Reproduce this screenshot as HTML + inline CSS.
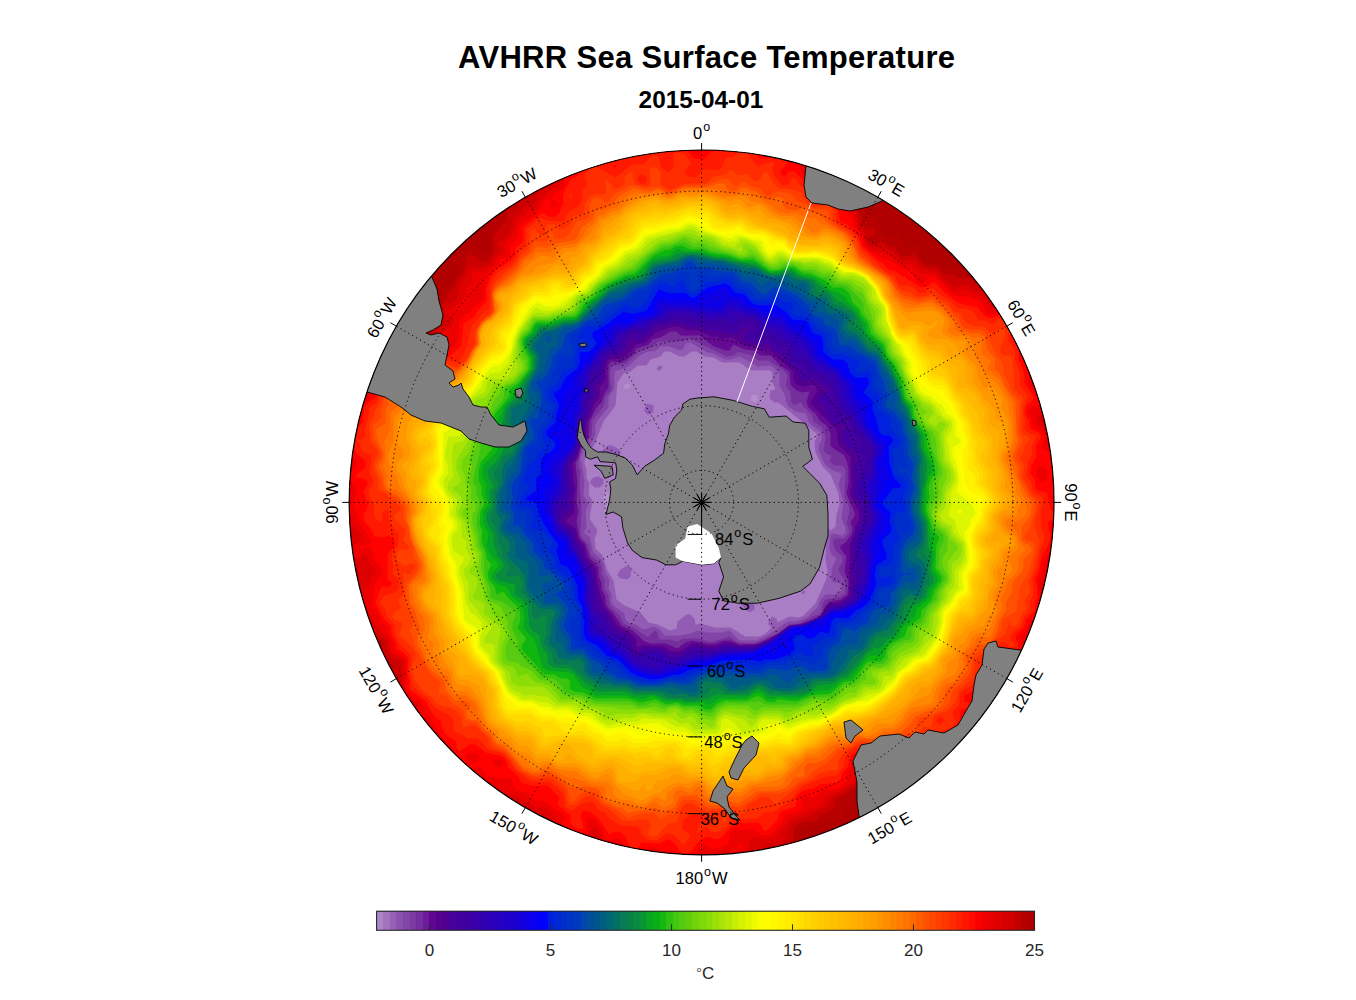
<!DOCTYPE html>
<html><head><meta charset="utf-8"><title>AVHRR Sea Surface Temperature</title>
<style>html,body{margin:0;padding:0;background:#fff;width:1356px;height:1000px;overflow:hidden;font-family:"Liberation Sans",sans-serif}
body{position:relative}</style></head><body>
<svg width="1356" height="1000" viewBox="0 0 1356 1000" style="position:absolute;left:0;top:0">
<defs><clipPath id="dc"><circle cx="701.6" cy="502.4" r="352.4"/></clipPath></defs>
<text x="458" y="67.8" font-family="Liberation Sans" font-weight="bold" font-size="31" letter-spacing="0.32">AVHRR Sea Surface Temperature</text>
<text x="638.6" y="108.2" font-family="Liberation Sans" font-weight="bold" font-size="24.4">2015-04-01</text>
<g clip-path="url(#dc)">
<rect x="340" y="140" width="725" height="725" fill="#b00000"/>
<path fill="#b70000" d="M943.5 850.5 940.5 852.5 940.5 854.5 945.5 857.5 948.5 854.5 948.5 852.5 946.5 850.5ZM999.5 846.5 1001.5 850.5 1006.5 850.5 1006.5 847.5 1003.5 844.5ZM428.5 839.5 428.5 842.5 430.5 843.5 435.5 842.5 432.5 838.5ZM991.5 818.5 989.5 819.5 989.5 821.5 992.5 823.5 993.5 819.5ZM351.5 753.5 352.5 758.5 356.5 759.5 357.5 755.5ZM1062.5 293.5 1060.5 297.5 1062.5 302.5 1064.5 303.5 1064.5 293.5ZM473.5 243.5 474.5 242.5 475.5 244.5 474.5 245.5ZM386.5 208.5 384.5 208.5 381.5 213.5 383.5 219.5 389.5 216.5 389.5 211.5ZM399.5 189.5 400.5 194.5 404.5 194.5 403.5 190.5ZM467.5 171.5 465.5 173.5 467.5 176.5 469.5 176.5 470.5 173.5ZM570.5 140.5 566.5 143.5 563.5 148.5 552.5 154.5 553.5 155.5 550.5 158.5 551.5 159.5 548.5 162.5 549.5 163.5 542.5 175.5 539.5 176.5 532.5 173.5 523.5 175.5 521.5 178.5 523.5 183.5 521.5 185.5 522.5 188.5 518.5 194.5 509.5 200.5 500.5 200.5 497.5 202.5 495.5 208.5 496.5 211.5 493.5 214.5 489.5 215.5 485.5 221.5 485.5 226.5 489.5 231.5 488.5 241.5 491.5 246.5 489.5 251.5 487.5 253.5 484.5 253.5 475.5 247.5 474.5 245.5 478.5 238.5 476.5 236.5 473.5 240.5 473.5 243.5 460.5 252.5 458.5 252.5 452.5 259.5 452.5 262.5 459.5 267.5 459.5 271.5 449.5 283.5 441.5 287.5 440.5 294.5 436.5 299.5 428.5 299.5 428.5 307.5 416.5 317.5 412.5 325.5 403.5 337.5 397.5 342.5 394.5 341.5 394.5 344.5 396.5 343.5 399.5 349.5 396.5 352.5 395.5 351.5 393.5 354.5 392.5 353.5 389.5 360.5 386.5 363.5 376.5 363.5 371.5 367.5 370.5 372.5 357.5 382.5 354.5 382.5 351.5 385.5 347.5 395.5 340.5 400.5 340.5 610.5 344.5 612.5 350.5 612.5 352.5 614.5 351.5 624.5 363.5 649.5 371.5 655.5 372.5 660.5 377.5 664.5 381.5 670.5 384.5 681.5 384.5 690.5 391.5 696.5 393.5 700.5 392.5 710.5 398.5 716.5 397.5 727.5 399.5 733.5 402.5 736.5 417.5 737.5 420.5 740.5 419.5 748.5 425.5 753.5 428.5 760.5 438.5 768.5 440.5 774.5 445.5 780.5 453.5 783.5 461.5 791.5 474.5 798.5 478.5 802.5 479.5 812.5 481.5 814.5 487.5 815.5 494.5 810.5 494.5 806.5 497.5 804.5 498.5 809.5 500.5 811.5 508.5 814.5 509.5 823.5 511.5 825.5 536.5 838.5 532.5 847.5 538.5 857.5 548.5 861.5 568.5 860.5 582.5 864.5 593.5 860.5 596.5 864.5 786.5 864.5 786.5 859.5 788.5 858.5 787.5 855.5 788.5 854.5 791.5 856.5 794.5 855.5 793.5 854.5 796.5 852.5 797.5 844.5 799.5 842.5 799.5 830.5 806.5 826.5 823.5 824.5 826.5 820.5 829.5 819.5 840.5 822.5 842.5 819.5 841.5 814.5 844.5 812.5 843.5 811.5 852.5 805.5 852.5 793.5 855.5 790.5 859.5 790.5 866.5 795.5 873.5 796.5 878.5 784.5 881.5 781.5 886.5 779.5 892.5 782.5 900.5 783.5 903.5 782.5 907.5 776.5 913.5 772.5 917.5 772.5 926.5 777.5 931.5 777.5 933.5 775.5 934.5 777.5 937.5 775.5 943.5 782.5 945.5 780.5 947.5 781.5 955.5 776.5 956.5 770.5 959.5 766.5 969.5 767.5 974.5 760.5 979.5 756.5 987.5 752.5 996.5 753.5 999.5 747.5 1000.5 740.5 1003.5 737.5 1013.5 739.5 1017.5 736.5 1009.5 721.5 1009.5 716.5 1017.5 710.5 1025.5 709.5 1025.5 695.5 1023.5 689.5 1020.5 686.5 1020.5 683.5 1022.5 681.5 1030.5 683.5 1032.5 680.5 1032.5 671.5 1034.5 669.5 1042.5 669.5 1045.5 666.5 1043.5 656.5 1047.5 649.5 1050.5 647.5 1056.5 647.5 1060.5 644.5 1060.5 640.5 1056.5 632.5 1054.5 621.5 1059.5 611.5 1061.5 599.5 1059.5 590.5 1064.5 587.5 1064.5 373.5 1053.5 365.5 1052.5 359.5 1055.5 352.5 1062.5 351.5 1063.5 336.5 1056.5 333.5 1046.5 318.5 1036.5 308.5 1037.5 298.5 1029.5 287.5 1019.5 290.5 1008.5 279.5 1006.5 271.5 1004.5 269.5 992.5 269.5 981.5 264.5 978.5 264.5 970.5 269.5 962.5 269.5 956.5 267.5 949.5 269.5 944.5 268.5 937.5 262.5 930.5 263.5 924.5 260.5 919.5 254.5 919.5 245.5 916.5 244.5 906.5 249.5 903.5 246.5 900.5 236.5 898.5 234.5 894.5 235.5 891.5 238.5 885.5 238.5 879.5 231.5 880.5 223.5 869.5 212.5 865.5 211.5 865.5 209.5 862.5 208.5 863.5 206.5 861.5 204.5 862.5 201.5 860.5 198.5 861.5 191.5 859.5 188.5 845.5 181.5 845.5 173.5 847.5 170.5 846.5 163.5 850.5 154.5 846.5 146.5 841.5 141.5Z"/>
<path fill="#cd0000" d="M484.5 807.5 484.5 809.5 486.5 809.5ZM429.5 316.5 423.5 316.5 419.5 322.5 424.5 323.5 429.5 321.5ZM1022.5 301.5 1024.5 299.5 1028.5 300.5 1024.5 303.5ZM575.5 140.5 576.5 141.5 570.5 146.5 568.5 150.5 562.5 156.5 557.5 158.5 558.5 159.5 555.5 161.5 556.5 163.5 549.5 171.5 550.5 172.5 548.5 174.5 546.5 182.5 541.5 186.5 533.5 188.5 528.5 191.5 517.5 203.5 518.5 205.5 515.5 208.5 509.5 208.5 510.5 209.5 508.5 210.5 503.5 205.5 508.5 212.5 506.5 214.5 506.5 220.5 501.5 226.5 497.5 228.5 498.5 229.5 493.5 236.5 493.5 251.5 488.5 259.5 485.5 261.5 481.5 261.5 472.5 254.5 467.5 255.5 462.5 274.5 456.5 280.5 454.5 287.5 447.5 292.5 446.5 298.5 439.5 306.5 440.5 321.5 435.5 324.5 428.5 333.5 421.5 336.5 418.5 340.5 414.5 341.5 411.5 338.5 408.5 338.5 404.5 346.5 405.5 352.5 401.5 358.5 399.5 357.5 395.5 359.5 387.5 371.5 386.5 370.5 384.5 372.5 378.5 372.5 372.5 378.5 371.5 377.5 368.5 380.5 367.5 379.5 364.5 381.5 364.5 387.5 362.5 391.5 354.5 391.5 346.5 402.5 340.5 404.5 340.5 559.5 344.5 566.5 344.5 572.5 340.5 577.5 340.5 582.5 343.5 587.5 340.5 592.5 340.5 599.5 345.5 594.5 348.5 595.5 357.5 613.5 355.5 619.5 356.5 627.5 368.5 637.5 378.5 638.5 383.5 642.5 383.5 644.5 379.5 648.5 376.5 648.5 376.5 655.5 380.5 659.5 386.5 659.5 392.5 663.5 393.5 665.5 390.5 669.5 390.5 672.5 394.5 679.5 391.5 684.5 391.5 687.5 395.5 690.5 397.5 694.5 399.5 707.5 410.5 724.5 409.5 729.5 421.5 735.5 425.5 739.5 427.5 749.5 434.5 760.5 438.5 760.5 443.5 756.5 447.5 756.5 450.5 759.5 451.5 768.5 457.5 773.5 460.5 780.5 464.5 784.5 481.5 795.5 498.5 797.5 514.5 812.5 516.5 821.5 521.5 826.5 525.5 828.5 532.5 828.5 537.5 825.5 539.5 826.5 546.5 840.5 546.5 846.5 541.5 851.5 543.5 854.5 556.5 857.5 566.5 855.5 580.5 859.5 587.5 855.5 594.5 855.5 598.5 858.5 600.5 864.5 769.5 864.5 770.5 862.5 773.5 864.5 773.5 861.5 775.5 864.5 779.5 864.5 779.5 861.5 775.5 861.5 774.5 855.5 777.5 852.5 776.5 851.5 780.5 848.5 791.5 846.5 794.5 843.5 793.5 829.5 795.5 826.5 804.5 821.5 815.5 821.5 820.5 814.5 832.5 809.5 835.5 804.5 835.5 799.5 838.5 796.5 846.5 794.5 852.5 787.5 856.5 785.5 862.5 785.5 865.5 787.5 866.5 790.5 870.5 791.5 870.5 787.5 868.5 785.5 869.5 784.5 868.5 785.5 867.5 783.5 876.5 779.5 882.5 772.5 885.5 772.5 893.5 778.5 898.5 779.5 914.5 767.5 918.5 767.5 925.5 771.5 939.5 768.5 944.5 773.5 949.5 774.5 951.5 772.5 951.5 767.5 955.5 763.5 961.5 760.5 968.5 760.5 982.5 751.5 982.5 741.5 985.5 737.5 987.5 737.5 989.5 742.5 993.5 744.5 994.5 739.5 991.5 734.5 995.5 730.5 1002.5 729.5 999.5 726.5 999.5 720.5 1001.5 716.5 1000.5 710.5 1011.5 706.5 1013.5 703.5 1010.5 696.5 1014.5 690.5 1015.5 677.5 1026.5 671.5 1028.5 665.5 1036.5 653.5 1050.5 638.5 1048.5 623.5 1055.5 611.5 1056.5 605.5 1055.5 600.5 1049.5 591.5 1049.5 588.5 1064.5 580.5 1064.5 404.5 1061.5 399.5 1052.5 391.5 1052.5 389.5 1059.5 382.5 1060.5 377.5 1047.5 363.5 1048.5 350.5 1055.5 342.5 1055.5 340.5 1043.5 326.5 1029.5 302.5 1031.5 299.5 1030.5 296.5 1024.5 295.5 1020.5 297.5 1016.5 295.5 1010.5 288.5 1005.5 287.5 1002.5 284.5 1002.5 274.5 999.5 272.5 988.5 273.5 982.5 281.5 975.5 283.5 971.5 278.5 970.5 279.5 968.5 277.5 963.5 277.5 960.5 279.5 958.5 277.5 957.5 278.5 954.5 274.5 944.5 274.5 936.5 266.5 927.5 266.5 922.5 263.5 913.5 253.5 910.5 255.5 902.5 256.5 897.5 252.5 895.5 247.5 891.5 247.5 880.5 241.5 873.5 244.5 869.5 240.5 869.5 237.5 874.5 233.5 873.5 228.5 871.5 226.5 872.5 225.5 869.5 228.5 865.5 228.5 862.5 225.5 862.5 219.5 860.5 217.5 861.5 216.5 859.5 214.5 857.5 207.5 857.5 198.5 855.5 196.5 856.5 194.5 853.5 193.5 854.5 191.5 852.5 192.5 851.5 190.5 849.5 191.5 848.5 189.5 846.5 189.5 846.5 187.5 844.5 187.5 841.5 183.5 842.5 181.5 840.5 179.5 840.5 169.5 846.5 156.5 844.5 152.5 845.5 150.5 842.5 147.5 843.5 146.5 841.5 146.5 834.5 140.5Z"/>
<path fill="#dc0000" d="M722.5 854.5 725.5 857.5 723.5 860.5 719.5 861.5 717.5 857.5ZM582.5 140.5 583.5 143.5 580.5 145.5 581.5 146.5 578.5 147.5 578.5 149.5 574.5 153.5 567.5 157.5 562.5 168.5 554.5 173.5 552.5 178.5 553.5 181.5 551.5 184.5 539.5 192.5 533.5 204.5 524.5 204.5 525.5 205.5 523.5 206.5 521.5 211.5 514.5 216.5 511.5 228.5 508.5 233.5 497.5 243.5 499.5 249.5 493.5 256.5 491.5 262.5 487.5 265.5 482.5 266.5 468.5 266.5 466.5 274.5 459.5 284.5 457.5 297.5 452.5 302.5 447.5 304.5 443.5 309.5 443.5 314.5 446.5 319.5 446.5 322.5 436.5 330.5 435.5 339.5 433.5 341.5 426.5 339.5 418.5 346.5 410.5 346.5 409.5 352.5 411.5 355.5 407.5 361.5 406.5 360.5 404.5 362.5 398.5 363.5 390.5 372.5 384.5 376.5 383.5 375.5 380.5 378.5 379.5 377.5 375.5 382.5 368.5 387.5 367.5 391.5 360.5 399.5 354.5 402.5 350.5 407.5 349.5 406.5 347.5 409.5 345.5 409.5 351.5 411.5 351.5 416.5 348.5 421.5 340.5 428.5 340.5 438.5 344.5 445.5 343.5 450.5 340.5 453.5 340.5 465.5 343.5 474.5 343.5 478.5 340.5 482.5 340.5 497.5 342.5 505.5 340.5 514.5 340.5 542.5 343.5 543.5 347.5 548.5 347.5 556.5 349.5 561.5 358.5 569.5 358.5 578.5 352.5 586.5 352.5 593.5 355.5 602.5 360.5 610.5 361.5 615.5 359.5 624.5 367.5 631.5 381.5 636.5 386.5 641.5 387.5 653.5 401.5 662.5 401.5 682.5 399.5 687.5 401.5 697.5 404.5 701.5 409.5 702.5 414.5 707.5 410.5 713.5 410.5 716.5 414.5 721.5 416.5 727.5 429.5 737.5 431.5 743.5 430.5 744.5 436.5 753.5 442.5 750.5 447.5 751.5 452.5 756.5 455.5 765.5 461.5 773.5 473.5 783.5 481.5 787.5 489.5 788.5 493.5 792.5 509.5 800.5 514.5 805.5 525.5 806.5 529.5 808.5 533.5 816.5 531.5 819.5 528.5 818.5 527.5 822.5 530.5 821.5 535.5 814.5 543.5 813.5 549.5 825.5 547.5 833.5 554.5 845.5 557.5 846.5 566.5 839.5 573.5 839.5 581.5 846.5 588.5 849.5 596.5 850.5 601.5 855.5 604.5 861.5 610.5 864.5 638.5 864.5 641.5 861.5 646.5 864.5 759.5 864.5 765.5 857.5 764.5 847.5 770.5 843.5 775.5 844.5 784.5 841.5 783.5 839.5 786.5 838.5 785.5 834.5 787.5 832.5 787.5 829.5 795.5 820.5 810.5 815.5 811.5 813.5 828.5 805.5 829.5 800.5 832.5 796.5 842.5 792.5 861.5 777.5 868.5 776.5 873.5 773.5 878.5 766.5 885.5 766.5 893.5 772.5 897.5 772.5 903.5 767.5 904.5 768.5 913.5 763.5 918.5 762.5 924.5 765.5 929.5 765.5 941.5 756.5 952.5 758.5 963.5 748.5 967.5 752.5 976.5 751.5 978.5 738.5 982.5 731.5 992.5 721.5 993.5 708.5 998.5 703.5 1005.5 701.5 1006.5 692.5 1010.5 687.5 1012.5 675.5 1016.5 671.5 1021.5 670.5 1023.5 668.5 1030.5 654.5 1031.5 645.5 1039.5 640.5 1041.5 626.5 1051.5 608.5 1051.5 601.5 1044.5 591.5 1044.5 586.5 1053.5 579.5 1054.5 573.5 1056.5 571.5 1064.5 569.5 1064.5 484.5 1062.5 482.5 1062.5 477.5 1064.5 474.5 1064.5 454.5 1056.5 442.5 1058.5 434.5 1056.5 424.5 1056.5 402.5 1048.5 395.5 1045.5 390.5 1053.5 379.5 1052.5 374.5 1044.5 366.5 1040.5 356.5 1046.5 344.5 1046.5 340.5 1040.5 340.5 1035.5 336.5 1035.5 319.5 1029.5 308.5 1018.5 306.5 1003.5 293.5 997.5 293.5 995.5 295.5 993.5 294.5 996.5 290.5 995.5 288.5 997.5 285.5 997.5 278.5 992.5 277.5 988.5 284.5 981.5 290.5 975.5 290.5 973.5 288.5 972.5 289.5 968.5 284.5 955.5 286.5 945.5 280.5 936.5 270.5 922.5 268.5 914.5 260.5 911.5 259.5 902.5 260.5 892.5 251.5 881.5 246.5 870.5 246.5 866.5 241.5 864.5 232.5 859.5 226.5 858.5 218.5 854.5 210.5 855.5 209.5 853.5 205.5 848.5 202.5 849.5 201.5 843.5 199.5 844.5 197.5 842.5 196.5 842.5 189.5 836.5 178.5 836.5 166.5 841.5 158.5 841.5 150.5 838.5 148.5 839.5 147.5 827.5 143.5 827.5 140.5Z"/>
<path fill="#ec0000" d="M348.5 529.5 342.5 532.5 341.5 535.5 346.5 537.5 348.5 535.5ZM593.5 140.5 594.5 148.5 572.5 159.5 560.5 175.5 558.5 185.5 541.5 197.5 535.5 208.5 528.5 210.5 523.5 216.5 521.5 216.5 517.5 220.5 514.5 232.5 502.5 244.5 505.5 249.5 505.5 252.5 497.5 256.5 493.5 265.5 480.5 272.5 473.5 270.5 471.5 271.5 472.5 282.5 465.5 286.5 465.5 294.5 455.5 306.5 447.5 310.5 447.5 313.5 452.5 316.5 454.5 320.5 450.5 327.5 441.5 332.5 444.5 342.5 436.5 347.5 423.5 347.5 419.5 351.5 417.5 356.5 418.5 358.5 415.5 361.5 394.5 370.5 388.5 377.5 372.5 387.5 367.5 396.5 356.5 408.5 355.5 418.5 343.5 431.5 343.5 436.5 348.5 445.5 348.5 449.5 345.5 456.5 345.5 459.5 348.5 464.5 347.5 479.5 343.5 486.5 343.5 489.5 346.5 492.5 345.5 518.5 349.5 527.5 354.5 526.5 361.5 534.5 361.5 538.5 352.5 545.5 352.5 554.5 356.5 559.5 365.5 554.5 367.5 556.5 368.5 563.5 376.5 569.5 376.5 572.5 370.5 577.5 369.5 584.5 364.5 588.5 358.5 588.5 356.5 593.5 357.5 596.5 363.5 602.5 363.5 607.5 366.5 612.5 371.5 616.5 373.5 622.5 389.5 641.5 390.5 651.5 392.5 654.5 400.5 657.5 404.5 661.5 403.5 692.5 405.5 696.5 418.5 703.5 419.5 707.5 416.5 712.5 416.5 717.5 424.5 721.5 435.5 735.5 436.5 740.5 445.5 745.5 452.5 752.5 460.5 767.5 467.5 774.5 482.5 781.5 491.5 782.5 496.5 786.5 496.5 788.5 499.5 791.5 504.5 793.5 515.5 794.5 535.5 807.5 545.5 807.5 555.5 818.5 556.5 829.5 553.5 834.5 555.5 839.5 560.5 839.5 568.5 834.5 579.5 837.5 585.5 837.5 593.5 827.5 598.5 830.5 600.5 834.5 600.5 842.5 607.5 849.5 609.5 849.5 612.5 846.5 616.5 846.5 621.5 859.5 624.5 861.5 628.5 861.5 633.5 856.5 643.5 856.5 654.5 864.5 697.5 864.5 704.5 852.5 711.5 853.5 719.5 850.5 728.5 850.5 740.5 858.5 742.5 857.5 743.5 862.5 743.5 855.5 748.5 848.5 748.5 842.5 751.5 837.5 757.5 837.5 761.5 839.5 773.5 838.5 791.5 817.5 801.5 814.5 809.5 808.5 811.5 809.5 821.5 805.5 826.5 795.5 842.5 789.5 852.5 781.5 857.5 774.5 860.5 774.5 862.5 772.5 863.5 773.5 865.5 771.5 866.5 772.5 875.5 763.5 882.5 762.5 887.5 764.5 889.5 763.5 891.5 765.5 893.5 763.5 895.5 764.5 896.5 762.5 897.5 764.5 899.5 762.5 904.5 763.5 906.5 761.5 907.5 763.5 915.5 759.5 929.5 761.5 938.5 753.5 951.5 753.5 959.5 744.5 971.5 740.5 977.5 735.5 980.5 727.5 980.5 722.5 988.5 715.5 991.5 705.5 1001.5 696.5 1001.5 692.5 997.5 688.5 997.5 685.5 1005.5 684.5 1008.5 681.5 1011.5 671.5 1015.5 667.5 1020.5 665.5 1020.5 657.5 1025.5 651.5 1026.5 639.5 1034.5 633.5 1035.5 624.5 1043.5 617.5 1047.5 602.5 1041.5 591.5 1041.5 583.5 1048.5 577.5 1048.5 573.5 1046.5 570.5 1047.5 562.5 1050.5 559.5 1055.5 558.5 1058.5 554.5 1059.5 549.5 1056.5 544.5 1056.5 539.5 1064.5 531.5 1064.5 489.5 1060.5 487.5 1057.5 482.5 1060.5 470.5 1059.5 455.5 1057.5 450.5 1050.5 443.5 1050.5 434.5 1038.5 423.5 1037.5 417.5 1039.5 415.5 1044.5 414.5 1048.5 417.5 1046.5 412.5 1048.5 402.5 1036.5 385.5 1036.5 382.5 1038.5 380.5 1045.5 380.5 1046.5 375.5 1040.5 367.5 1037.5 360.5 1031.5 354.5 1034.5 342.5 1030.5 335.5 1031.5 321.5 1030.5 315.5 1027.5 311.5 1014.5 309.5 1012.5 310.5 1008.5 308.5 1002.5 301.5 996.5 303.5 992.5 307.5 989.5 306.5 988.5 303.5 982.5 297.5 972.5 293.5 967.5 289.5 966.5 290.5 963.5 288.5 955.5 291.5 952.5 290.5 934.5 273.5 921.5 273.5 911.5 264.5 900.5 263.5 890.5 254.5 869.5 248.5 863.5 239.5 863.5 235.5 857.5 228.5 858.5 227.5 856.5 225.5 857.5 223.5 855.5 220.5 856.5 218.5 854.5 216.5 855.5 215.5 853.5 211.5 840.5 200.5 839.5 193.5 837.5 191.5 838.5 189.5 835.5 184.5 834.5 175.5 830.5 169.5 833.5 162.5 830.5 165.5 829.5 164.5 831.5 159.5 827.5 164.5 826.5 162.5 824.5 164.5 822.5 163.5 823.5 162.5 820.5 163.5 818.5 156.5 810.5 154.5 808.5 150.5 810.5 140.5Z"/>
<path fill="#ff0200" d="M741.5 843.5 737.5 845.5 738.5 849.5 742.5 848.5ZM492.5 761.5 495.5 759.5 500.5 759.5 503.5 762.5 503.5 764.5 500.5 767.5 496.5 767.5ZM476.5 752.5 479.5 756.5 477.5 760.5 472.5 764.5 465.5 758.5 465.5 756.5 468.5 753.5ZM967.5 718.5 970.5 717.5 971.5 721.5 969.5 722.5ZM1039.5 466.5 1044.5 467.5 1047.5 471.5 1047.5 477.5 1043.5 482.5 1039.5 480.5 1036.5 474.5 1036.5 469.5ZM804.5 159.5 802.5 161.5 802.5 164.5ZM693.5 142.5 699.5 143.5 702.5 146.5 703.5 149.5 700.5 154.5 695.5 154.5 690.5 149.5 690.5 145.5ZM800.5 140.5 791.5 140.5 787.5 144.5 783.5 140.5 610.5 140.5 596.5 154.5 583.5 157.5 577.5 161.5 572.5 167.5 572.5 169.5 565.5 176.5 563.5 187.5 559.5 191.5 555.5 192.5 553.5 194.5 554.5 195.5 551.5 197.5 556.5 202.5 556.5 206.5 551.5 206.5 550.5 199.5 548.5 198.5 543.5 200.5 540.5 208.5 528.5 219.5 520.5 224.5 517.5 237.5 515.5 238.5 516.5 239.5 509.5 244.5 510.5 254.5 507.5 257.5 500.5 259.5 497.5 265.5 489.5 272.5 486.5 277.5 482.5 300.5 476.5 304.5 468.5 313.5 466.5 313.5 459.5 321.5 457.5 341.5 455.5 345.5 446.5 351.5 433.5 350.5 426.5 352.5 423.5 361.5 420.5 364.5 415.5 364.5 403.5 371.5 397.5 372.5 385.5 383.5 374.5 389.5 369.5 398.5 361.5 406.5 359.5 412.5 359.5 419.5 348.5 431.5 348.5 438.5 351.5 445.5 351.5 457.5 356.5 462.5 355.5 467.5 352.5 469.5 350.5 473.5 350.5 480.5 352.5 484.5 356.5 487.5 356.5 493.5 353.5 499.5 353.5 504.5 360.5 524.5 370.5 539.5 370.5 542.5 367.5 545.5 361.5 545.5 357.5 549.5 358.5 550.5 364.5 546.5 368.5 546.5 373.5 551.5 373.5 560.5 377.5 562.5 382.5 568.5 382.5 573.5 376.5 580.5 374.5 585.5 371.5 605.5 376.5 610.5 381.5 622.5 387.5 627.5 387.5 632.5 393.5 643.5 394.5 651.5 402.5 655.5 406.5 660.5 406.5 691.5 410.5 695.5 422.5 702.5 424.5 712.5 429.5 717.5 440.5 735.5 451.5 746.5 462.5 764.5 467.5 769.5 472.5 770.5 476.5 766.5 478.5 766.5 482.5 769.5 486.5 776.5 494.5 776.5 499.5 779.5 509.5 777.5 512.5 780.5 512.5 785.5 516.5 790.5 527.5 792.5 534.5 800.5 543.5 801.5 554.5 809.5 561.5 812.5 564.5 815.5 564.5 818.5 561.5 823.5 561.5 828.5 563.5 830.5 570.5 829.5 578.5 833.5 583.5 833.5 587.5 829.5 586.5 819.5 588.5 817.5 593.5 818.5 601.5 828.5 604.5 838.5 606.5 840.5 618.5 838.5 622.5 842.5 624.5 847.5 632.5 852.5 644.5 851.5 649.5 846.5 661.5 850.5 666.5 850.5 670.5 848.5 681.5 859.5 687.5 859.5 693.5 856.5 698.5 848.5 703.5 844.5 711.5 848.5 716.5 848.5 725.5 845.5 728.5 842.5 729.5 833.5 735.5 827.5 741.5 830.5 752.5 829.5 763.5 835.5 770.5 834.5 779.5 825.5 785.5 814.5 797.5 811.5 802.5 808.5 801.5 807.5 803.5 803.5 801.5 799.5 803.5 797.5 810.5 796.5 813.5 798.5 820.5 790.5 833.5 789.5 841.5 786.5 846.5 780.5 846.5 774.5 851.5 767.5 853.5 760.5 856.5 758.5 859.5 758.5 866.5 766.5 869.5 762.5 870.5 763.5 871.5 761.5 876.5 759.5 888.5 761.5 890.5 759.5 891.5 760.5 893.5 758.5 897.5 758.5 898.5 756.5 902.5 756.5 903.5 758.5 908.5 758.5 909.5 756.5 911.5 758.5 913.5 756.5 914.5 757.5 920.5 755.5 921.5 757.5 929.5 757.5 935.5 750.5 943.5 750.5 949.5 747.5 949.5 745.5 955.5 740.5 956.5 741.5 968.5 734.5 973.5 734.5 975.5 731.5 974.5 720.5 977.5 716.5 982.5 713.5 988.5 702.5 987.5 700.5 982.5 699.5 977.5 695.5 977.5 690.5 981.5 686.5 990.5 685.5 996.5 678.5 1005.5 678.5 1010.5 666.5 1011.5 658.5 1022.5 647.5 1020.5 635.5 1027.5 629.5 1029.5 620.5 1040.5 614.5 1041.5 596.5 1038.5 589.5 1038.5 578.5 1042.5 572.5 1043.5 560.5 1052.5 549.5 1052.5 539.5 1055.5 533.5 1056.5 525.5 1061.5 515.5 1060.5 507.5 1064.5 500.5 1064.5 494.5 1055.5 488.5 1052.5 479.5 1053.5 469.5 1050.5 466.5 1050.5 462.5 1054.5 457.5 1054.5 453.5 1051.5 450.5 1044.5 449.5 1041.5 447.5 1044.5 440.5 1044.5 434.5 1033.5 424.5 1028.5 410.5 1031.5 407.5 1039.5 405.5 1042.5 402.5 1042.5 399.5 1040.5 395.5 1029.5 384.5 1028.5 381.5 1029.5 376.5 1035.5 370.5 1035.5 367.5 1033.5 364.5 1025.5 362.5 1021.5 357.5 1022.5 352.5 1028.5 342.5 1026.5 337.5 1025.5 317.5 1022.5 315.5 1015.5 316.5 1006.5 313.5 1001.5 309.5 994.5 313.5 988.5 314.5 985.5 311.5 983.5 304.5 978.5 299.5 974.5 299.5 969.5 296.5 967.5 297.5 965.5 295.5 960.5 297.5 952.5 294.5 934.5 276.5 929.5 276.5 923.5 282.5 920.5 282.5 914.5 277.5 910.5 269.5 902.5 269.5 889.5 260.5 882.5 258.5 870.5 251.5 863.5 244.5 860.5 234.5 853.5 225.5 853.5 219.5 850.5 217.5 852.5 215.5 850.5 215.5 847.5 211.5 845.5 212.5 845.5 210.5 838.5 203.5 839.5 202.5 837.5 200.5 836.5 194.5 830.5 187.5 832.5 179.5 829.5 173.5 822.5 170.5 820.5 173.5 819.5 172.5 820.5 174.5 818.5 176.5 818.5 180.5 814.5 182.5 809.5 180.5 802.5 174.5 799.5 165.5 800.5 161.5 797.5 164.5 793.5 162.5 793.5 151.5 802.5 146.5 802.5 141.5Z"/>
<path fill="#ff1900" d="M612.5 165.5 615.5 164.5 616.5 166.5 614.5 168.5ZM767.5 144.5 770.5 146.5 774.5 145.5 777.5 140.5 768.5 140.5ZM752.5 140.5 742.5 140.5 740.5 144.5 733.5 148.5 725.5 144.5 721.5 144.5 714.5 151.5 710.5 151.5 707.5 156.5 703.5 159.5 694.5 158.5 683.5 147.5 681.5 140.5 677.5 140.5 668.5 149.5 666.5 149.5 663.5 146.5 662.5 140.5 654.5 140.5 654.5 146.5 647.5 151.5 644.5 151.5 635.5 146.5 632.5 147.5 629.5 153.5 625.5 156.5 618.5 147.5 612.5 147.5 607.5 150.5 600.5 158.5 589.5 159.5 585.5 161.5 581.5 165.5 578.5 175.5 570.5 179.5 562.5 195.5 563.5 204.5 560.5 208.5 559.5 213.5 553.5 217.5 546.5 215.5 544.5 213.5 540.5 213.5 523.5 227.5 523.5 239.5 521.5 243.5 515.5 247.5 514.5 256.5 509.5 261.5 495.5 270.5 490.5 277.5 486.5 288.5 486.5 301.5 478.5 309.5 473.5 317.5 463.5 323.5 461.5 345.5 450.5 355.5 431.5 355.5 429.5 361.5 427.5 361.5 426.5 364.5 418.5 369.5 417.5 368.5 413.5 370.5 409.5 374.5 408.5 373.5 407.5 376.5 400.5 376.5 398.5 378.5 395.5 378.5 394.5 380.5 393.5 379.5 383.5 388.5 378.5 390.5 376.5 392.5 375.5 397.5 368.5 402.5 364.5 407.5 362.5 422.5 353.5 430.5 351.5 435.5 355.5 452.5 364.5 460.5 365.5 463.5 364.5 468.5 355.5 475.5 356.5 477.5 363.5 478.5 367.5 481.5 367.5 484.5 363.5 491.5 367.5 504.5 367.5 507.5 363.5 514.5 364.5 521.5 370.5 528.5 374.5 536.5 383.5 537.5 389.5 535.5 394.5 539.5 394.5 544.5 387.5 554.5 387.5 579.5 392.5 583.5 388.5 587.5 382.5 586.5 380.5 588.5 375.5 602.5 383.5 618.5 391.5 626.5 391.5 634.5 396.5 642.5 397.5 648.5 403.5 652.5 408.5 658.5 407.5 673.5 409.5 680.5 409.5 689.5 426.5 701.5 428.5 707.5 436.5 718.5 441.5 721.5 441.5 726.5 445.5 734.5 456.5 741.5 456.5 747.5 459.5 751.5 469.5 744.5 475.5 744.5 485.5 752.5 502.5 756.5 506.5 760.5 508.5 767.5 518.5 776.5 521.5 782.5 530.5 785.5 547.5 785.5 559.5 797.5 557.5 804.5 570.5 815.5 570.5 823.5 578.5 829.5 583.5 828.5 580.5 814.5 583.5 810.5 589.5 811.5 598.5 818.5 609.5 834.5 614.5 831.5 621.5 832.5 625.5 836.5 629.5 846.5 632.5 848.5 637.5 848.5 641.5 842.5 660.5 843.5 666.5 839.5 669.5 839.5 675.5 844.5 681.5 853.5 686.5 854.5 692.5 850.5 697.5 842.5 706.5 836.5 716.5 839.5 720.5 838.5 736.5 821.5 744.5 823.5 757.5 822.5 761.5 825.5 763.5 830.5 766.5 830.5 776.5 821.5 780.5 811.5 795.5 806.5 797.5 795.5 801.5 791.5 810.5 788.5 812.5 789.5 819.5 784.5 837.5 782.5 840.5 779.5 842.5 772.5 847.5 766.5 851.5 754.5 858.5 751.5 861.5 751.5 863.5 753.5 865.5 751.5 867.5 754.5 871.5 754.5 872.5 752.5 874.5 755.5 876.5 754.5 878.5 756.5 886.5 758.5 898.5 752.5 906.5 752.5 907.5 750.5 909.5 751.5 911.5 749.5 912.5 751.5 914.5 749.5 916.5 751.5 918.5 749.5 920.5 750.5 921.5 748.5 923.5 750.5 924.5 747.5 926.5 749.5 927.5 747.5 929.5 748.5 930.5 746.5 936.5 744.5 943.5 744.5 952.5 734.5 959.5 732.5 961.5 727.5 961.5 719.5 959.5 715.5 960.5 710.5 964.5 708.5 973.5 708.5 973.5 706.5 970.5 703.5 964.5 701.5 964.5 695.5 972.5 691.5 978.5 683.5 989.5 681.5 995.5 672.5 1003.5 673.5 1005.5 671.5 1005.5 665.5 1002.5 658.5 1006.5 654.5 1017.5 649.5 1018.5 643.5 1015.5 638.5 1015.5 635.5 1024.5 626.5 1025.5 619.5 1035.5 610.5 1034.5 602.5 1037.5 597.5 1035.5 577.5 1038.5 572.5 1041.5 556.5 1047.5 546.5 1050.5 535.5 1047.5 523.5 1054.5 516.5 1053.5 511.5 1050.5 509.5 1047.5 494.5 1044.5 491.5 1038.5 490.5 1035.5 487.5 1034.5 479.5 1030.5 473.5 1031.5 465.5 1036.5 456.5 1035.5 446.5 1040.5 438.5 1040.5 435.5 1038.5 432.5 1029.5 428.5 1029.5 421.5 1025.5 413.5 1026.5 406.5 1034.5 397.5 1024.5 383.5 1024.5 375.5 1021.5 364.5 1018.5 359.5 1019.5 347.5 1013.5 338.5 1013.5 336.5 1020.5 331.5 1020.5 324.5 1000.5 314.5 993.5 317.5 987.5 317.5 980.5 311.5 978.5 307.5 959.5 303.5 944.5 292.5 933.5 281.5 927.5 286.5 920.5 287.5 910.5 280.5 907.5 280.5 906.5 277.5 905.5 278.5 904.5 276.5 902.5 276.5 894.5 270.5 893.5 271.5 888.5 269.5 882.5 262.5 879.5 261.5 862.5 246.5 857.5 234.5 847.5 224.5 840.5 221.5 838.5 210.5 839.5 209.5 833.5 200.5 834.5 199.5 832.5 196.5 829.5 195.5 830.5 194.5 825.5 193.5 822.5 190.5 820.5 190.5 820.5 188.5 812.5 186.5 805.5 182.5 794.5 171.5 788.5 171.5 785.5 175.5 781.5 175.5 780.5 170.5 785.5 165.5 788.5 158.5 787.5 150.5 780.5 149.5 772.5 155.5 765.5 158.5 759.5 158.5 757.5 156.5 757.5 150.5 759.5 146.5Z"/>
<path fill="#ff2c00" d="M940.5 716.5 944.5 719.5 941.5 724.5 939.5 724.5 936.5 721.5 936.5 719.5ZM569.5 194.5 569.5 197.5 571.5 198.5 571.5 194.5ZM640.5 174.5 643.5 174.5 646.5 177.5 646.5 181.5 644.5 183.5 640.5 183.5 637.5 180.5 637.5 177.5ZM616.5 152.5 613.5 151.5 610.5 154.5 611.5 157.5 616.5 156.5ZM746.5 150.5 740.5 150.5 732.5 157.5 726.5 157.5 724.5 159.5 722.5 166.5 719.5 169.5 703.5 169.5 695.5 177.5 688.5 176.5 685.5 173.5 685.5 169.5 690.5 163.5 690.5 161.5 684.5 154.5 679.5 152.5 673.5 153.5 673.5 167.5 668.5 172.5 661.5 167.5 657.5 155.5 652.5 155.5 643.5 164.5 631.5 164.5 615.5 177.5 595.5 166.5 589.5 168.5 584.5 175.5 587.5 184.5 582.5 190.5 582.5 198.5 578.5 206.5 568.5 211.5 563.5 221.5 547.5 220.5 540.5 218.5 535.5 221.5 526.5 229.5 525.5 244.5 518.5 252.5 516.5 258.5 510.5 265.5 499.5 271.5 495.5 275.5 489.5 287.5 489.5 309.5 484.5 311.5 471.5 326.5 467.5 345.5 461.5 358.5 456.5 362.5 441.5 358.5 438.5 365.5 435.5 368.5 431.5 366.5 428.5 368.5 426.5 367.5 412.5 376.5 411.5 378.5 410.5 377.5 409.5 379.5 405.5 381.5 403.5 380.5 396.5 384.5 394.5 383.5 379.5 393.5 376.5 402.5 368.5 408.5 369.5 411.5 364.5 431.5 365.5 435.5 362.5 439.5 356.5 439.5 360.5 444.5 360.5 449.5 362.5 450.5 362.5 452.5 371.5 454.5 369.5 474.5 371.5 475.5 373.5 482.5 368.5 490.5 368.5 494.5 373.5 504.5 374.5 517.5 379.5 522.5 382.5 518.5 382.5 512.5 386.5 509.5 388.5 511.5 389.5 522.5 398.5 534.5 398.5 544.5 392.5 553.5 391.5 559.5 393.5 565.5 392.5 573.5 398.5 579.5 399.5 587.5 395.5 592.5 384.5 595.5 379.5 602.5 385.5 609.5 386.5 616.5 394.5 624.5 395.5 635.5 400.5 644.5 410.5 654.5 411.5 658.5 409.5 673.5 413.5 686.5 421.5 694.5 427.5 697.5 434.5 707.5 449.5 715.5 453.5 719.5 453.5 730.5 455.5 732.5 460.5 733.5 467.5 738.5 477.5 738.5 483.5 743.5 486.5 748.5 502.5 753.5 509.5 760.5 514.5 769.5 531.5 781.5 549.5 781.5 562.5 792.5 564.5 798.5 564.5 805.5 567.5 808.5 572.5 810.5 581.5 803.5 592.5 801.5 598.5 810.5 605.5 812.5 608.5 817.5 619.5 825.5 637.5 826.5 640.5 829.5 641.5 834.5 647.5 839.5 656.5 840.5 666.5 833.5 669.5 833.5 675.5 836.5 682.5 844.5 685.5 843.5 690.5 835.5 682.5 829.5 683.5 819.5 688.5 815.5 698.5 814.5 704.5 817.5 710.5 817.5 713.5 820.5 710.5 824.5 706.5 824.5 702.5 820.5 700.5 821.5 696.5 833.5 706.5 826.5 711.5 831.5 717.5 832.5 725.5 828.5 731.5 819.5 734.5 817.5 747.5 819.5 757.5 817.5 766.5 811.5 771.5 812.5 788.5 802.5 802.5 786.5 826.5 776.5 836.5 775.5 843.5 766.5 845.5 756.5 849.5 751.5 856.5 747.5 857.5 748.5 861.5 745.5 875.5 748.5 883.5 754.5 887.5 754.5 891.5 751.5 892.5 752.5 892.5 750.5 894.5 750.5 895.5 748.5 900.5 749.5 910.5 744.5 915.5 744.5 921.5 739.5 932.5 741.5 939.5 737.5 941.5 731.5 952.5 726.5 955.5 722.5 952.5 713.5 953.5 710.5 959.5 704.5 959.5 697.5 961.5 692.5 964.5 689.5 971.5 686.5 979.5 677.5 985.5 678.5 988.5 676.5 988.5 669.5 981.5 662.5 981.5 660.5 984.5 657.5 992.5 654.5 998.5 648.5 999.5 644.5 1002.5 642.5 1005.5 642.5 1009.5 647.5 1014.5 646.5 1013.5 642.5 1010.5 639.5 1010.5 636.5 1014.5 630.5 1019.5 628.5 1022.5 623.5 1023.5 617.5 1030.5 610.5 1029.5 601.5 1033.5 595.5 1032.5 578.5 1036.5 569.5 1040.5 548.5 1044.5 540.5 1044.5 534.5 1041.5 528.5 1040.5 512.5 1043.5 501.5 1042.5 497.5 1032.5 490.5 1031.5 482.5 1026.5 476.5 1028.5 459.5 1032.5 453.5 1031.5 446.5 1036.5 436.5 1035.5 434.5 1029.5 433.5 1024.5 429.5 1025.5 419.5 1023.5 415.5 1023.5 406.5 1027.5 399.5 1027.5 394.5 1019.5 385.5 1020.5 376.5 1015.5 359.5 1014.5 348.5 1008.5 341.5 1008.5 334.5 1010.5 330.5 1009.5 324.5 1004.5 319.5 1000.5 318.5 997.5 319.5 993.5 324.5 992.5 322.5 990.5 323.5 986.5 320.5 979.5 320.5 972.5 311.5 966.5 308.5 957.5 308.5 950.5 300.5 939.5 294.5 933.5 288.5 928.5 289.5 925.5 292.5 919.5 293.5 912.5 286.5 911.5 287.5 909.5 285.5 899.5 285.5 894.5 275.5 885.5 271.5 861.5 248.5 856.5 236.5 850.5 230.5 836.5 221.5 836.5 211.5 830.5 201.5 819.5 201.5 810.5 196.5 807.5 189.5 800.5 185.5 795.5 178.5 792.5 178.5 788.5 184.5 782.5 185.5 773.5 174.5 772.5 168.5 774.5 163.5 772.5 161.5 757.5 166.5 750.5 158.5Z"/>
<path fill="#ff3e00" d="M726.5 818.5 724.5 817.5 722.5 819.5 722.5 823.5 726.5 821.5ZM1008.5 622.5 1009.5 621.5 1010.5 623.5 1009.5 624.5ZM767.5 172.5 764.5 172.5 759.5 179.5 754.5 181.5 746.5 173.5 737.5 175.5 732.5 170.5 729.5 170.5 725.5 174.5 713.5 176.5 705.5 183.5 684.5 183.5 671.5 189.5 668.5 189.5 660.5 184.5 660.5 172.5 657.5 168.5 653.5 166.5 649.5 169.5 650.5 183.5 646.5 186.5 636.5 184.5 633.5 181.5 632.5 174.5 634.5 170.5 624.5 176.5 624.5 184.5 617.5 188.5 613.5 188.5 611.5 184.5 606.5 179.5 604.5 179.5 606.5 192.5 603.5 194.5 596.5 193.5 589.5 196.5 585.5 203.5 583.5 212.5 581.5 214.5 573.5 216.5 571.5 222.5 566.5 227.5 560.5 229.5 554.5 224.5 547.5 224.5 545.5 226.5 544.5 232.5 541.5 235.5 535.5 231.5 535.5 228.5 530.5 230.5 529.5 243.5 526.5 249.5 519.5 256.5 514.5 265.5 502.5 274.5 496.5 280.5 492.5 287.5 491.5 312.5 480.5 321.5 474.5 333.5 475.5 343.5 465.5 360.5 456.5 367.5 445.5 363.5 437.5 372.5 424.5 372.5 412.5 381.5 410.5 381.5 409.5 383.5 408.5 382.5 390.5 388.5 382.5 394.5 379.5 404.5 374.5 410.5 373.5 416.5 369.5 423.5 370.5 442.5 377.5 449.5 377.5 455.5 373.5 462.5 373.5 468.5 378.5 481.5 377.5 489.5 384.5 492.5 388.5 496.5 389.5 500.5 393.5 500.5 400.5 507.5 400.5 509.5 395.5 513.5 394.5 516.5 395.5 520.5 405.5 529.5 403.5 540.5 409.5 547.5 407.5 549.5 400.5 549.5 396.5 553.5 396.5 560.5 402.5 565.5 406.5 566.5 408.5 564.5 413.5 563.5 415.5 566.5 410.5 574.5 407.5 574.5 405.5 572.5 403.5 573.5 403.5 594.5 398.5 599.5 398.5 602.5 401.5 607.5 395.5 611.5 392.5 616.5 394.5 619.5 401.5 622.5 402.5 624.5 399.5 634.5 410.5 645.5 415.5 653.5 415.5 659.5 413.5 661.5 411.5 668.5 415.5 681.5 424.5 692.5 432.5 697.5 436.5 703.5 442.5 706.5 447.5 706.5 457.5 711.5 461.5 717.5 462.5 726.5 465.5 727.5 472.5 724.5 475.5 725.5 487.5 737.5 489.5 744.5 492.5 747.5 505.5 753.5 517.5 769.5 532.5 778.5 549.5 777.5 553.5 779.5 564.5 789.5 566.5 793.5 566.5 799.5 569.5 805.5 575.5 804.5 583.5 797.5 590.5 795.5 593.5 796.5 603.5 806.5 608.5 808.5 622.5 820.5 633.5 821.5 637.5 819.5 647.5 819.5 650.5 822.5 650.5 827.5 647.5 832.5 650.5 836.5 655.5 836.5 668.5 823.5 676.5 822.5 679.5 815.5 679.5 811.5 685.5 803.5 692.5 803.5 705.5 811.5 730.5 809.5 735.5 810.5 739.5 813.5 744.5 813.5 746.5 805.5 760.5 797.5 768.5 796.5 774.5 803.5 777.5 802.5 800.5 784.5 811.5 779.5 819.5 773.5 829.5 770.5 836.5 770.5 838.5 767.5 837.5 763.5 841.5 755.5 846.5 750.5 859.5 743.5 869.5 743.5 886.5 749.5 886.5 747.5 888.5 747.5 888.5 745.5 890.5 745.5 891.5 743.5 897.5 745.5 903.5 744.5 907.5 740.5 908.5 741.5 909.5 739.5 910.5 740.5 918.5 735.5 924.5 726.5 929.5 727.5 931.5 725.5 933.5 716.5 938.5 713.5 946.5 711.5 955.5 702.5 958.5 690.5 971.5 679.5 974.5 670.5 974.5 662.5 976.5 658.5 981.5 653.5 990.5 650.5 994.5 646.5 997.5 639.5 1004.5 635.5 1008.5 624.5 1014.5 626.5 1018.5 623.5 1021.5 614.5 1026.5 608.5 1024.5 600.5 1030.5 591.5 1028.5 581.5 1033.5 569.5 1039.5 540.5 1034.5 526.5 1034.5 519.5 1038.5 507.5 1038.5 500.5 1030.5 492.5 1026.5 482.5 1022.5 477.5 1024.5 465.5 1020.5 459.5 1020.5 456.5 1023.5 452.5 1025.5 444.5 1029.5 439.5 1029.5 437.5 1023.5 434.5 1021.5 431.5 1021.5 404.5 1023.5 398.5 1014.5 389.5 1012.5 358.5 1010.5 355.5 1003.5 355.5 1000.5 352.5 1000.5 347.5 1005.5 334.5 1003.5 327.5 998.5 329.5 993.5 334.5 983.5 326.5 975.5 326.5 969.5 323.5 968.5 324.5 963.5 319.5 960.5 313.5 953.5 311.5 947.5 302.5 938.5 298.5 933.5 293.5 924.5 296.5 916.5 296.5 908.5 291.5 901.5 290.5 890.5 276.5 874.5 265.5 860.5 251.5 855.5 238.5 849.5 232.5 835.5 223.5 832.5 217.5 833.5 212.5 830.5 206.5 826.5 204.5 820.5 206.5 814.5 205.5 807.5 201.5 802.5 195.5 802.5 193.5 793.5 189.5 778.5 188.5 773.5 183.5Z"/>
<path fill="#ff4f00" d="M745.5 181.5 742.5 181.5 737.5 185.5 733.5 185.5 729.5 179.5 723.5 178.5 704.5 185.5 684.5 185.5 671.5 191.5 667.5 191.5 659.5 186.5 643.5 188.5 639.5 186.5 630.5 185.5 622.5 190.5 615.5 192.5 608.5 201.5 604.5 201.5 599.5 197.5 593.5 198.5 589.5 204.5 589.5 214.5 587.5 218.5 576.5 221.5 569.5 233.5 563.5 238.5 555.5 238.5 553.5 236.5 552.5 231.5 550.5 230.5 548.5 234.5 548.5 239.5 546.5 241.5 534.5 241.5 528.5 252.5 519.5 260.5 517.5 265.5 495.5 285.5 492.5 290.5 491.5 297.5 493.5 302.5 493.5 310.5 491.5 314.5 484.5 318.5 476.5 330.5 476.5 344.5 471.5 350.5 467.5 359.5 457.5 368.5 446.5 368.5 443.5 373.5 439.5 375.5 425.5 375.5 401.5 389.5 398.5 388.5 389.5 391.5 383.5 398.5 382.5 407.5 380.5 410.5 380.5 418.5 373.5 424.5 372.5 427.5 373.5 439.5 380.5 450.5 380.5 456.5 375.5 466.5 381.5 481.5 381.5 486.5 383.5 487.5 383.5 489.5 395.5 497.5 404.5 507.5 403.5 516.5 408.5 528.5 409.5 538.5 413.5 546.5 413.5 557.5 418.5 563.5 417.5 571.5 406.5 583.5 405.5 600.5 412.5 617.5 412.5 626.5 408.5 631.5 411.5 633.5 414.5 645.5 429.5 673.5 440.5 682.5 438.5 691.5 439.5 694.5 440.5 693.5 446.5 696.5 452.5 704.5 460.5 707.5 463.5 711.5 465.5 719.5 468.5 721.5 476.5 722.5 482.5 730.5 490.5 737.5 492.5 742.5 496.5 746.5 504.5 750.5 513.5 759.5 521.5 770.5 535.5 776.5 542.5 774.5 552.5 775.5 566.5 786.5 571.5 801.5 573.5 801.5 580.5 793.5 589.5 791.5 595.5 792.5 602.5 802.5 617.5 810.5 628.5 818.5 637.5 814.5 653.5 812.5 660.5 819.5 668.5 814.5 674.5 813.5 681.5 801.5 685.5 799.5 696.5 800.5 708.5 808.5 716.5 808.5 724.5 805.5 739.5 807.5 760.5 793.5 779.5 793.5 791.5 788.5 799.5 781.5 806.5 778.5 812.5 771.5 826.5 763.5 838.5 751.5 852.5 745.5 857.5 741.5 863.5 740.5 871.5 742.5 882.5 742.5 888.5 738.5 901.5 741.5 905.5 734.5 911.5 732.5 912.5 733.5 916.5 730.5 916.5 724.5 919.5 718.5 941.5 710.5 946.5 706.5 950.5 700.5 951.5 692.5 968.5 675.5 971.5 669.5 972.5 656.5 981.5 649.5 987.5 648.5 992.5 644.5 994.5 639.5 1001.5 630.5 1001.5 622.5 1003.5 618.5 1016.5 611.5 1017.5 601.5 1019.5 597.5 1019.5 587.5 1027.5 574.5 1034.5 551.5 1034.5 543.5 1032.5 541.5 1026.5 540.5 1024.5 536.5 1029.5 528.5 1035.5 508.5 1035.5 501.5 1028.5 493.5 1025.5 485.5 1020.5 478.5 1020.5 465.5 1016.5 459.5 1016.5 454.5 1022.5 440.5 1018.5 431.5 1019.5 400.5 1012.5 393.5 1009.5 387.5 1009.5 384.5 1003.5 373.5 1003.5 364.5 995.5 353.5 986.5 333.5 981.5 329.5 969.5 329.5 964.5 327.5 961.5 324.5 958.5 317.5 955.5 316.5 947.5 306.5 932.5 296.5 917.5 299.5 907.5 295.5 906.5 296.5 901.5 293.5 895.5 287.5 889.5 277.5 874.5 267.5 860.5 255.5 851.5 237.5 844.5 230.5 839.5 228.5 830.5 221.5 828.5 211.5 826.5 209.5 813.5 208.5 805.5 203.5 796.5 200.5 793.5 195.5 786.5 192.5 776.5 191.5 769.5 195.5 766.5 195.5 760.5 188.5 751.5 186.5Z"/>
<path fill="#ff6600" d="M724.5 183.5 718.5 183.5 704.5 187.5 682.5 187.5 670.5 193.5 667.5 193.5 658.5 188.5 649.5 191.5 633.5 188.5 618.5 196.5 613.5 203.5 602.5 209.5 598.5 209.5 595.5 211.5 592.5 219.5 580.5 228.5 577.5 237.5 573.5 240.5 555.5 243.5 546.5 248.5 541.5 246.5 535.5 247.5 533.5 251.5 522.5 260.5 517.5 269.5 494.5 289.5 492.5 294.5 494.5 311.5 489.5 317.5 487.5 317.5 485.5 320.5 481.5 322.5 477.5 330.5 477.5 344.5 472.5 350.5 467.5 361.5 456.5 371.5 450.5 371.5 444.5 376.5 443.5 375.5 438.5 378.5 425.5 378.5 423.5 380.5 418.5 381.5 404.5 392.5 392.5 392.5 387.5 399.5 388.5 404.5 385.5 410.5 385.5 422.5 376.5 429.5 376.5 436.5 383.5 453.5 382.5 459.5 378.5 466.5 383.5 476.5 383.5 483.5 386.5 489.5 397.5 495.5 407.5 506.5 406.5 520.5 409.5 527.5 410.5 537.5 421.5 565.5 419.5 573.5 409.5 583.5 408.5 589.5 410.5 604.5 413.5 607.5 420.5 628.5 417.5 636.5 417.5 644.5 422.5 652.5 425.5 661.5 432.5 671.5 444.5 680.5 445.5 689.5 454.5 700.5 464.5 700.5 469.5 703.5 470.5 706.5 466.5 711.5 467.5 717.5 470.5 719.5 478.5 720.5 483.5 728.5 491.5 735.5 493.5 740.5 497.5 744.5 505.5 748.5 523.5 769.5 532.5 773.5 538.5 773.5 547.5 770.5 554.5 773.5 572.5 787.5 585.5 786.5 596.5 788.5 600.5 791.5 601.5 796.5 605.5 801.5 617.5 807.5 621.5 807.5 627.5 812.5 648.5 809.5 652.5 807.5 656.5 808.5 661.5 812.5 674.5 807.5 679.5 797.5 682.5 795.5 696.5 795.5 709.5 805.5 716.5 805.5 729.5 801.5 738.5 803.5 756.5 791.5 777.5 790.5 785.5 787.5 790.5 783.5 793.5 777.5 799.5 777.5 804.5 775.5 804.5 766.5 808.5 762.5 814.5 763.5 824.5 759.5 838.5 746.5 839.5 747.5 847.5 745.5 858.5 738.5 876.5 739.5 888.5 734.5 896.5 736.5 898.5 734.5 899.5 735.5 899.5 733.5 910.5 723.5 915.5 716.5 926.5 711.5 935.5 709.5 942.5 704.5 946.5 689.5 949.5 686.5 955.5 684.5 967.5 669.5 966.5 656.5 978.5 644.5 987.5 644.5 992.5 639.5 997.5 629.5 998.5 621.5 1006.5 609.5 1005.5 603.5 1011.5 592.5 1012.5 581.5 1020.5 573.5 1023.5 566.5 1023.5 560.5 1031.5 551.5 1031.5 547.5 1028.5 544.5 1024.5 543.5 1021.5 539.5 1021.5 527.5 1030.5 515.5 1032.5 501.5 1026.5 495.5 1017.5 476.5 1017.5 467.5 1012.5 457.5 1018.5 441.5 1016.5 432.5 1015.5 401.5 1007.5 390.5 999.5 373.5 994.5 368.5 995.5 359.5 987.5 349.5 984.5 336.5 978.5 332.5 972.5 333.5 961.5 329.5 958.5 326.5 956.5 320.5 948.5 313.5 946.5 309.5 931.5 299.5 918.5 302.5 901.5 297.5 888.5 278.5 859.5 257.5 849.5 237.5 845.5 233.5 828.5 223.5 818.5 213.5 809.5 211.5 804.5 207.5 795.5 210.5 787.5 209.5 782.5 204.5 783.5 198.5 777.5 196.5 771.5 199.5 766.5 199.5 757.5 192.5 746.5 187.5 741.5 187.5 737.5 190.5 730.5 191.5 727.5 189.5Z"/>
<path fill="#ff7700" d="M746.5 191.5 742.5 191.5 735.5 194.5 726.5 194.5 719.5 190.5 710.5 188.5 686.5 188.5 669.5 195.5 666.5 195.5 660.5 191.5 654.5 191.5 649.5 193.5 634.5 192.5 624.5 198.5 616.5 207.5 610.5 208.5 604.5 213.5 597.5 216.5 594.5 222.5 586.5 229.5 582.5 237.5 575.5 243.5 558.5 246.5 549.5 252.5 537.5 252.5 531.5 258.5 527.5 259.5 523.5 263.5 521.5 268.5 506.5 283.5 499.5 286.5 495.5 290.5 493.5 294.5 495.5 311.5 489.5 318.5 481.5 324.5 478.5 329.5 478.5 344.5 473.5 350.5 469.5 360.5 455.5 373.5 450.5 374.5 441.5 379.5 428.5 382.5 426.5 381.5 413.5 388.5 409.5 392.5 408.5 396.5 390.5 412.5 389.5 431.5 384.5 440.5 385.5 462.5 383.5 464.5 383.5 467.5 387.5 476.5 386.5 484.5 390.5 489.5 396.5 489.5 409.5 504.5 410.5 513.5 408.5 517.5 408.5 522.5 412.5 539.5 423.5 565.5 421.5 577.5 412.5 584.5 411.5 587.5 413.5 600.5 419.5 612.5 424.5 618.5 424.5 630.5 421.5 638.5 421.5 644.5 425.5 650.5 427.5 659.5 436.5 670.5 447.5 676.5 449.5 689.5 454.5 695.5 465.5 695.5 474.5 702.5 477.5 707.5 477.5 713.5 485.5 727.5 492.5 733.5 496.5 741.5 505.5 745.5 522.5 765.5 535.5 771.5 545.5 767.5 549.5 767.5 564.5 776.5 579.5 779.5 593.5 785.5 603.5 786.5 605.5 788.5 605.5 796.5 607.5 799.5 618.5 803.5 630.5 804.5 636.5 807.5 643.5 807.5 653.5 802.5 656.5 802.5 662.5 807.5 669.5 805.5 673.5 801.5 673.5 795.5 675.5 791.5 681.5 789.5 687.5 792.5 691.5 792.5 698.5 786.5 701.5 789.5 704.5 796.5 715.5 801.5 731.5 796.5 741.5 796.5 753.5 787.5 778.5 786.5 782.5 784.5 786.5 777.5 806.5 758.5 819.5 756.5 830.5 746.5 838.5 743.5 848.5 742.5 857.5 735.5 868.5 738.5 879.5 735.5 885.5 731.5 892.5 731.5 901.5 725.5 911.5 713.5 935.5 705.5 938.5 701.5 938.5 695.5 941.5 688.5 946.5 683.5 953.5 681.5 960.5 672.5 963.5 666.5 963.5 653.5 972.5 645.5 977.5 637.5 989.5 637.5 994.5 627.5 996.5 618.5 1001.5 609.5 1000.5 598.5 1005.5 590.5 1007.5 581.5 1016.5 572.5 1018.5 566.5 1018.5 558.5 1021.5 553.5 1025.5 550.5 1025.5 548.5 1019.5 541.5 1016.5 531.5 1011.5 526.5 1012.5 523.5 1024.5 516.5 1026.5 512.5 1026.5 501.5 1020.5 491.5 1019.5 485.5 1009.5 460.5 1009.5 454.5 1015.5 439.5 1012.5 404.5 999.5 379.5 987.5 368.5 990.5 360.5 981.5 354.5 981.5 339.5 979.5 337.5 973.5 337.5 955.5 330.5 953.5 321.5 942.5 309.5 933.5 303.5 926.5 302.5 915.5 305.5 905.5 303.5 899.5 299.5 894.5 293.5 891.5 284.5 885.5 277.5 858.5 259.5 851.5 243.5 842.5 233.5 825.5 224.5 821.5 224.5 814.5 217.5 807.5 218.5 797.5 213.5 786.5 213.5 778.5 211.5 768.5 203.5Z"/>
<path fill="#ff8800" d="M742.5 195.5 724.5 197.5 708.5 191.5 680.5 191.5 669.5 197.5 666.5 197.5 659.5 193.5 649.5 195.5 638.5 195.5 626.5 202.5 618.5 210.5 612.5 211.5 604.5 217.5 600.5 218.5 589.5 234.5 574.5 247.5 562.5 248.5 553.5 257.5 544.5 255.5 539.5 256.5 529.5 263.5 509.5 284.5 499.5 288.5 495.5 292.5 494.5 298.5 497.5 306.5 496.5 312.5 490.5 318.5 484.5 321.5 479.5 329.5 480.5 330.5 478.5 332.5 479.5 343.5 467.5 364.5 455.5 376.5 451.5 376.5 439.5 382.5 438.5 381.5 436.5 383.5 429.5 384.5 417.5 389.5 413.5 393.5 411.5 398.5 412.5 400.5 407.5 405.5 402.5 407.5 393.5 418.5 393.5 441.5 388.5 453.5 388.5 459.5 391.5 470.5 397.5 477.5 396.5 479.5 398.5 480.5 397.5 481.5 399.5 486.5 409.5 499.5 412.5 506.5 410.5 524.5 414.5 540.5 422.5 555.5 425.5 569.5 425.5 580.5 417.5 586.5 416.5 596.5 421.5 608.5 429.5 618.5 429.5 629.5 427.5 636.5 433.5 643.5 432.5 655.5 436.5 656.5 438.5 658.5 439.5 665.5 449.5 672.5 453.5 688.5 455.5 690.5 466.5 691.5 477.5 701.5 487.5 726.5 495.5 733.5 497.5 738.5 499.5 740.5 506.5 742.5 516.5 754.5 525.5 759.5 532.5 767.5 539.5 767.5 544.5 764.5 550.5 764.5 558.5 769.5 576.5 771.5 585.5 778.5 592.5 781.5 607.5 781.5 612.5 787.5 613.5 794.5 620.5 799.5 630.5 800.5 638.5 804.5 646.5 803.5 653.5 797.5 657.5 797.5 664.5 800.5 666.5 798.5 667.5 792.5 675.5 786.5 683.5 786.5 689.5 788.5 695.5 783.5 700.5 783.5 707.5 793.5 710.5 795.5 718.5 796.5 725.5 791.5 740.5 792.5 749.5 785.5 779.5 779.5 791.5 768.5 795.5 762.5 801.5 759.5 806.5 754.5 814.5 753.5 832.5 741.5 846.5 739.5 850.5 737.5 853.5 733.5 858.5 732.5 863.5 735.5 870.5 735.5 882.5 728.5 892.5 727.5 902.5 719.5 904.5 714.5 910.5 708.5 930.5 703.5 933.5 700.5 934.5 693.5 937.5 687.5 944.5 679.5 954.5 674.5 958.5 666.5 959.5 654.5 968.5 645.5 972.5 636.5 979.5 632.5 984.5 632.5 989.5 628.5 991.5 621.5 997.5 611.5 995.5 600.5 996.5 594.5 1002.5 585.5 1003.5 579.5 1012.5 570.5 1008.5 557.5 1018.5 548.5 1016.5 537.5 1005.5 525.5 1005.5 520.5 1007.5 518.5 1015.5 517.5 1017.5 513.5 1017.5 508.5 1020.5 504.5 1020.5 499.5 1016.5 492.5 1015.5 484.5 1005.5 459.5 1005.5 455.5 1010.5 447.5 1012.5 437.5 1011.5 422.5 1008.5 411.5 1008.5 402.5 996.5 382.5 983.5 372.5 981.5 363.5 974.5 355.5 974.5 346.5 970.5 340.5 963.5 335.5 955.5 336.5 949.5 333.5 947.5 330.5 949.5 324.5 948.5 320.5 941.5 311.5 931.5 306.5 907.5 308.5 903.5 306.5 893.5 296.5 888.5 282.5 880.5 275.5 860.5 263.5 855.5 258.5 848.5 242.5 841.5 235.5 827.5 228.5 823.5 228.5 816.5 232.5 811.5 232.5 794.5 216.5 779.5 215.5 773.5 212.5 763.5 203.5 751.5 201.5 747.5 197.5Z"/>
<path fill="#ff9700" d="M706.5 193.5 699.5 193.5 693.5 195.5 681.5 193.5 672.5 198.5 667.5 199.5 657.5 195.5 639.5 198.5 624.5 207.5 618.5 213.5 610.5 216.5 601.5 222.5 595.5 235.5 596.5 236.5 593.5 239.5 582.5 243.5 574.5 251.5 565.5 251.5 557.5 260.5 551.5 263.5 536.5 266.5 532.5 272.5 521.5 275.5 511.5 285.5 499.5 290.5 496.5 293.5 495.5 297.5 498.5 304.5 498.5 310.5 491.5 319.5 487.5 320.5 482.5 325.5 479.5 332.5 480.5 343.5 475.5 350.5 469.5 363.5 457.5 377.5 445.5 382.5 444.5 381.5 442.5 383.5 441.5 382.5 432.5 387.5 431.5 386.5 423.5 389.5 418.5 395.5 418.5 405.5 412.5 410.5 403.5 413.5 399.5 417.5 397.5 422.5 398.5 444.5 403.5 451.5 403.5 456.5 396.5 463.5 396.5 468.5 402.5 477.5 402.5 482.5 405.5 490.5 414.5 504.5 415.5 511.5 412.5 518.5 412.5 527.5 416.5 541.5 424.5 556.5 428.5 574.5 428.5 581.5 425.5 585.5 421.5 587.5 419.5 595.5 423.5 606.5 431.5 614.5 433.5 618.5 433.5 632.5 439.5 642.5 439.5 650.5 446.5 664.5 451.5 669.5 455.5 681.5 457.5 684.5 467.5 685.5 470.5 687.5 480.5 700.5 483.5 707.5 485.5 718.5 488.5 723.5 498.5 731.5 500.5 736.5 509.5 739.5 516.5 750.5 528.5 753.5 537.5 763.5 543.5 761.5 550.5 761.5 558.5 766.5 577.5 767.5 591.5 777.5 596.5 778.5 607.5 773.5 610.5 775.5 614.5 784.5 624.5 794.5 641.5 800.5 653.5 793.5 660.5 792.5 666.5 786.5 676.5 782.5 690.5 783.5 692.5 781.5 699.5 780.5 703.5 782.5 707.5 788.5 712.5 792.5 717.5 792.5 726.5 786.5 740.5 788.5 749.5 782.5 761.5 780.5 767.5 776.5 777.5 775.5 784.5 772.5 787.5 769.5 789.5 763.5 793.5 759.5 798.5 758.5 806.5 751.5 817.5 748.5 831.5 738.5 838.5 736.5 844.5 737.5 855.5 729.5 868.5 732.5 874.5 725.5 878.5 723.5 892.5 723.5 911.5 702.5 930.5 693.5 932.5 687.5 946.5 672.5 947.5 662.5 955.5 657.5 958.5 645.5 964.5 642.5 970.5 631.5 984.5 625.5 986.5 617.5 992.5 612.5 993.5 609.5 992.5 592.5 998.5 584.5 996.5 571.5 1002.5 564.5 1003.5 553.5 1014.5 545.5 1014.5 540.5 1012.5 536.5 1004.5 529.5 1001.5 523.5 1001.5 517.5 1004.5 514.5 1011.5 514.5 1016.5 502.5 1010.5 485.5 1007.5 471.5 1002.5 460.5 1002.5 454.5 1006.5 449.5 1008.5 443.5 1008.5 423.5 1006.5 416.5 1001.5 408.5 1002.5 398.5 992.5 387.5 988.5 386.5 985.5 388.5 982.5 386.5 977.5 374.5 976.5 366.5 964.5 353.5 964.5 348.5 966.5 345.5 965.5 340.5 956.5 340.5 943.5 334.5 941.5 331.5 944.5 322.5 943.5 318.5 939.5 313.5 935.5 311.5 928.5 310.5 907.5 312.5 902.5 310.5 890.5 296.5 888.5 286.5 885.5 281.5 869.5 269.5 859.5 264.5 850.5 254.5 846.5 243.5 834.5 234.5 829.5 232.5 822.5 232.5 816.5 235.5 806.5 234.5 791.5 219.5 784.5 219.5 774.5 216.5 760.5 205.5 754.5 205.5 750.5 207.5 747.5 206.5 740.5 199.5 734.5 199.5 729.5 201.5Z"/>
<path fill="#ffa500" d="M705.5 195.5 699.5 195.5 695.5 197.5 681.5 196.5 671.5 200.5 662.5 200.5 655.5 197.5 639.5 201.5 636.5 204.5 627.5 208.5 619.5 216.5 614.5 218.5 608.5 224.5 605.5 225.5 602.5 229.5 599.5 238.5 592.5 244.5 586.5 244.5 577.5 256.5 571.5 257.5 569.5 259.5 570.5 262.5 567.5 266.5 557.5 264.5 542.5 273.5 524.5 277.5 517.5 281.5 508.5 290.5 499.5 292.5 497.5 298.5 501.5 306.5 500.5 309.5 493.5 318.5 482.5 326.5 483.5 327.5 481.5 328.5 482.5 329.5 479.5 336.5 481.5 343.5 474.5 353.5 470.5 363.5 460.5 377.5 456.5 380.5 440.5 385.5 433.5 390.5 427.5 390.5 422.5 394.5 422.5 400.5 426.5 408.5 419.5 415.5 411.5 418.5 408.5 422.5 406.5 430.5 406.5 440.5 410.5 448.5 410.5 456.5 403.5 463.5 402.5 466.5 405.5 472.5 407.5 485.5 417.5 505.5 417.5 511.5 413.5 520.5 414.5 529.5 419.5 544.5 426.5 556.5 428.5 567.5 431.5 574.5 430.5 583.5 423.5 590.5 422.5 597.5 425.5 604.5 434.5 613.5 436.5 617.5 438.5 633.5 444.5 641.5 444.5 651.5 452.5 661.5 456.5 675.5 461.5 679.5 467.5 679.5 479.5 686.5 479.5 690.5 483.5 697.5 489.5 720.5 511.5 736.5 519.5 745.5 527.5 746.5 536.5 757.5 548.5 757.5 557.5 763.5 575.5 763.5 582.5 766.5 590.5 772.5 599.5 772.5 609.5 767.5 613.5 771.5 616.5 782.5 632.5 790.5 638.5 790.5 644.5 783.5 646.5 784.5 644.5 786.5 645.5 790.5 651.5 790.5 653.5 788.5 653.5 784.5 657.5 780.5 668.5 779.5 672.5 774.5 679.5 774.5 687.5 778.5 698.5 777.5 704.5 780.5 714.5 789.5 725.5 783.5 732.5 781.5 734.5 782.5 741.5 781.5 744.5 779.5 756.5 779.5 763.5 776.5 766.5 773.5 782.5 770.5 786.5 765.5 786.5 761.5 790.5 757.5 797.5 756.5 805.5 749.5 816.5 746.5 825.5 738.5 835.5 733.5 843.5 734.5 853.5 727.5 864.5 727.5 873.5 720.5 884.5 717.5 885.5 718.5 900.5 709.5 917.5 692.5 920.5 687.5 928.5 686.5 942.5 671.5 942.5 661.5 947.5 655.5 952.5 653.5 954.5 639.5 957.5 636.5 961.5 635.5 966.5 627.5 974.5 624.5 980.5 615.5 987.5 608.5 989.5 590.5 994.5 583.5 992.5 570.5 999.5 560.5 1001.5 549.5 1010.5 542.5 1009.5 538.5 1001.5 531.5 997.5 521.5 998.5 514.5 1001.5 511.5 1007.5 509.5 1011.5 501.5 1009.5 492.5 1004.5 488.5 1005.5 476.5 999.5 459.5 999.5 454.5 1004.5 445.5 1005.5 427.5 1001.5 421.5 998.5 421.5 995.5 418.5 994.5 409.5 983.5 397.5 981.5 392.5 975.5 385.5 972.5 379.5 973.5 371.5 966.5 360.5 959.5 353.5 956.5 345.5 947.5 339.5 930.5 338.5 928.5 336.5 927.5 332.5 930.5 328.5 936.5 325.5 937.5 320.5 929.5 326.5 921.5 321.5 908.5 320.5 894.5 307.5 887.5 295.5 884.5 283.5 877.5 276.5 852.5 260.5 848.5 256.5 844.5 244.5 839.5 240.5 829.5 235.5 822.5 235.5 815.5 238.5 803.5 236.5 795.5 230.5 790.5 224.5 773.5 218.5 768.5 218.5 759.5 209.5 749.5 211.5 738.5 204.5 731.5 204.5 729.5 206.5 723.5 202.5Z"/>
<path fill="#ffaf00" d="M705.5 197.5 699.5 197.5 695.5 199.5 683.5 198.5 669.5 203.5 664.5 203.5 658.5 200.5 652.5 200.5 642.5 203.5 626.5 212.5 610.5 229.5 605.5 232.5 597.5 244.5 593.5 247.5 587.5 248.5 583.5 258.5 576.5 263.5 569.5 271.5 556.5 269.5 542.5 276.5 523.5 280.5 518.5 283.5 510.5 292.5 502.5 294.5 501.5 299.5 503.5 308.5 492.5 320.5 486.5 323.5 482.5 329.5 480.5 336.5 481.5 344.5 463.5 376.5 457.5 382.5 441.5 388.5 437.5 394.5 428.5 393.5 425.5 395.5 425.5 399.5 431.5 406.5 431.5 411.5 425.5 417.5 413.5 423.5 410.5 434.5 410.5 439.5 415.5 454.5 409.5 467.5 409.5 475.5 411.5 479.5 414.5 480.5 416.5 483.5 414.5 493.5 420.5 504.5 419.5 511.5 415.5 519.5 415.5 527.5 420.5 542.5 427.5 554.5 434.5 577.5 431.5 586.5 425.5 593.5 425.5 597.5 427.5 602.5 438.5 614.5 442.5 625.5 442.5 629.5 448.5 639.5 448.5 648.5 455.5 654.5 459.5 660.5 457.5 666.5 458.5 673.5 461.5 675.5 473.5 674.5 481.5 678.5 486.5 688.5 486.5 695.5 491.5 718.5 497.5 723.5 504.5 726.5 516.5 737.5 521.5 739.5 528.5 739.5 532.5 743.5 535.5 751.5 538.5 754.5 549.5 753.5 557.5 760.5 561.5 760.5 567.5 753.5 570.5 754.5 576.5 760.5 591.5 768.5 599.5 767.5 604.5 764.5 610.5 763.5 616.5 768.5 617.5 777.5 621.5 782.5 636.5 781.5 644.5 774.5 654.5 775.5 669.5 768.5 678.5 768.5 690.5 775.5 700.5 775.5 713.5 784.5 719.5 784.5 739.5 775.5 758.5 776.5 769.5 768.5 780.5 768.5 783.5 764.5 784.5 759.5 788.5 755.5 796.5 754.5 803.5 748.5 815.5 744.5 822.5 737.5 836.5 728.5 844.5 730.5 855.5 723.5 859.5 723.5 869.5 718.5 875.5 717.5 885.5 710.5 897.5 705.5 908.5 695.5 912.5 687.5 918.5 681.5 927.5 681.5 939.5 668.5 939.5 661.5 941.5 657.5 949.5 650.5 952.5 637.5 965.5 622.5 972.5 620.5 979.5 612.5 987.5 596.5 987.5 586.5 991.5 581.5 989.5 568.5 996.5 556.5 1000.5 544.5 998.5 541.5 989.5 540.5 996.5 528.5 994.5 520.5 995.5 514.5 1003.5 506.5 1006.5 500.5 1006.5 496.5 999.5 488.5 1001.5 481.5 1001.5 473.5 996.5 459.5 999.5 431.5 988.5 423.5 988.5 408.5 982.5 402.5 979.5 394.5 965.5 381.5 966.5 369.5 963.5 362.5 957.5 358.5 951.5 358.5 947.5 354.5 942.5 344.5 927.5 344.5 922.5 337.5 922.5 327.5 920.5 325.5 912.5 324.5 902.5 328.5 899.5 325.5 891.5 304.5 884.5 293.5 884.5 287.5 882.5 283.5 871.5 273.5 848.5 260.5 844.5 256.5 843.5 248.5 839.5 243.5 828.5 238.5 821.5 238.5 818.5 240.5 800.5 239.5 790.5 233.5 786.5 227.5 778.5 223.5 766.5 222.5 760.5 218.5 738.5 209.5 726.5 211.5 718.5 202.5Z"/>
<path fill="#ffb900" d="M655.5 202.5 629.5 213.5 619.5 228.5 612.5 234.5 606.5 236.5 603.5 241.5 589.5 253.5 583.5 263.5 571.5 273.5 556.5 273.5 520.5 285.5 509.5 298.5 505.5 311.5 496.5 320.5 485.5 328.5 486.5 329.5 483.5 333.5 485.5 343.5 476.5 354.5 464.5 378.5 455.5 386.5 448.5 388.5 439.5 397.5 432.5 400.5 434.5 407.5 433.5 413.5 422.5 424.5 418.5 425.5 414.5 430.5 413.5 438.5 419.5 448.5 419.5 454.5 414.5 466.5 413.5 473.5 420.5 481.5 420.5 484.5 417.5 489.5 417.5 494.5 422.5 501.5 422.5 509.5 417.5 518.5 416.5 525.5 419.5 530.5 423.5 544.5 432.5 561.5 436.5 575.5 436.5 583.5 434.5 589.5 436.5 595.5 433.5 599.5 433.5 602.5 439.5 610.5 441.5 617.5 458.5 651.5 465.5 657.5 468.5 664.5 484.5 677.5 487.5 685.5 491.5 690.5 492.5 707.5 494.5 714.5 498.5 720.5 507.5 725.5 517.5 734.5 529.5 735.5 534.5 740.5 537.5 747.5 540.5 750.5 552.5 749.5 557.5 754.5 558.5 746.5 561.5 744.5 566.5 744.5 570.5 746.5 578.5 756.5 591.5 764.5 612.5 759.5 634.5 774.5 644.5 770.5 653.5 770.5 666.5 765.5 679.5 765.5 690.5 772.5 700.5 771.5 708.5 778.5 716.5 781.5 748.5 769.5 754.5 773.5 758.5 773.5 768.5 763.5 772.5 765.5 779.5 764.5 782.5 757.5 785.5 754.5 795.5 752.5 801.5 747.5 813.5 742.5 832.5 727.5 836.5 725.5 846.5 726.5 855.5 721.5 876.5 714.5 904.5 690.5 908.5 683.5 934.5 668.5 939.5 657.5 946.5 650.5 951.5 634.5 956.5 628.5 959.5 620.5 962.5 617.5 970.5 617.5 973.5 615.5 976.5 610.5 976.5 604.5 983.5 597.5 983.5 588.5 987.5 580.5 987.5 564.5 993.5 554.5 993.5 548.5 986.5 545.5 984.5 539.5 992.5 529.5 992.5 516.5 994.5 511.5 1000.5 505.5 1002.5 498.5 996.5 489.5 997.5 471.5 992.5 460.5 992.5 437.5 987.5 431.5 983.5 422.5 984.5 410.5 978.5 404.5 978.5 400.5 975.5 394.5 967.5 388.5 961.5 388.5 957.5 384.5 957.5 365.5 952.5 365.5 949.5 363.5 940.5 351.5 928.5 348.5 919.5 338.5 916.5 329.5 900.5 329.5 897.5 325.5 896.5 318.5 891.5 306.5 885.5 297.5 879.5 282.5 863.5 269.5 845.5 260.5 837.5 245.5 827.5 241.5 822.5 241.5 817.5 244.5 803.5 244.5 796.5 242.5 781.5 231.5 778.5 231.5 771.5 226.5 757.5 222.5 751.5 219.5 750.5 217.5 742.5 214.5 726.5 214.5 721.5 211.5 714.5 203.5 705.5 199.5 696.5 201.5 684.5 201.5 678.5 204.5 663.5 206.5Z"/>
<path fill="#ffc300" d="M701.5 202.5 686.5 203.5 677.5 207.5 671.5 207.5 666.5 209.5 653.5 207.5 648.5 211.5 639.5 212.5 631.5 215.5 624.5 227.5 617.5 234.5 607.5 239.5 589.5 257.5 586.5 264.5 578.5 269.5 571.5 276.5 552.5 276.5 524.5 286.5 511.5 300.5 507.5 313.5 492.5 327.5 489.5 337.5 489.5 343.5 476.5 359.5 469.5 370.5 467.5 377.5 463.5 382.5 453.5 390.5 449.5 391.5 436.5 403.5 436.5 411.5 433.5 417.5 426.5 425.5 419.5 429.5 416.5 436.5 417.5 440.5 426.5 446.5 419.5 460.5 419.5 473.5 423.5 480.5 419.5 492.5 425.5 503.5 425.5 508.5 419.5 519.5 419.5 525.5 421.5 528.5 423.5 538.5 434.5 559.5 436.5 570.5 439.5 577.5 439.5 583.5 442.5 591.5 440.5 606.5 442.5 609.5 443.5 616.5 455.5 636.5 460.5 649.5 467.5 655.5 471.5 662.5 485.5 674.5 488.5 683.5 494.5 691.5 494.5 704.5 501.5 719.5 507.5 722.5 518.5 731.5 527.5 731.5 532.5 733.5 536.5 737.5 538.5 743.5 541.5 746.5 548.5 746.5 558.5 741.5 585.5 743.5 591.5 749.5 594.5 758.5 614.5 756.5 627.5 761.5 633.5 765.5 639.5 765.5 648.5 762.5 676.5 762.5 684.5 764.5 690.5 768.5 702.5 766.5 711.5 776.5 719.5 777.5 731.5 770.5 740.5 768.5 750.5 758.5 755.5 755.5 764.5 755.5 774.5 761.5 781.5 753.5 796.5 749.5 835.5 723.5 844.5 724.5 854.5 719.5 876.5 712.5 897.5 694.5 908.5 680.5 917.5 676.5 924.5 669.5 931.5 667.5 946.5 647.5 949.5 635.5 958.5 616.5 961.5 614.5 970.5 614.5 973.5 611.5 974.5 602.5 979.5 593.5 978.5 586.5 984.5 568.5 984.5 563.5 990.5 554.5 989.5 550.5 982.5 545.5 981.5 539.5 989.5 529.5 990.5 515.5 997.5 505.5 999.5 499.5 992.5 487.5 992.5 472.5 986.5 462.5 986.5 456.5 989.5 445.5 988.5 440.5 981.5 430.5 977.5 412.5 962.5 393.5 957.5 390.5 954.5 386.5 952.5 378.5 940.5 355.5 926.5 350.5 919.5 342.5 914.5 331.5 911.5 330.5 907.5 332.5 902.5 332.5 897.5 328.5 889.5 303.5 883.5 295.5 880.5 285.5 868.5 273.5 844.5 261.5 840.5 257.5 837.5 249.5 829.5 244.5 823.5 244.5 819.5 246.5 799.5 245.5 779.5 233.5 752.5 223.5 749.5 220.5 740.5 216.5 735.5 218.5 725.5 216.5 710.5 203.5Z"/>
<path fill="#ffcd00" d="M688.5 205.5 679.5 209.5 669.5 210.5 665.5 212.5 654.5 211.5 650.5 214.5 635.5 217.5 632.5 219.5 631.5 223.5 625.5 232.5 608.5 242.5 604.5 247.5 602.5 247.5 590.5 259.5 588.5 265.5 580.5 270.5 571.5 281.5 564.5 278.5 548.5 279.5 539.5 284.5 528.5 287.5 525.5 292.5 513.5 302.5 508.5 316.5 496.5 327.5 494.5 331.5 494.5 338.5 492.5 344.5 475.5 364.5 470.5 372.5 468.5 379.5 453.5 393.5 447.5 396.5 439.5 403.5 436.5 416.5 430.5 425.5 420.5 434.5 420.5 437.5 426.5 437.5 431.5 442.5 430.5 449.5 422.5 460.5 422.5 464.5 425.5 467.5 425.5 483.5 422.5 488.5 422.5 493.5 427.5 502.5 427.5 510.5 422.5 522.5 425.5 538.5 434.5 549.5 439.5 572.5 445.5 586.5 446.5 616.5 450.5 621.5 454.5 631.5 460.5 638.5 461.5 644.5 473.5 661.5 487.5 673.5 490.5 682.5 496.5 690.5 497.5 706.5 501.5 715.5 505.5 719.5 516.5 726.5 524.5 726.5 535.5 731.5 539.5 735.5 543.5 743.5 561.5 738.5 582.5 738.5 590.5 742.5 598.5 753.5 628.5 754.5 635.5 758.5 648.5 756.5 655.5 759.5 661.5 759.5 666.5 754.5 668.5 754.5 676.5 760.5 689.5 764.5 703.5 761.5 712.5 771.5 716.5 772.5 724.5 763.5 730.5 762.5 732.5 764.5 736.5 764.5 740.5 761.5 743.5 756.5 748.5 753.5 755.5 751.5 773.5 752.5 778.5 749.5 790.5 749.5 795.5 747.5 817.5 731.5 825.5 728.5 834.5 721.5 845.5 721.5 850.5 718.5 861.5 716.5 871.5 712.5 894.5 694.5 907.5 678.5 916.5 674.5 923.5 667.5 930.5 665.5 945.5 646.5 955.5 616.5 960.5 611.5 968.5 611.5 970.5 609.5 970.5 604.5 974.5 597.5 974.5 580.5 981.5 568.5 982.5 560.5 986.5 555.5 986.5 552.5 979.5 544.5 979.5 537.5 987.5 527.5 988.5 515.5 995.5 503.5 995.5 497.5 987.5 485.5 987.5 472.5 980.5 458.5 980.5 453.5 985.5 446.5 984.5 441.5 977.5 433.5 965.5 404.5 953.5 389.5 949.5 379.5 941.5 369.5 938.5 360.5 935.5 357.5 927.5 354.5 921.5 348.5 914.5 334.5 901.5 334.5 896.5 329.5 889.5 305.5 884.5 298.5 879.5 285.5 868.5 274.5 851.5 265.5 844.5 263.5 839.5 258.5 836.5 252.5 830.5 247.5 797.5 247.5 783.5 236.5 775.5 234.5 767.5 229.5 756.5 227.5 742.5 219.5 730.5 220.5 720.5 216.5 710.5 206.5Z"/>
<path fill="#ffd900" d="M689.5 207.5 664.5 216.5 655.5 216.5 640.5 219.5 632.5 228.5 631.5 233.5 628.5 237.5 619.5 239.5 594.5 258.5 589.5 268.5 578.5 275.5 576.5 282.5 573.5 285.5 568.5 285.5 559.5 280.5 550.5 281.5 541.5 288.5 534.5 288.5 530.5 290.5 525.5 297.5 514.5 304.5 510.5 318.5 497.5 331.5 497.5 342.5 495.5 346.5 484.5 356.5 476.5 366.5 469.5 381.5 455.5 394.5 445.5 400.5 440.5 406.5 439.5 415.5 429.5 431.5 434.5 443.5 432.5 451.5 427.5 459.5 431.5 468.5 427.5 474.5 427.5 483.5 424.5 492.5 429.5 501.5 431.5 515.5 430.5 523.5 426.5 529.5 426.5 535.5 437.5 547.5 438.5 559.5 444.5 578.5 448.5 585.5 449.5 614.5 454.5 626.5 464.5 638.5 465.5 644.5 472.5 656.5 481.5 666.5 489.5 672.5 491.5 680.5 497.5 687.5 499.5 705.5 505.5 716.5 518.5 722.5 528.5 721.5 534.5 725.5 537.5 725.5 542.5 729.5 543.5 734.5 546.5 737.5 554.5 735.5 582.5 735.5 592.5 740.5 600.5 748.5 604.5 750.5 625.5 749.5 634.5 753.5 640.5 751.5 647.5 751.5 655.5 755.5 658.5 755.5 666.5 747.5 672.5 747.5 675.5 750.5 677.5 756.5 680.5 758.5 690.5 760.5 697.5 755.5 702.5 755.5 713.5 765.5 718.5 763.5 727.5 756.5 735.5 756.5 743.5 749.5 764.5 749.5 774.5 746.5 792.5 746.5 803.5 735.5 818.5 728.5 821.5 728.5 833.5 720.5 841.5 719.5 849.5 715.5 856.5 715.5 874.5 708.5 894.5 692.5 905.5 677.5 915.5 672.5 922.5 665.5 930.5 663.5 945.5 642.5 952.5 616.5 969.5 600.5 972.5 595.5 971.5 581.5 973.5 575.5 979.5 567.5 979.5 561.5 981.5 556.5 981.5 551.5 976.5 543.5 976.5 537.5 978.5 532.5 985.5 525.5 986.5 514.5 992.5 502.5 992.5 498.5 990.5 493.5 982.5 483.5 983.5 472.5 976.5 458.5 975.5 449.5 977.5 442.5 973.5 436.5 970.5 423.5 964.5 414.5 961.5 403.5 954.5 395.5 944.5 377.5 931.5 372.5 929.5 360.5 922.5 354.5 913.5 337.5 910.5 335.5 901.5 336.5 897.5 333.5 890.5 316.5 888.5 304.5 883.5 298.5 879.5 287.5 868.5 275.5 860.5 270.5 841.5 263.5 833.5 253.5 827.5 250.5 798.5 250.5 795.5 249.5 784.5 238.5 774.5 235.5 765.5 230.5 751.5 228.5 741.5 221.5 727.5 222.5 724.5 219.5 715.5 216.5 707.5 208.5 700.5 209.5Z"/>
<path fill="#ffe600" d="M689.5 210.5 677.5 216.5 652.5 222.5 643.5 222.5 629.5 241.5 620.5 242.5 603.5 258.5 595.5 260.5 591.5 269.5 587.5 273.5 584.5 273.5 580.5 276.5 578.5 283.5 574.5 287.5 564.5 288.5 557.5 283.5 552.5 283.5 546.5 291.5 534.5 292.5 525.5 300.5 517.5 304.5 514.5 309.5 511.5 322.5 500.5 331.5 499.5 336.5 502.5 347.5 489.5 354.5 475.5 371.5 471.5 382.5 455.5 397.5 447.5 401.5 443.5 405.5 440.5 418.5 434.5 426.5 433.5 435.5 435.5 438.5 436.5 445.5 433.5 454.5 433.5 460.5 435.5 466.5 429.5 477.5 427.5 493.5 431.5 499.5 433.5 506.5 437.5 510.5 434.5 523.5 429.5 530.5 429.5 535.5 440.5 546.5 440.5 557.5 445.5 566.5 445.5 573.5 451.5 585.5 451.5 594.5 453.5 600.5 452.5 613.5 456.5 624.5 466.5 635.5 473.5 654.5 485.5 667.5 492.5 672.5 494.5 679.5 499.5 687.5 501.5 704.5 507.5 714.5 530.5 714.5 540.5 721.5 552.5 720.5 564.5 731.5 571.5 733.5 582.5 730.5 590.5 736.5 597.5 739.5 605.5 746.5 615.5 746.5 624.5 744.5 631.5 748.5 637.5 748.5 639.5 746.5 647.5 746.5 654.5 748.5 667.5 743.5 675.5 743.5 680.5 747.5 682.5 754.5 685.5 756.5 690.5 755.5 694.5 750.5 706.5 749.5 711.5 750.5 715.5 756.5 719.5 756.5 728.5 751.5 733.5 751.5 740.5 746.5 764.5 746.5 775.5 742.5 788.5 744.5 791.5 743.5 796.5 736.5 802.5 731.5 818.5 727.5 848.5 712.5 860.5 712.5 868.5 709.5 894.5 690.5 900.5 680.5 905.5 675.5 913.5 671.5 918.5 665.5 930.5 661.5 942.5 645.5 951.5 613.5 958.5 607.5 960.5 602.5 964.5 598.5 965.5 599.5 970.5 594.5 969.5 578.5 971.5 573.5 977.5 566.5 978.5 555.5 974.5 544.5 974.5 533.5 983.5 522.5 984.5 512.5 988.5 504.5 989.5 498.5 987.5 493.5 978.5 483.5 979.5 473.5 973.5 464.5 973.5 453.5 971.5 448.5 970.5 435.5 967.5 423.5 961.5 415.5 958.5 403.5 953.5 398.5 947.5 385.5 942.5 380.5 933.5 378.5 928.5 374.5 925.5 362.5 921.5 358.5 911.5 339.5 901.5 338.5 896.5 334.5 891.5 323.5 888.5 306.5 882.5 298.5 878.5 287.5 868.5 276.5 860.5 271.5 842.5 265.5 830.5 254.5 815.5 250.5 806.5 252.5 796.5 252.5 792.5 250.5 783.5 239.5 776.5 238.5 760.5 230.5 748.5 230.5 741.5 223.5 727.5 225.5 724.5 223.5 722.5 224.5 721.5 222.5 715.5 220.5 707.5 212.5 696.5 212.5Z"/>
<path fill="#fff200" d="M687.5 214.5 673.5 221.5 660.5 223.5 651.5 227.5 644.5 226.5 632.5 242.5 620.5 245.5 608.5 258.5 596.5 263.5 593.5 271.5 590.5 274.5 583.5 277.5 580.5 284.5 574.5 289.5 568.5 291.5 560.5 291.5 554.5 287.5 547.5 295.5 534.5 295.5 518.5 307.5 511.5 327.5 503.5 333.5 503.5 338.5 506.5 345.5 503.5 351.5 490.5 357.5 477.5 372.5 472.5 384.5 458.5 398.5 447.5 404.5 444.5 408.5 443.5 417.5 435.5 430.5 437.5 439.5 436.5 458.5 438.5 464.5 431.5 479.5 430.5 491.5 434.5 498.5 442.5 505.5 442.5 511.5 438.5 519.5 438.5 525.5 440.5 528.5 440.5 533.5 438.5 537.5 442.5 545.5 442.5 555.5 448.5 565.5 448.5 574.5 453.5 584.5 455.5 596.5 455.5 613.5 458.5 622.5 470.5 635.5 471.5 645.5 474.5 652.5 495.5 674.5 501.5 688.5 505.5 705.5 509.5 710.5 529.5 709.5 540.5 717.5 553.5 717.5 560.5 722.5 568.5 722.5 573.5 726.5 584.5 724.5 592.5 732.5 600.5 734.5 608.5 741.5 617.5 740.5 621.5 738.5 624.5 738.5 633.5 743.5 648.5 742.5 654.5 740.5 676.5 740.5 682.5 742.5 687.5 748.5 692.5 746.5 711.5 746.5 717.5 749.5 721.5 749.5 727.5 745.5 739.5 743.5 761.5 743.5 776.5 738.5 789.5 740.5 797.5 731.5 821.5 724.5 828.5 719.5 839.5 715.5 845.5 710.5 857.5 710.5 867.5 707.5 890.5 691.5 896.5 685.5 900.5 677.5 904.5 673.5 911.5 670.5 918.5 663.5 927.5 661.5 942.5 641.5 947.5 615.5 956.5 606.5 958.5 600.5 968.5 592.5 967.5 577.5 968.5 573.5 973.5 568.5 975.5 563.5 975.5 553.5 972.5 545.5 972.5 533.5 975.5 526.5 981.5 519.5 982.5 510.5 986.5 498.5 985.5 495.5 975.5 485.5 974.5 475.5 967.5 467.5 967.5 459.5 969.5 456.5 967.5 448.5 968.5 438.5 965.5 432.5 964.5 423.5 957.5 412.5 955.5 404.5 949.5 397.5 947.5 390.5 943.5 385.5 934.5 384.5 929.5 381.5 923.5 372.5 921.5 364.5 916.5 355.5 914.5 354.5 915.5 353.5 913.5 352.5 911.5 348.5 912.5 347.5 909.5 343.5 899.5 339.5 895.5 335.5 888.5 317.5 887.5 306.5 880.5 296.5 877.5 287.5 867.5 276.5 858.5 271.5 840.5 265.5 833.5 258.5 817.5 252.5 794.5 253.5 787.5 247.5 783.5 241.5 772.5 239.5 764.5 233.5 750.5 233.5 738.5 225.5 729.5 228.5 717.5 228.5 711.5 225.5 712.5 224.5 709.5 222.5 707.5 217.5 698.5 217.5Z"/>
<path fill="#fffc00" d="M687.5 217.5 675.5 224.5 664.5 225.5 655.5 229.5 645.5 229.5 631.5 245.5 620.5 248.5 609.5 260.5 599.5 264.5 594.5 274.5 586.5 278.5 577.5 289.5 565.5 294.5 554.5 294.5 547.5 299.5 542.5 297.5 533.5 298.5 520.5 310.5 515.5 324.5 507.5 336.5 507.5 349.5 498.5 358.5 489.5 361.5 478.5 375.5 472.5 387.5 468.5 390.5 465.5 395.5 454.5 404.5 448.5 407.5 446.5 417.5 437.5 431.5 439.5 440.5 438.5 457.5 440.5 464.5 439.5 469.5 434.5 476.5 433.5 486.5 440.5 494.5 445.5 504.5 442.5 521.5 446.5 528.5 443.5 535.5 444.5 550.5 451.5 567.5 451.5 576.5 456.5 587.5 457.5 611.5 461.5 623.5 472.5 633.5 473.5 644.5 476.5 651.5 485.5 662.5 495.5 671.5 505.5 696.5 516.5 705.5 520.5 707.5 531.5 706.5 542.5 714.5 551.5 714.5 559.5 718.5 570.5 717.5 577.5 721.5 584.5 721.5 607.5 735.5 612.5 735.5 615.5 733.5 626.5 733.5 634.5 738.5 645.5 739.5 653.5 734.5 658.5 736.5 684.5 738.5 691.5 743.5 708.5 742.5 718.5 744.5 728.5 739.5 737.5 741.5 752.5 741.5 770.5 737.5 779.5 732.5 785.5 736.5 788.5 736.5 798.5 728.5 805.5 727.5 811.5 724.5 820.5 723.5 836.5 715.5 846.5 708.5 861.5 705.5 862.5 706.5 871.5 703.5 889.5 690.5 904.5 671.5 908.5 670.5 916.5 662.5 925.5 660.5 931.5 655.5 940.5 641.5 944.5 626.5 945.5 615.5 947.5 611.5 954.5 605.5 956.5 599.5 967.5 590.5 966.5 573.5 972.5 565.5 972.5 550.5 969.5 535.5 980.5 515.5 981.5 496.5 969.5 490.5 964.5 482.5 962.5 450.5 965.5 445.5 965.5 437.5 962.5 432.5 961.5 423.5 956.5 415.5 952.5 404.5 946.5 398.5 941.5 389.5 930.5 387.5 918.5 373.5 916.5 361.5 910.5 354.5 907.5 348.5 908.5 347.5 906.5 346.5 907.5 345.5 898.5 340.5 891.5 329.5 887.5 317.5 887.5 307.5 880.5 297.5 875.5 286.5 863.5 274.5 843.5 268.5 832.5 259.5 816.5 253.5 805.5 255.5 793.5 254.5 782.5 243.5 779.5 242.5 774.5 243.5 772.5 245.5 765.5 237.5 759.5 234.5 748.5 234.5 743.5 232.5 738.5 227.5 731.5 231.5 719.5 231.5 712.5 229.5 702.5 220.5Z"/>
<path fill="#f6fc00" d="M687.5 220.5 678.5 226.5 671.5 226.5 662.5 228.5 654.5 232.5 643.5 233.5 633.5 246.5 627.5 249.5 623.5 249.5 609.5 262.5 600.5 266.5 597.5 273.5 589.5 279.5 580.5 289.5 550.5 302.5 545.5 302.5 537.5 299.5 528.5 305.5 519.5 318.5 511.5 336.5 510.5 346.5 506.5 354.5 499.5 361.5 490.5 363.5 479.5 377.5 475.5 386.5 468.5 395.5 451.5 409.5 448.5 418.5 439.5 433.5 441.5 440.5 441.5 469.5 436.5 477.5 436.5 484.5 441.5 490.5 447.5 503.5 445.5 516.5 450.5 526.5 445.5 541.5 447.5 553.5 453.5 565.5 454.5 578.5 458.5 586.5 461.5 618.5 463.5 622.5 474.5 631.5 476.5 636.5 475.5 644.5 477.5 649.5 497.5 672.5 505.5 692.5 510.5 697.5 522.5 704.5 529.5 703.5 537.5 706.5 540.5 709.5 548.5 710.5 561.5 715.5 565.5 713.5 570.5 713.5 576.5 717.5 587.5 719.5 593.5 724.5 606.5 731.5 612.5 731.5 616.5 729.5 629.5 729.5 639.5 735.5 643.5 735.5 645.5 731.5 649.5 728.5 656.5 728.5 663.5 732.5 668.5 732.5 675.5 735.5 686.5 735.5 693.5 740.5 718.5 739.5 725.5 735.5 731.5 735.5 740.5 739.5 747.5 739.5 760.5 735.5 769.5 734.5 777.5 727.5 780.5 727.5 784.5 731.5 789.5 732.5 792.5 729.5 801.5 725.5 820.5 721.5 835.5 714.5 840.5 709.5 846.5 706.5 868.5 702.5 879.5 696.5 894.5 683.5 898.5 675.5 903.5 670.5 909.5 667.5 916.5 660.5 924.5 659.5 929.5 655.5 939.5 639.5 943.5 623.5 944.5 612.5 953.5 603.5 956.5 596.5 965.5 589.5 964.5 572.5 970.5 564.5 970.5 550.5 967.5 533.5 978.5 514.5 978.5 504.5 975.5 499.5 969.5 497.5 961.5 489.5 961.5 476.5 959.5 463.5 956.5 456.5 956.5 450.5 962.5 445.5 963.5 438.5 959.5 433.5 958.5 422.5 949.5 405.5 937.5 394.5 926.5 389.5 915.5 377.5 912.5 369.5 912.5 360.5 905.5 352.5 906.5 351.5 904.5 346.5 893.5 335.5 887.5 320.5 886.5 307.5 879.5 297.5 876.5 289.5 867.5 278.5 859.5 273.5 843.5 269.5 831.5 260.5 813.5 254.5 807.5 256.5 796.5 256.5 788.5 253.5 781.5 246.5 778.5 246.5 770.5 251.5 767.5 249.5 766.5 243.5 764.5 241.5 765.5 240.5 761.5 237.5 747.5 236.5 738.5 232.5 738.5 230.5 731.5 234.5 719.5 233.5 712.5 231.5 695.5 221.5Z"/>
<path fill="#dcf500" d="M956.5 511.5 959.5 508.5 962.5 512.5 959.5 513.5ZM687.5 223.5 678.5 228.5 669.5 229.5 644.5 236.5 636.5 247.5 625.5 251.5 616.5 260.5 603.5 267.5 599.5 274.5 590.5 281.5 585.5 288.5 574.5 293.5 559.5 304.5 553.5 306.5 545.5 306.5 537.5 302.5 530.5 307.5 516.5 330.5 512.5 341.5 511.5 349.5 507.5 357.5 499.5 365.5 490.5 367.5 468.5 398.5 456.5 407.5 453.5 411.5 449.5 422.5 450.5 428.5 443.5 433.5 443.5 472.5 439.5 479.5 439.5 483.5 449.5 502.5 448.5 516.5 452.5 520.5 454.5 525.5 448.5 536.5 448.5 543.5 450.5 554.5 456.5 564.5 456.5 574.5 461.5 590.5 464.5 619.5 468.5 623.5 476.5 627.5 478.5 632.5 478.5 647.5 487.5 656.5 489.5 662.5 498.5 671.5 506.5 690.5 511.5 695.5 520.5 701.5 530.5 701.5 542.5 706.5 550.5 707.5 554.5 710.5 566.5 709.5 579.5 715.5 588.5 716.5 606.5 728.5 658.5 722.5 667.5 728.5 675.5 731.5 685.5 731.5 695.5 737.5 700.5 737.5 704.5 735.5 719.5 735.5 727.5 728.5 729.5 728.5 739.5 736.5 748.5 736.5 764.5 731.5 767.5 727.5 765.5 727.5 766.5 724.5 778.5 723.5 786.5 728.5 790.5 728.5 800.5 723.5 811.5 720.5 817.5 720.5 832.5 714.5 842.5 706.5 857.5 701.5 867.5 700.5 883.5 691.5 894.5 680.5 898.5 672.5 906.5 667.5 914.5 659.5 924.5 657.5 938.5 637.5 942.5 622.5 943.5 611.5 952.5 601.5 955.5 594.5 963.5 588.5 961.5 574.5 968.5 562.5 968.5 549.5 963.5 532.5 968.5 527.5 970.5 519.5 975.5 513.5 973.5 506.5 962.5 496.5 959.5 495.5 956.5 491.5 958.5 484.5 958.5 473.5 955.5 461.5 952.5 456.5 952.5 447.5 960.5 442.5 960.5 439.5 955.5 435.5 955.5 421.5 950.5 415.5 946.5 413.5 941.5 404.5 938.5 403.5 931.5 396.5 924.5 394.5 919.5 389.5 918.5 385.5 910.5 373.5 910.5 362.5 906.5 357.5 902.5 349.5 903.5 348.5 901.5 347.5 902.5 346.5 895.5 340.5 891.5 333.5 886.5 319.5 885.5 306.5 879.5 298.5 874.5 287.5 864.5 276.5 855.5 272.5 843.5 271.5 829.5 260.5 820.5 257.5 794.5 257.5 782.5 250.5 777.5 250.5 769.5 255.5 765.5 251.5 763.5 245.5 761.5 244.5 762.5 242.5 760.5 240.5 758.5 241.5 758.5 239.5 756.5 240.5 742.5 235.5 735.5 235.5 733.5 237.5 728.5 238.5 705.5 230.5 694.5 223.5Z"/>
<path fill="#c2ed03" d="M689.5 225.5 683.5 229.5 647.5 238.5 640.5 247.5 632.5 252.5 625.5 254.5 617.5 263.5 606.5 268.5 601.5 275.5 590.5 284.5 586.5 290.5 573.5 296.5 564.5 305.5 552.5 310.5 543.5 310.5 536.5 307.5 534.5 308.5 519.5 328.5 515.5 337.5 509.5 361.5 500.5 372.5 490.5 373.5 483.5 380.5 481.5 387.5 456.5 411.5 455.5 417.5 460.5 426.5 461.5 433.5 459.5 436.5 449.5 436.5 447.5 439.5 444.5 457.5 447.5 463.5 448.5 473.5 443.5 479.5 443.5 485.5 446.5 493.5 453.5 500.5 453.5 506.5 450.5 513.5 457.5 522.5 457.5 528.5 452.5 535.5 451.5 542.5 453.5 550.5 463.5 557.5 463.5 560.5 459.5 567.5 459.5 574.5 463.5 584.5 465.5 602.5 470.5 612.5 474.5 614.5 481.5 622.5 482.5 632.5 480.5 635.5 480.5 645.5 489.5 654.5 491.5 661.5 501.5 671.5 502.5 677.5 509.5 691.5 522.5 699.5 532.5 699.5 540.5 702.5 547.5 702.5 555.5 707.5 567.5 706.5 580.5 712.5 591.5 713.5 598.5 720.5 607.5 725.5 620.5 722.5 637.5 721.5 642.5 718.5 663.5 719.5 675.5 726.5 685.5 727.5 694.5 733.5 716.5 733.5 720.5 729.5 721.5 720.5 723.5 718.5 726.5 718.5 734.5 722.5 741.5 732.5 749.5 732.5 755.5 730.5 757.5 728.5 758.5 723.5 762.5 719.5 777.5 719.5 788.5 725.5 803.5 719.5 804.5 720.5 808.5 718.5 816.5 718.5 831.5 713.5 843.5 704.5 852.5 702.5 869.5 694.5 878.5 692.5 883.5 688.5 887.5 682.5 894.5 677.5 896.5 672.5 904.5 666.5 911.5 658.5 918.5 655.5 922.5 655.5 936.5 637.5 940.5 623.5 940.5 612.5 942.5 608.5 950.5 600.5 955.5 591.5 958.5 589.5 958.5 572.5 966.5 560.5 965.5 543.5 956.5 530.5 955.5 521.5 949.5 516.5 948.5 513.5 951.5 504.5 950.5 493.5 956.5 482.5 956.5 474.5 949.5 457.5 948.5 444.5 946.5 439.5 952.5 427.5 951.5 420.5 943.5 416.5 938.5 408.5 930.5 400.5 922.5 396.5 917.5 391.5 907.5 370.5 907.5 363.5 905.5 360.5 906.5 359.5 902.5 355.5 898.5 346.5 899.5 345.5 896.5 343.5 890.5 333.5 890.5 330.5 885.5 319.5 884.5 307.5 876.5 297.5 875.5 290.5 864.5 277.5 852.5 272.5 842.5 273.5 830.5 263.5 824.5 262.5 817.5 258.5 792.5 258.5 781.5 252.5 776.5 253.5 772.5 257.5 768.5 257.5 760.5 248.5 761.5 247.5 757.5 243.5 746.5 238.5 739.5 237.5 735.5 241.5 732.5 240.5 728.5 242.5 715.5 235.5 700.5 231.5 696.5 227.5Z"/>
<path fill="#a8e408" d="M688.5 229.5 656.5 238.5 650.5 241.5 639.5 252.5 631.5 256.5 628.5 256.5 618.5 266.5 609.5 269.5 586.5 292.5 577.5 295.5 568.5 307.5 547.5 313.5 537.5 312.5 532.5 314.5 527.5 319.5 517.5 335.5 512.5 357.5 513.5 364.5 508.5 375.5 502.5 379.5 490.5 378.5 487.5 381.5 485.5 390.5 481.5 394.5 477.5 395.5 472.5 399.5 462.5 412.5 460.5 419.5 465.5 430.5 465.5 437.5 461.5 441.5 453.5 443.5 451.5 457.5 453.5 475.5 448.5 482.5 447.5 487.5 449.5 492.5 457.5 499.5 455.5 514.5 461.5 523.5 461.5 536.5 466.5 541.5 465.5 548.5 470.5 556.5 469.5 562.5 463.5 569.5 464.5 575.5 468.5 582.5 468.5 598.5 469.5 601.5 477.5 609.5 479.5 614.5 491.5 627.5 484.5 638.5 484.5 643.5 491.5 643.5 494.5 646.5 494.5 659.5 496.5 663.5 504.5 671.5 507.5 683.5 512.5 689.5 524.5 695.5 535.5 694.5 539.5 696.5 546.5 696.5 557.5 704.5 571.5 704.5 577.5 706.5 580.5 709.5 592.5 710.5 597.5 713.5 601.5 718.5 606.5 720.5 615.5 720.5 624.5 717.5 631.5 718.5 642.5 714.5 647.5 714.5 651.5 716.5 670.5 717.5 680.5 723.5 687.5 722.5 695.5 729.5 716.5 729.5 718.5 719.5 724.5 714.5 744.5 719.5 750.5 726.5 752.5 726.5 759.5 718.5 763.5 716.5 778.5 716.5 784.5 720.5 791.5 721.5 801.5 714.5 816.5 715.5 822.5 712.5 829.5 711.5 843.5 702.5 860.5 696.5 866.5 690.5 877.5 689.5 880.5 687.5 882.5 683.5 883.5 676.5 891.5 675.5 903.5 659.5 918.5 652.5 925.5 643.5 934.5 635.5 937.5 623.5 937.5 612.5 947.5 599.5 949.5 592.5 954.5 585.5 954.5 570.5 961.5 562.5 964.5 553.5 963.5 543.5 953.5 533.5 951.5 525.5 943.5 521.5 939.5 515.5 945.5 507.5 946.5 494.5 954.5 479.5 952.5 469.5 946.5 458.5 944.5 444.5 944.5 433.5 948.5 428.5 949.5 423.5 937.5 414.5 934.5 407.5 931.5 404.5 923.5 400.5 915.5 392.5 914.5 387.5 906.5 372.5 904.5 366.5 905.5 363.5 902.5 357.5 896.5 351.5 897.5 350.5 895.5 349.5 896.5 348.5 881.5 321.5 882.5 310.5 880.5 306.5 872.5 298.5 871.5 287.5 863.5 278.5 853.5 275.5 841.5 275.5 830.5 266.5 815.5 260.5 805.5 261.5 790.5 259.5 782.5 255.5 779.5 255.5 770.5 260.5 766.5 258.5 754.5 244.5 746.5 240.5 739.5 240.5 740.5 241.5 734.5 246.5 730.5 246.5 727.5 244.5 723.5 244.5 716.5 238.5 709.5 235.5 700.5 234.5 693.5 229.5Z"/>
<path fill="#8ddd08" d="M659.5 240.5 636.5 258.5 631.5 259.5 618.5 269.5 610.5 272.5 604.5 278.5 596.5 283.5 588.5 293.5 579.5 296.5 576.5 299.5 574.5 305.5 570.5 309.5 548.5 315.5 532.5 316.5 520.5 332.5 517.5 339.5 515.5 360.5 517.5 362.5 518.5 367.5 514.5 375.5 505.5 381.5 493.5 383.5 488.5 393.5 484.5 397.5 477.5 399.5 470.5 405.5 470.5 416.5 467.5 421.5 469.5 438.5 456.5 460.5 456.5 469.5 460.5 478.5 460.5 482.5 457.5 485.5 452.5 486.5 453.5 491.5 457.5 492.5 461.5 497.5 461.5 505.5 458.5 510.5 458.5 513.5 465.5 523.5 466.5 532.5 471.5 540.5 472.5 548.5 476.5 554.5 475.5 561.5 469.5 569.5 469.5 573.5 475.5 576.5 477.5 579.5 477.5 585.5 472.5 596.5 474.5 599.5 479.5 600.5 484.5 604.5 483.5 613.5 494.5 621.5 500.5 628.5 500.5 634.5 498.5 638.5 497.5 659.5 499.5 663.5 509.5 671.5 511.5 681.5 518.5 686.5 542.5 686.5 551.5 693.5 558.5 701.5 561.5 702.5 575.5 701.5 581.5 704.5 582.5 706.5 596.5 708.5 607.5 715.5 613.5 715.5 617.5 713.5 633.5 714.5 638.5 712.5 668.5 714.5 674.5 711.5 680.5 718.5 684.5 718.5 690.5 715.5 695.5 719.5 697.5 723.5 703.5 723.5 711.5 727.5 714.5 725.5 717.5 716.5 725.5 711.5 737.5 714.5 744.5 714.5 749.5 718.5 754.5 719.5 759.5 715.5 766.5 713.5 779.5 713.5 785.5 717.5 788.5 717.5 796.5 712.5 803.5 710.5 812.5 711.5 819.5 708.5 830.5 708.5 844.5 699.5 855.5 696.5 864.5 687.5 876.5 686.5 879.5 681.5 877.5 676.5 879.5 672.5 890.5 670.5 900.5 656.5 912.5 652.5 920.5 645.5 924.5 636.5 930.5 632.5 932.5 628.5 933.5 615.5 945.5 596.5 945.5 590.5 951.5 582.5 951.5 566.5 952.5 563.5 958.5 558.5 961.5 552.5 961.5 545.5 951.5 535.5 948.5 528.5 945.5 525.5 943.5 525.5 936.5 517.5 936.5 513.5 943.5 501.5 945.5 488.5 950.5 480.5 950.5 473.5 948.5 467.5 943.5 460.5 943.5 449.5 941.5 442.5 941.5 433.5 946.5 424.5 942.5 421.5 938.5 422.5 936.5 425.5 933.5 425.5 928.5 422.5 928.5 419.5 933.5 412.5 930.5 407.5 924.5 404.5 913.5 393.5 912.5 388.5 904.5 372.5 902.5 365.5 903.5 364.5 900.5 358.5 893.5 351.5 890.5 339.5 884.5 333.5 877.5 322.5 879.5 311.5 877.5 307.5 871.5 302.5 868.5 296.5 867.5 288.5 863.5 283.5 852.5 278.5 840.5 277.5 831.5 269.5 812.5 262.5 804.5 263.5 799.5 261.5 787.5 260.5 783.5 258.5 779.5 258.5 774.5 262.5 770.5 262.5 766.5 260.5 754.5 247.5 747.5 243.5 742.5 244.5 742.5 250.5 740.5 252.5 735.5 249.5 722.5 246.5 711.5 238.5 698.5 236.5 691.5 233.5 682.5 233.5 667.5 239.5Z"/>
<path fill="#73d608" d="M659.5 243.5 631.5 265.5 611.5 275.5 597.5 284.5 589.5 294.5 581.5 297.5 578.5 300.5 573.5 310.5 548.5 317.5 534.5 317.5 531.5 319.5 527.5 327.5 521.5 333.5 518.5 340.5 518.5 357.5 522.5 364.5 522.5 368.5 514.5 379.5 496.5 388.5 487.5 401.5 487.5 408.5 484.5 411.5 479.5 411.5 476.5 408.5 475.5 410.5 476.5 411.5 472.5 426.5 473.5 437.5 469.5 451.5 461.5 460.5 461.5 468.5 464.5 474.5 465.5 485.5 467.5 489.5 465.5 498.5 469.5 505.5 462.5 510.5 462.5 515.5 469.5 522.5 474.5 540.5 474.5 545.5 479.5 554.5 477.5 571.5 481.5 578.5 484.5 599.5 490.5 606.5 491.5 613.5 501.5 621.5 505.5 629.5 505.5 637.5 501.5 645.5 501.5 660.5 504.5 664.5 512.5 666.5 515.5 669.5 517.5 676.5 526.5 673.5 534.5 681.5 549.5 685.5 561.5 699.5 579.5 699.5 589.5 705.5 613.5 707.5 618.5 709.5 649.5 709.5 663.5 712.5 672.5 708.5 677.5 708.5 683.5 713.5 693.5 712.5 701.5 718.5 712.5 720.5 720.5 710.5 726.5 708.5 746.5 709.5 754.5 715.5 764.5 710.5 780.5 710.5 785.5 712.5 791.5 711.5 816.5 702.5 831.5 704.5 846.5 693.5 855.5 692.5 862.5 684.5 873.5 684.5 875.5 682.5 874.5 678.5 871.5 675.5 871.5 672.5 873.5 670.5 888.5 667.5 898.5 653.5 911.5 647.5 918.5 641.5 919.5 632.5 928.5 626.5 930.5 614.5 939.5 603.5 942.5 595.5 942.5 590.5 949.5 581.5 947.5 561.5 957.5 549.5 957.5 545.5 950.5 539.5 945.5 529.5 941.5 527.5 934.5 518.5 934.5 510.5 940.5 501.5 942.5 487.5 946.5 478.5 946.5 471.5 940.5 460.5 938.5 433.5 936.5 430.5 925.5 423.5 922.5 415.5 925.5 413.5 925.5 411.5 927.5 412.5 926.5 410.5 923.5 410.5 924.5 409.5 922.5 408.5 919.5 402.5 911.5 395.5 899.5 361.5 891.5 352.5 888.5 340.5 879.5 331.5 875.5 324.5 875.5 311.5 868.5 302.5 862.5 287.5 856.5 285.5 850.5 280.5 839.5 279.5 830.5 271.5 821.5 270.5 816.5 266.5 805.5 266.5 799.5 263.5 788.5 261.5 780.5 261.5 776.5 264.5 769.5 264.5 763.5 260.5 755.5 251.5 747.5 248.5 748.5 250.5 744.5 254.5 738.5 254.5 733.5 251.5 721.5 248.5 704.5 239.5 694.5 239.5 684.5 235.5 670.5 241.5Z"/>
<path fill="#58cc10" d="M662.5 244.5 646.5 255.5 632.5 268.5 625.5 270.5 600.5 284.5 589.5 296.5 580.5 301.5 574.5 312.5 546.5 319.5 534.5 319.5 527.5 330.5 522.5 334.5 519.5 341.5 521.5 357.5 524.5 360.5 525.5 368.5 513.5 382.5 503.5 386.5 500.5 389.5 499.5 394.5 494.5 399.5 488.5 413.5 478.5 420.5 475.5 447.5 469.5 458.5 472.5 467.5 469.5 473.5 468.5 482.5 471.5 488.5 470.5 497.5 475.5 503.5 475.5 509.5 472.5 514.5 472.5 524.5 476.5 535.5 477.5 546.5 481.5 553.5 480.5 568.5 486.5 587.5 487.5 598.5 491.5 602.5 496.5 603.5 500.5 606.5 507.5 620.5 507.5 627.5 510.5 635.5 505.5 646.5 505.5 657.5 508.5 661.5 516.5 662.5 521.5 666.5 531.5 670.5 539.5 679.5 552.5 682.5 558.5 688.5 562.5 695.5 580.5 697.5 593.5 703.5 632.5 705.5 639.5 708.5 655.5 706.5 663.5 709.5 671.5 706.5 677.5 706.5 684.5 710.5 692.5 709.5 701.5 714.5 709.5 716.5 712.5 715.5 719.5 708.5 726.5 705.5 748.5 705.5 752.5 709.5 756.5 710.5 761.5 707.5 794.5 707.5 802.5 705.5 814.5 699.5 831.5 700.5 835.5 698.5 845.5 687.5 853.5 687.5 862.5 680.5 864.5 680.5 866.5 678.5 865.5 673.5 870.5 667.5 880.5 667.5 887.5 664.5 890.5 660.5 892.5 652.5 895.5 649.5 905.5 643.5 911.5 642.5 914.5 639.5 915.5 629.5 924.5 624.5 930.5 608.5 938.5 600.5 939.5 591.5 947.5 580.5 947.5 575.5 942.5 565.5 942.5 558.5 947.5 549.5 947.5 538.5 945.5 533.5 936.5 525.5 931.5 515.5 932.5 506.5 938.5 497.5 938.5 481.5 942.5 474.5 942.5 469.5 937.5 458.5 935.5 437.5 932.5 431.5 927.5 428.5 918.5 417.5 917.5 404.5 907.5 393.5 904.5 378.5 896.5 360.5 889.5 353.5 886.5 341.5 876.5 332.5 873.5 326.5 872.5 317.5 862.5 293.5 855.5 289.5 849.5 283.5 837.5 281.5 828.5 273.5 823.5 274.5 814.5 269.5 805.5 269.5 792.5 263.5 783.5 263.5 775.5 267.5 769.5 266.5 752.5 253.5 746.5 256.5 740.5 256.5 709.5 246.5 702.5 242.5 693.5 243.5 685.5 238.5 682.5 238.5 672.5 243.5Z"/>
<path fill="#3ac410" d="M664.5 246.5 650.5 254.5 635.5 269.5 624.5 273.5 603.5 284.5 598.5 288.5 594.5 294.5 582.5 302.5 578.5 310.5 573.5 315.5 564.5 315.5 550.5 320.5 537.5 320.5 532.5 324.5 530.5 329.5 521.5 338.5 522.5 350.5 527.5 359.5 527.5 369.5 516.5 382.5 507.5 386.5 504.5 389.5 503.5 398.5 491.5 414.5 483.5 422.5 480.5 432.5 480.5 449.5 473.5 477.5 473.5 482.5 476.5 487.5 476.5 494.5 479.5 500.5 479.5 506.5 476.5 516.5 476.5 526.5 479.5 534.5 479.5 544.5 483.5 552.5 484.5 574.5 490.5 589.5 490.5 597.5 503.5 602.5 515.5 611.5 515.5 616.5 512.5 622.5 512.5 629.5 517.5 640.5 518.5 650.5 527.5 663.5 533.5 667.5 542.5 677.5 553.5 678.5 561.5 685.5 564.5 691.5 570.5 694.5 582.5 695.5 596.5 701.5 630.5 701.5 638.5 705.5 645.5 705.5 652.5 702.5 658.5 703.5 663.5 706.5 677.5 704.5 682.5 707.5 695.5 707.5 705.5 712.5 711.5 712.5 716.5 707.5 726.5 702.5 743.5 703.5 753.5 701.5 754.5 702.5 757.5 700.5 766.5 704.5 795.5 704.5 812.5 697.5 831.5 696.5 835.5 694.5 843.5 685.5 854.5 683.5 859.5 678.5 862.5 671.5 867.5 665.5 883.5 663.5 887.5 659.5 888.5 651.5 893.5 645.5 903.5 640.5 909.5 639.5 911.5 637.5 911.5 628.5 914.5 625.5 921.5 622.5 927.5 607.5 936.5 598.5 936.5 592.5 945.5 578.5 938.5 567.5 939.5 549.5 943.5 541.5 943.5 535.5 933.5 525.5 928.5 508.5 929.5 504.5 934.5 497.5 932.5 484.5 938.5 473.5 938.5 467.5 931.5 446.5 929.5 433.5 917.5 420.5 914.5 412.5 915.5 406.5 913.5 402.5 909.5 400.5 906.5 396.5 903.5 380.5 898.5 371.5 897.5 366.5 887.5 353.5 885.5 343.5 873.5 332.5 870.5 321.5 863.5 311.5 863.5 304.5 861.5 300.5 846.5 285.5 835.5 284.5 828.5 277.5 820.5 276.5 810.5 271.5 801.5 270.5 793.5 265.5 784.5 265.5 779.5 268.5 772.5 269.5 764.5 265.5 762.5 262.5 752.5 256.5 741.5 258.5 727.5 253.5 710.5 250.5 703.5 246.5 693.5 247.5 685.5 242.5 679.5 242.5 666.5 247.5Z"/>
<path fill="#0fb610" d="M674.5 246.5 670.5 249.5 663.5 250.5 653.5 255.5 634.5 273.5 625.5 275.5 605.5 285.5 593.5 297.5 584.5 303.5 579.5 312.5 575.5 316.5 563.5 317.5 549.5 322.5 537.5 322.5 534.5 324.5 530.5 332.5 523.5 338.5 522.5 344.5 529.5 358.5 529.5 368.5 519.5 382.5 509.5 389.5 509.5 394.5 507.5 398.5 492.5 417.5 486.5 430.5 486.5 437.5 491.5 443.5 492.5 448.5 480.5 462.5 478.5 470.5 478.5 480.5 481.5 486.5 481.5 494.5 484.5 500.5 484.5 503.5 480.5 511.5 479.5 524.5 482.5 530.5 481.5 541.5 486.5 553.5 486.5 558.5 491.5 564.5 487.5 572.5 488.5 579.5 494.5 586.5 496.5 594.5 503.5 591.5 506.5 596.5 519.5 608.5 520.5 619.5 517.5 628.5 525.5 637.5 525.5 640.5 521.5 645.5 522.5 650.5 544.5 674.5 554.5 674.5 561.5 678.5 567.5 678.5 570.5 681.5 569.5 688.5 574.5 691.5 583.5 692.5 595.5 698.5 627.5 698.5 640.5 702.5 655.5 699.5 666.5 704.5 677.5 702.5 683.5 705.5 698.5 705.5 705.5 709.5 710.5 709.5 717.5 703.5 724.5 700.5 747.5 700.5 755.5 696.5 760.5 696.5 766.5 701.5 773.5 702.5 778.5 699.5 796.5 701.5 811.5 695.5 830.5 693.5 843.5 682.5 853.5 680.5 865.5 663.5 868.5 661.5 880.5 661.5 884.5 657.5 887.5 647.5 891.5 643.5 904.5 636.5 907.5 627.5 920.5 617.5 921.5 610.5 931.5 600.5 934.5 590.5 941.5 580.5 941.5 576.5 935.5 568.5 936.5 544.5 939.5 537.5 932.5 529.5 926.5 510.5 926.5 504.5 929.5 498.5 928.5 487.5 930.5 479.5 935.5 472.5 933.5 459.5 927.5 447.5 926.5 434.5 916.5 422.5 913.5 416.5 912.5 405.5 905.5 398.5 901.5 380.5 894.5 364.5 887.5 356.5 883.5 344.5 871.5 334.5 867.5 321.5 861.5 314.5 859.5 308.5 852.5 302.5 849.5 293.5 842.5 287.5 832.5 287.5 825.5 280.5 809.5 273.5 803.5 273.5 794.5 267.5 787.5 266.5 779.5 270.5 769.5 270.5 753.5 259.5 739.5 259.5 728.5 255.5 709.5 252.5 703.5 249.5 690.5 249.5 681.5 245.5Z"/>
<path fill="#08a325" d="M676.5 248.5 669.5 255.5 659.5 256.5 651.5 259.5 636.5 275.5 625.5 277.5 608.5 285.5 596.5 297.5 588.5 302.5 582.5 311.5 575.5 318.5 562.5 319.5 547.5 324.5 538.5 324.5 535.5 326.5 533.5 331.5 525.5 338.5 524.5 345.5 531.5 357.5 531.5 368.5 516.5 388.5 513.5 395.5 503.5 406.5 502.5 411.5 497.5 419.5 496.5 425.5 491.5 433.5 497.5 445.5 497.5 449.5 495.5 453.5 483.5 464.5 482.5 467.5 482.5 476.5 486.5 484.5 485.5 495.5 488.5 501.5 488.5 504.5 483.5 511.5 483.5 523.5 488.5 533.5 486.5 545.5 490.5 555.5 498.5 563.5 498.5 566.5 491.5 573.5 491.5 578.5 496.5 583.5 507.5 587.5 511.5 596.5 522.5 604.5 524.5 616.5 523.5 628.5 534.5 639.5 542.5 666.5 547.5 670.5 568.5 672.5 572.5 674.5 582.5 687.5 588.5 689.5 595.5 695.5 628.5 695.5 631.5 697.5 643.5 699.5 649.5 696.5 654.5 696.5 664.5 701.5 680.5 701.5 683.5 703.5 703.5 702.5 706.5 704.5 710.5 704.5 719.5 698.5 745.5 698.5 756.5 692.5 760.5 692.5 767.5 698.5 772.5 699.5 778.5 696.5 786.5 698.5 798.5 698.5 818.5 690.5 827.5 690.5 835.5 686.5 840.5 681.5 850.5 678.5 867.5 657.5 871.5 655.5 880.5 655.5 886.5 644.5 896.5 638.5 900.5 632.5 900.5 629.5 914.5 616.5 917.5 607.5 929.5 597.5 930.5 591.5 937.5 581.5 937.5 576.5 932.5 568.5 934.5 554.5 932.5 549.5 932.5 538.5 929.5 528.5 930.5 527.5 924.5 510.5 924.5 503.5 926.5 499.5 925.5 489.5 928.5 476.5 932.5 470.5 932.5 466.5 924.5 448.5 923.5 434.5 912.5 417.5 910.5 406.5 904.5 399.5 899.5 379.5 895.5 373.5 892.5 364.5 886.5 358.5 882.5 346.5 867.5 333.5 865.5 323.5 860.5 317.5 857.5 310.5 847.5 301.5 844.5 296.5 838.5 292.5 831.5 290.5 814.5 277.5 800.5 274.5 791.5 268.5 771.5 272.5 766.5 270.5 757.5 263.5 751.5 261.5 741.5 261.5 730.5 257.5 713.5 255.5 701.5 251.5 688.5 251.5Z"/>
<path fill="#088b3e" d="M677.5 253.5 669.5 258.5 656.5 260.5 650.5 263.5 642.5 274.5 635.5 278.5 626.5 279.5 610.5 286.5 599.5 297.5 591.5 302.5 576.5 319.5 563.5 321.5 552.5 325.5 539.5 326.5 535.5 332.5 526.5 340.5 526.5 345.5 533.5 357.5 532.5 369.5 521.5 385.5 519.5 393.5 505.5 407.5 501.5 427.5 496.5 434.5 503.5 443.5 504.5 447.5 496.5 461.5 487.5 469.5 488.5 477.5 493.5 486.5 489.5 491.5 491.5 506.5 486.5 513.5 486.5 521.5 493.5 534.5 493.5 546.5 496.5 551.5 496.5 554.5 503.5 563.5 502.5 568.5 495.5 574.5 495.5 577.5 499.5 580.5 515.5 584.5 514.5 594.5 521.5 598.5 527.5 605.5 529.5 626.5 533.5 631.5 539.5 635.5 540.5 645.5 547.5 654.5 547.5 663.5 553.5 667.5 567.5 668.5 573.5 671.5 584.5 682.5 592.5 686.5 597.5 691.5 625.5 691.5 635.5 695.5 654.5 694.5 666.5 699.5 681.5 699.5 686.5 701.5 694.5 701.5 708.5 698.5 716.5 694.5 747.5 695.5 755.5 689.5 759.5 688.5 769.5 695.5 801.5 695.5 810.5 691.5 817.5 685.5 833.5 683.5 840.5 678.5 847.5 676.5 860.5 662.5 865.5 654.5 873.5 648.5 880.5 647.5 887.5 639.5 892.5 637.5 896.5 633.5 897.5 627.5 906.5 619.5 911.5 606.5 919.5 602.5 926.5 596.5 927.5 589.5 933.5 582.5 933.5 576.5 930.5 570.5 931.5 555.5 928.5 548.5 927.5 522.5 922.5 510.5 923.5 489.5 925.5 483.5 927.5 463.5 921.5 446.5 921.5 435.5 912.5 421.5 909.5 408.5 903.5 400.5 897.5 379.5 894.5 375.5 891.5 366.5 884.5 358.5 880.5 347.5 867.5 338.5 856.5 313.5 842.5 302.5 836.5 300.5 830.5 292.5 819.5 285.5 813.5 279.5 798.5 275.5 791.5 270.5 786.5 270.5 778.5 273.5 770.5 273.5 754.5 264.5 731.5 260.5 723.5 257.5 714.5 257.5 701.5 253.5 692.5 252.5Z"/>
<path fill="#087b51" d="M654.5 263.5 649.5 267.5 646.5 273.5 639.5 279.5 627.5 281.5 609.5 289.5 598.5 300.5 593.5 303.5 577.5 320.5 572.5 322.5 564.5 322.5 551.5 327.5 541.5 328.5 538.5 330.5 536.5 335.5 529.5 341.5 529.5 347.5 535.5 356.5 534.5 368.5 523.5 387.5 521.5 397.5 510.5 405.5 507.5 410.5 505.5 425.5 506.5 428.5 503.5 433.5 503.5 435.5 513.5 444.5 513.5 448.5 510.5 452.5 502.5 457.5 499.5 465.5 493.5 472.5 493.5 476.5 497.5 481.5 497.5 486.5 493.5 492.5 494.5 505.5 490.5 518.5 495.5 527.5 498.5 542.5 502.5 550.5 502.5 557.5 509.5 565.5 508.5 570.5 505.5 574.5 508.5 576.5 517.5 575.5 521.5 578.5 522.5 583.5 520.5 591.5 527.5 598.5 531.5 605.5 532.5 616.5 534.5 618.5 538.5 618.5 542.5 615.5 545.5 615.5 547.5 617.5 545.5 625.5 546.5 633.5 543.5 642.5 551.5 651.5 553.5 661.5 557.5 664.5 567.5 664.5 573.5 667.5 586.5 679.5 593.5 682.5 601.5 688.5 625.5 688.5 634.5 692.5 655.5 692.5 663.5 694.5 668.5 697.5 697.5 698.5 708.5 692.5 710.5 687.5 719.5 688.5 727.5 693.5 747.5 692.5 758.5 685.5 762.5 686.5 770.5 692.5 775.5 691.5 784.5 693.5 794.5 693.5 799.5 691.5 805.5 691.5 813.5 683.5 817.5 681.5 832.5 680.5 846.5 672.5 870.5 646.5 876.5 637.5 885.5 636.5 892.5 632.5 895.5 624.5 901.5 619.5 904.5 605.5 910.5 600.5 920.5 598.5 924.5 593.5 924.5 587.5 929.5 581.5 929.5 576.5 927.5 571.5 928.5 560.5 923.5 552.5 926.5 539.5 925.5 522.5 920.5 511.5 921.5 490.5 923.5 481.5 923.5 456.5 919.5 445.5 919.5 435.5 910.5 419.5 907.5 407.5 901.5 398.5 900.5 391.5 890.5 368.5 883.5 359.5 879.5 350.5 876.5 347.5 869.5 344.5 864.5 339.5 862.5 334.5 854.5 327.5 853.5 324.5 855.5 317.5 853.5 313.5 841.5 306.5 834.5 304.5 828.5 294.5 824.5 292.5 817.5 292.5 814.5 284.5 810.5 280.5 797.5 277.5 789.5 272.5 780.5 274.5 768.5 274.5 754.5 266.5 696.5 254.5 685.5 254.5 671.5 260.5Z"/>
<path fill="#006a70" d="M687.5 255.5 674.5 261.5 655.5 265.5 651.5 268.5 648.5 274.5 641.5 280.5 628.5 283.5 608.5 292.5 578.5 321.5 574.5 323.5 563.5 324.5 552.5 329.5 543.5 330.5 532.5 342.5 532.5 348.5 537.5 356.5 536.5 367.5 525.5 388.5 526.5 389.5 523.5 402.5 511.5 408.5 510.5 423.5 513.5 427.5 512.5 436.5 517.5 442.5 517.5 447.5 513.5 455.5 505.5 462.5 502.5 468.5 501.5 484.5 496.5 493.5 496.5 512.5 500.5 518.5 499.5 532.5 509.5 541.5 509.5 550.5 507.5 553.5 508.5 557.5 523.5 573.5 525.5 578.5 525.5 589.5 532.5 601.5 540.5 608.5 552.5 609.5 555.5 612.5 550.5 625.5 551.5 632.5 548.5 638.5 549.5 644.5 556.5 650.5 558.5 657.5 570.5 660.5 579.5 658.5 583.5 662.5 584.5 672.5 589.5 677.5 603.5 684.5 608.5 683.5 616.5 686.5 624.5 685.5 635.5 690.5 657.5 690.5 666.5 691.5 672.5 694.5 684.5 693.5 691.5 696.5 697.5 695.5 701.5 692.5 701.5 684.5 705.5 680.5 721.5 683.5 730.5 691.5 746.5 689.5 757.5 683.5 761.5 683.5 771.5 689.5 783.5 691.5 794.5 690.5 806.5 685.5 813.5 679.5 829.5 678.5 835.5 676.5 842.5 671.5 853.5 656.5 866.5 647.5 870.5 638.5 875.5 633.5 887.5 629.5 896.5 618.5 900.5 605.5 905.5 597.5 910.5 593.5 913.5 595.5 918.5 595.5 920.5 593.5 925.5 573.5 924.5 562.5 916.5 556.5 916.5 552.5 923.5 541.5 923.5 523.5 918.5 511.5 920.5 493.5 919.5 467.5 921.5 462.5 921.5 456.5 918.5 449.5 917.5 434.5 910.5 422.5 907.5 411.5 901.5 401.5 899.5 392.5 892.5 376.5 878.5 353.5 868.5 348.5 856.5 333.5 850.5 331.5 847.5 328.5 846.5 325.5 850.5 317.5 849.5 315.5 840.5 309.5 831.5 307.5 826.5 297.5 814.5 296.5 810.5 292.5 811.5 287.5 808.5 282.5 804.5 280.5 795.5 279.5 787.5 274.5 772.5 276.5 764.5 274.5 758.5 269.5 752.5 267.5 748.5 268.5 723.5 260.5 715.5 260.5 694.5 255.5Z"/>
<path fill="#005a86" d="M688.5 256.5 680.5 261.5 658.5 266.5 653.5 269.5 650.5 275.5 645.5 280.5 639.5 283.5 629.5 285.5 622.5 291.5 610.5 293.5 578.5 322.5 571.5 325.5 564.5 325.5 552.5 331.5 544.5 332.5 541.5 335.5 535.5 345.5 535.5 348.5 539.5 354.5 539.5 362.5 537.5 370.5 529.5 383.5 527.5 391.5 530.5 402.5 529.5 407.5 522.5 417.5 517.5 430.5 518.5 436.5 521.5 439.5 521.5 444.5 514.5 460.5 506.5 471.5 504.5 484.5 499.5 494.5 499.5 510.5 506.5 516.5 502.5 524.5 502.5 529.5 505.5 533.5 512.5 536.5 515.5 540.5 515.5 557.5 525.5 561.5 528.5 564.5 528.5 587.5 535.5 597.5 543.5 605.5 554.5 605.5 559.5 610.5 559.5 615.5 555.5 622.5 555.5 640.5 561.5 643.5 564.5 651.5 568.5 655.5 581.5 655.5 586.5 661.5 587.5 670.5 591.5 675.5 598.5 676.5 615.5 683.5 627.5 683.5 634.5 687.5 674.5 687.5 689.5 692.5 696.5 691.5 699.5 681.5 707.5 676.5 724.5 680.5 731.5 687.5 734.5 688.5 740.5 685.5 746.5 685.5 755.5 680.5 767.5 680.5 775.5 687.5 789.5 688.5 794.5 686.5 802.5 679.5 818.5 676.5 828.5 676.5 833.5 674.5 845.5 660.5 848.5 651.5 851.5 649.5 861.5 648.5 864.5 644.5 865.5 637.5 872.5 631.5 881.5 627.5 887.5 619.5 892.5 617.5 900.5 599.5 902.5 591.5 907.5 588.5 913.5 590.5 918.5 588.5 921.5 578.5 921.5 568.5 917.5 563.5 912.5 562.5 908.5 558.5 909.5 551.5 919.5 543.5 921.5 538.5 921.5 525.5 915.5 510.5 915.5 503.5 918.5 494.5 917.5 467.5 919.5 460.5 915.5 450.5 915.5 438.5 909.5 429.5 908.5 419.5 900.5 407.5 899.5 395.5 894.5 388.5 891.5 378.5 882.5 365.5 878.5 356.5 866.5 350.5 856.5 337.5 848.5 335.5 842.5 329.5 842.5 322.5 844.5 318.5 840.5 313.5 829.5 312.5 825.5 308.5 825.5 303.5 822.5 300.5 810.5 297.5 807.5 293.5 807.5 287.5 804.5 283.5 800.5 282.5 798.5 284.5 794.5 284.5 786.5 277.5 774.5 278.5 766.5 276.5 755.5 270.5 744.5 272.5 738.5 267.5 720.5 261.5 704.5 260.5Z"/>
<path fill="#004ca0" d="M549.5 335.5 546.5 337.5 546.5 342.5 548.5 342.5 551.5 338.5ZM661.5 268.5 656.5 271.5 647.5 282.5 631.5 288.5 619.5 297.5 607.5 298.5 598.5 306.5 592.5 314.5 575.5 326.5 565.5 327.5 560.5 331.5 558.5 335.5 557.5 344.5 554.5 347.5 550.5 348.5 548.5 352.5 543.5 371.5 536.5 376.5 531.5 383.5 531.5 388.5 537.5 394.5 537.5 400.5 535.5 403.5 535.5 407.5 525.5 421.5 523.5 432.5 526.5 434.5 527.5 438.5 520.5 451.5 516.5 469.5 510.5 476.5 506.5 486.5 506.5 497.5 503.5 507.5 510.5 514.5 510.5 519.5 506.5 525.5 506.5 528.5 511.5 532.5 517.5 533.5 526.5 543.5 527.5 553.5 538.5 562.5 538.5 574.5 540.5 576.5 549.5 575.5 552.5 578.5 551.5 582.5 542.5 583.5 542.5 588.5 544.5 591.5 544.5 601.5 547.5 603.5 557.5 602.5 561.5 605.5 563.5 609.5 563.5 615.5 559.5 622.5 559.5 629.5 567.5 640.5 567.5 649.5 572.5 653.5 583.5 653.5 591.5 663.5 592.5 670.5 594.5 672.5 602.5 673.5 618.5 681.5 628.5 681.5 638.5 686.5 659.5 686.5 671.5 683.5 677.5 685.5 691.5 686.5 700.5 677.5 708.5 673.5 713.5 673.5 719.5 676.5 733.5 675.5 743.5 678.5 755.5 676.5 764.5 677.5 770.5 674.5 775.5 674.5 780.5 677.5 782.5 681.5 783.5 680.5 788.5 682.5 798.5 674.5 827.5 673.5 831.5 668.5 831.5 664.5 837.5 651.5 845.5 645.5 857.5 643.5 858.5 635.5 863.5 629.5 874.5 625.5 877.5 622.5 880.5 614.5 886.5 614.5 890.5 611.5 896.5 600.5 896.5 593.5 898.5 589.5 907.5 582.5 914.5 582.5 917.5 577.5 916.5 570.5 913.5 567.5 908.5 566.5 905.5 563.5 904.5 559.5 905.5 550.5 908.5 544.5 916.5 539.5 918.5 528.5 912.5 510.5 912.5 504.5 916.5 490.5 916.5 484.5 914.5 479.5 916.5 459.5 911.5 452.5 911.5 442.5 906.5 430.5 905.5 420.5 894.5 404.5 896.5 396.5 889.5 387.5 888.5 379.5 883.5 373.5 877.5 359.5 874.5 356.5 864.5 352.5 854.5 340.5 844.5 339.5 839.5 331.5 838.5 321.5 836.5 319.5 822.5 312.5 817.5 311.5 815.5 309.5 817.5 306.5 816.5 303.5 808.5 300.5 801.5 293.5 791.5 289.5 784.5 282.5 778.5 283.5 767.5 281.5 761.5 286.5 752.5 276.5 744.5 277.5 738.5 271.5 720.5 264.5 713.5 264.5 707.5 262.5 700.5 263.5 692.5 258.5 684.5 260.5 679.5 265.5Z"/>
<path fill="#0037c1" d="M688.5 261.5 680.5 268.5 669.5 273.5 666.5 272.5 660.5 274.5 647.5 285.5 635.5 289.5 621.5 300.5 605.5 304.5 595.5 317.5 585.5 321.5 578.5 327.5 565.5 334.5 562.5 346.5 552.5 356.5 552.5 362.5 546.5 375.5 541.5 380.5 538.5 380.5 536.5 382.5 541.5 391.5 541.5 403.5 538.5 412.5 539.5 415.5 536.5 418.5 531.5 418.5 529.5 422.5 533.5 430.5 533.5 439.5 525.5 446.5 523.5 450.5 520.5 472.5 511.5 484.5 512.5 500.5 510.5 507.5 514.5 514.5 513.5 525.5 518.5 525.5 522.5 529.5 523.5 533.5 532.5 542.5 533.5 551.5 543.5 561.5 544.5 568.5 553.5 573.5 563.5 584.5 563.5 589.5 557.5 592.5 555.5 595.5 558.5 596.5 565.5 603.5 568.5 609.5 563.5 626.5 570.5 637.5 571.5 649.5 582.5 649.5 590.5 658.5 600.5 663.5 607.5 672.5 613.5 674.5 618.5 678.5 628.5 679.5 639.5 684.5 658.5 684.5 669.5 681.5 681.5 683.5 689.5 682.5 697.5 676.5 711.5 670.5 720.5 672.5 729.5 670.5 734.5 672.5 761.5 673.5 769.5 668.5 788.5 670.5 795.5 666.5 802.5 666.5 810.5 671.5 824.5 670.5 827.5 667.5 828.5 651.5 832.5 646.5 839.5 642.5 843.5 629.5 848.5 628.5 854.5 631.5 859.5 626.5 868.5 622.5 870.5 614.5 874.5 609.5 888.5 606.5 890.5 603.5 890.5 594.5 897.5 586.5 902.5 575.5 910.5 574.5 909.5 572.5 903.5 574.5 903.5 572.5 901.5 571.5 901.5 552.5 905.5 540.5 912.5 535.5 914.5 531.5 914.5 523.5 910.5 513.5 910.5 498.5 913.5 490.5 913.5 484.5 911.5 479.5 913.5 463.5 907.5 454.5 907.5 438.5 903.5 431.5 902.5 422.5 893.5 411.5 885.5 406.5 885.5 402.5 889.5 395.5 884.5 388.5 884.5 382.5 879.5 374.5 875.5 361.5 855.5 350.5 850.5 345.5 841.5 345.5 839.5 343.5 835.5 329.5 831.5 326.5 827.5 326.5 823.5 322.5 822.5 318.5 813.5 315.5 809.5 310.5 809.5 306.5 796.5 295.5 780.5 287.5 773.5 287.5 766.5 293.5 762.5 294.5 750.5 283.5 741.5 281.5 738.5 276.5 733.5 272.5 715.5 270.5 710.5 267.5 700.5 268.5 697.5 267.5 691.5 261.5Z"/>
<path fill="#002ecb" d="M660.5 279.5 645.5 290.5 638.5 291.5 631.5 298.5 625.5 300.5 606.5 312.5 603.5 317.5 598.5 321.5 586.5 323.5 570.5 336.5 569.5 342.5 573.5 348.5 572.5 352.5 568.5 356.5 563.5 354.5 558.5 355.5 556.5 367.5 552.5 372.5 550.5 380.5 544.5 390.5 544.5 398.5 548.5 405.5 546.5 411.5 547.5 417.5 538.5 430.5 537.5 443.5 528.5 447.5 526.5 452.5 528.5 457.5 525.5 462.5 523.5 472.5 518.5 481.5 518.5 491.5 516.5 495.5 515.5 508.5 516.5 510.5 523.5 511.5 527.5 514.5 527.5 518.5 525.5 521.5 525.5 528.5 527.5 532.5 535.5 538.5 538.5 550.5 550.5 559.5 551.5 568.5 564.5 579.5 569.5 586.5 569.5 597.5 576.5 607.5 576.5 612.5 569.5 620.5 568.5 626.5 573.5 634.5 575.5 645.5 585.5 647.5 591.5 655.5 601.5 659.5 609.5 666.5 617.5 668.5 621.5 674.5 637.5 681.5 653.5 683.5 669.5 679.5 684.5 680.5 707.5 669.5 721.5 668.5 726.5 666.5 735.5 669.5 760.5 669.5 768.5 665.5 785.5 664.5 793.5 660.5 800.5 660.5 812.5 664.5 821.5 658.5 824.5 646.5 836.5 638.5 839.5 627.5 841.5 625.5 850.5 625.5 862.5 620.5 866.5 612.5 877.5 602.5 878.5 592.5 883.5 588.5 892.5 587.5 896.5 581.5 894.5 572.5 898.5 563.5 898.5 549.5 901.5 542.5 901.5 538.5 904.5 532.5 908.5 532.5 911.5 529.5 911.5 524.5 907.5 513.5 907.5 494.5 910.5 487.5 909.5 479.5 906.5 472.5 900.5 473.5 897.5 469.5 900.5 465.5 906.5 468.5 908.5 466.5 903.5 453.5 903.5 437.5 898.5 429.5 898.5 425.5 893.5 416.5 881.5 407.5 883.5 394.5 876.5 386.5 875.5 370.5 873.5 365.5 861.5 356.5 854.5 355.5 847.5 351.5 836.5 349.5 832.5 345.5 831.5 333.5 821.5 327.5 793.5 298.5 778.5 291.5 766.5 297.5 760.5 298.5 756.5 296.5 748.5 288.5 739.5 285.5 732.5 276.5 719.5 275.5 712.5 277.5 705.5 273.5 698.5 274.5 697.5 278.5 699.5 281.5 699.5 286.5 694.5 290.5 690.5 288.5 689.5 276.5 684.5 271.5 677.5 274.5 673.5 279.5Z"/>
<path fill="#0021de" d="M578.5 339.5 582.5 338.5 588.5 344.5 584.5 345.5 580.5 343.5ZM725.5 279.5 713.5 282.5 704.5 281.5 701.5 288.5 695.5 293.5 691.5 293.5 686.5 289.5 683.5 280.5 680.5 280.5 675.5 286.5 671.5 286.5 666.5 283.5 659.5 283.5 652.5 288.5 648.5 297.5 640.5 306.5 633.5 308.5 625.5 304.5 600.5 324.5 595.5 326.5 587.5 326.5 582.5 329.5 577.5 338.5 577.5 348.5 575.5 352.5 574.5 365.5 571.5 368.5 564.5 369.5 561.5 372.5 559.5 379.5 555.5 385.5 551.5 387.5 547.5 392.5 548.5 398.5 555.5 404.5 555.5 406.5 552.5 411.5 550.5 421.5 542.5 431.5 542.5 438.5 546.5 445.5 537.5 452.5 536.5 458.5 529.5 464.5 523.5 478.5 523.5 482.5 528.5 486.5 528.5 488.5 520.5 497.5 520.5 506.5 528.5 507.5 532.5 511.5 533.5 521.5 530.5 526.5 545.5 533.5 551.5 539.5 552.5 544.5 547.5 549.5 555.5 559.5 555.5 567.5 570.5 580.5 573.5 586.5 574.5 598.5 580.5 607.5 580.5 640.5 588.5 644.5 597.5 653.5 606.5 659.5 618.5 663.5 623.5 670.5 628.5 674.5 639.5 679.5 653.5 681.5 669.5 677.5 683.5 677.5 694.5 671.5 698.5 671.5 709.5 666.5 719.5 665.5 723.5 663.5 733.5 665.5 761.5 665.5 767.5 662.5 784.5 660.5 800.5 652.5 804.5 655.5 810.5 656.5 814.5 653.5 812.5 647.5 821.5 639.5 833.5 636.5 835.5 632.5 835.5 625.5 838.5 622.5 846.5 622.5 852.5 620.5 870.5 604.5 873.5 600.5 875.5 591.5 879.5 586.5 888.5 585.5 892.5 582.5 892.5 578.5 890.5 576.5 882.5 577.5 879.5 575.5 878.5 570.5 881.5 566.5 890.5 565.5 893.5 561.5 893.5 545.5 897.5 540.5 898.5 536.5 894.5 525.5 893.5 517.5 897.5 512.5 901.5 512.5 904.5 510.5 904.5 502.5 902.5 496.5 906.5 487.5 906.5 482.5 903.5 478.5 900.5 478.5 895.5 474.5 893.5 468.5 894.5 460.5 892.5 455.5 892.5 449.5 898.5 446.5 900.5 441.5 890.5 427.5 890.5 418.5 877.5 408.5 879.5 395.5 872.5 390.5 871.5 375.5 869.5 371.5 857.5 371.5 856.5 369.5 860.5 364.5 858.5 360.5 851.5 359.5 844.5 354.5 831.5 353.5 826.5 346.5 825.5 333.5 816.5 329.5 812.5 322.5 805.5 316.5 794.5 315.5 792.5 312.5 793.5 307.5 791.5 302.5 784.5 301.5 776.5 297.5 765.5 301.5 753.5 300.5 744.5 290.5 736.5 288.5 731.5 281.5Z"/>
<path fill="#0300fa" d="M725.5 283.5 707.5 287.5 694.5 297.5 691.5 297.5 684.5 292.5 670.5 293.5 658.5 289.5 646.5 310.5 634.5 313.5 628.5 313.5 623.5 311.5 606.5 324.5 592.5 332.5 592.5 336.5 596.5 342.5 595.5 345.5 589.5 351.5 579.5 352.5 579.5 364.5 577.5 368.5 565.5 377.5 560.5 388.5 553.5 393.5 559.5 405.5 556.5 412.5 555.5 422.5 546.5 430.5 546.5 435.5 554.5 441.5 555.5 445.5 551.5 451.5 546.5 453.5 542.5 457.5 540.5 462.5 541.5 474.5 535.5 478.5 536.5 490.5 526.5 497.5 526.5 500.5 532.5 501.5 536.5 504.5 540.5 517.5 548.5 531.5 558.5 544.5 556.5 551.5 560.5 564.5 566.5 566.5 569.5 569.5 577.5 585.5 577.5 597.5 582.5 607.5 582.5 616.5 584.5 621.5 583.5 633.5 585.5 638.5 588.5 641.5 596.5 644.5 606.5 655.5 618.5 659.5 631.5 672.5 639.5 676.5 651.5 679.5 661.5 678.5 673.5 674.5 679.5 674.5 692.5 668.5 698.5 668.5 722.5 660.5 747.5 659.5 760.5 661.5 764.5 659.5 774.5 659.5 789.5 654.5 794.5 649.5 794.5 644.5 792.5 640.5 795.5 635.5 802.5 634.5 807.5 638.5 813.5 638.5 820.5 631.5 826.5 633.5 829.5 632.5 831.5 621.5 835.5 617.5 848.5 618.5 854.5 611.5 863.5 606.5 868.5 601.5 873.5 591.5 876.5 582.5 874.5 575.5 876.5 565.5 886.5 558.5 886.5 552.5 883.5 547.5 882.5 541.5 883.5 538.5 890.5 532.5 891.5 528.5 889.5 522.5 890.5 512.5 882.5 504.5 882.5 502.5 893.5 487.5 898.5 488.5 901.5 485.5 893.5 477.5 889.5 463.5 888.5 446.5 892.5 441.5 892.5 438.5 888.5 435.5 883.5 435.5 879.5 432.5 876.5 419.5 872.5 410.5 872.5 400.5 863.5 392.5 868.5 384.5 868.5 379.5 866.5 377.5 855.5 377.5 850.5 373.5 847.5 363.5 842.5 359.5 833.5 359.5 828.5 356.5 823.5 351.5 822.5 337.5 818.5 334.5 814.5 334.5 811.5 331.5 809.5 324.5 805.5 320.5 792.5 319.5 785.5 311.5 774.5 304.5 759.5 305.5 752.5 303.5 744.5 294.5 734.5 292.5 730.5 286.5Z"/>
<path fill="#0e00e6" d="M725.5 288.5 719.5 288.5 709.5 293.5 703.5 294.5 695.5 301.5 689.5 301.5 683.5 298.5 675.5 300.5 661.5 298.5 656.5 302.5 653.5 310.5 649.5 314.5 639.5 316.5 627.5 323.5 616.5 321.5 608.5 326.5 602.5 333.5 601.5 342.5 590.5 356.5 584.5 361.5 579.5 370.5 572.5 376.5 571.5 385.5 566.5 389.5 567.5 390.5 563.5 396.5 564.5 397.5 562.5 398.5 563.5 405.5 560.5 411.5 560.5 419.5 563.5 423.5 562.5 427.5 557.5 432.5 555.5 431.5 552.5 433.5 559.5 439.5 559.5 448.5 558.5 451.5 551.5 456.5 546.5 463.5 546.5 469.5 550.5 482.5 543.5 491.5 544.5 501.5 542.5 505.5 542.5 510.5 548.5 520.5 552.5 532.5 564.5 543.5 563.5 556.5 566.5 558.5 570.5 558.5 573.5 561.5 577.5 575.5 582.5 582.5 580.5 596.5 584.5 606.5 584.5 614.5 587.5 620.5 586.5 633.5 590.5 639.5 600.5 642.5 609.5 653.5 618.5 656.5 633.5 670.5 648.5 676.5 665.5 675.5 681.5 670.5 690.5 665.5 707.5 663.5 723.5 657.5 753.5 654.5 764.5 647.5 767.5 648.5 771.5 653.5 774.5 653.5 777.5 647.5 781.5 644.5 787.5 649.5 788.5 645.5 786.5 643.5 786.5 639.5 793.5 631.5 804.5 627.5 813.5 628.5 824.5 625.5 833.5 613.5 845.5 613.5 856.5 607.5 869.5 594.5 871.5 588.5 872.5 568.5 878.5 552.5 878.5 540.5 884.5 532.5 886.5 526.5 885.5 514.5 878.5 506.5 878.5 499.5 882.5 491.5 883.5 484.5 885.5 481.5 889.5 479.5 889.5 472.5 884.5 465.5 883.5 461.5 886.5 441.5 880.5 438.5 870.5 426.5 868.5 422.5 867.5 405.5 865.5 401.5 857.5 395.5 856.5 386.5 854.5 382.5 843.5 373.5 841.5 368.5 833.5 365.5 826.5 358.5 818.5 353.5 818.5 341.5 811.5 338.5 801.5 325.5 790.5 322.5 784.5 315.5 778.5 312.5 770.5 313.5 755.5 306.5 752.5 306.5 748.5 304.5 742.5 297.5 732.5 296.5Z"/>
<path fill="#1a00d2" d="M731.5 299.5 726.5 299.5 725.5 304.5 721.5 308.5 705.5 307.5 704.5 304.5 706.5 303.5 706.5 301.5 700.5 307.5 687.5 304.5 672.5 305.5 668.5 303.5 661.5 303.5 658.5 306.5 657.5 313.5 655.5 315.5 634.5 321.5 626.5 326.5 615.5 326.5 612.5 329.5 608.5 340.5 598.5 349.5 591.5 361.5 584.5 367.5 577.5 376.5 576.5 380.5 579.5 389.5 579.5 394.5 576.5 403.5 578.5 408.5 574.5 412.5 573.5 416.5 574.5 426.5 569.5 432.5 573.5 437.5 573.5 444.5 568.5 450.5 564.5 452.5 555.5 463.5 552.5 469.5 552.5 472.5 557.5 480.5 557.5 484.5 549.5 495.5 548.5 504.5 546.5 508.5 551.5 517.5 551.5 522.5 554.5 530.5 557.5 534.5 567.5 539.5 569.5 551.5 574.5 555.5 580.5 567.5 585.5 583.5 584.5 601.5 588.5 615.5 588.5 631.5 591.5 636.5 601.5 638.5 612.5 651.5 619.5 654.5 631.5 666.5 640.5 671.5 652.5 674.5 661.5 674.5 697.5 660.5 709.5 660.5 725.5 654.5 753.5 652.5 772.5 642.5 794.5 626.5 802.5 626.5 815.5 620.5 821.5 621.5 831.5 611.5 842.5 610.5 854.5 605.5 860.5 600.5 866.5 592.5 869.5 582.5 870.5 566.5 872.5 560.5 871.5 545.5 880.5 518.5 880.5 514.5 875.5 507.5 875.5 498.5 877.5 492.5 878.5 477.5 876.5 462.5 882.5 452.5 882.5 444.5 875.5 438.5 864.5 423.5 862.5 408.5 860.5 404.5 853.5 398.5 852.5 389.5 849.5 383.5 842.5 377.5 837.5 369.5 831.5 366.5 826.5 361.5 818.5 358.5 814.5 354.5 814.5 346.5 802.5 334.5 790.5 327.5 780.5 317.5 767.5 316.5 755.5 309.5 744.5 306.5 739.5 301.5ZM719.5 295.5 715.5 296.5 711.5 301.5 719.5 297.5Z"/>
<path fill="#2400c5" d="M734.5 305.5 729.5 305.5 721.5 311.5 706.5 311.5 685.5 307.5 668.5 307.5 652.5 318.5 635.5 323.5 626.5 328.5 617.5 330.5 614.5 333.5 611.5 341.5 599.5 351.5 582.5 377.5 583.5 390.5 580.5 397.5 579.5 410.5 575.5 416.5 575.5 441.5 573.5 447.5 565.5 457.5 558.5 470.5 560.5 482.5 557.5 493.5 551.5 502.5 550.5 512.5 554.5 519.5 556.5 528.5 559.5 531.5 563.5 532.5 567.5 537.5 570.5 548.5 576.5 556.5 582.5 569.5 586.5 582.5 586.5 601.5 591.5 620.5 589.5 626.5 590.5 631.5 594.5 634.5 603.5 637.5 615.5 650.5 620.5 652.5 633.5 665.5 648.5 671.5 659.5 672.5 668.5 668.5 679.5 666.5 695.5 659.5 709.5 657.5 718.5 654.5 754.5 651.5 768.5 644.5 792.5 626.5 804.5 625.5 822.5 617.5 832.5 610.5 843.5 609.5 851.5 604.5 854.5 604.5 861.5 597.5 868.5 580.5 870.5 553.5 868.5 546.5 877.5 517.5 877.5 514.5 872.5 505.5 873.5 494.5 870.5 490.5 870.5 485.5 876.5 473.5 875.5 459.5 879.5 451.5 879.5 446.5 860.5 420.5 857.5 409.5 849.5 397.5 848.5 388.5 846.5 384.5 834.5 369.5 830.5 368.5 823.5 362.5 815.5 359.5 812.5 355.5 809.5 346.5 801.5 337.5 787.5 329.5 781.5 322.5 772.5 322.5 754.5 312.5 744.5 310.5Z"/>
<path fill="#2d00bc" d="M735.5 308.5 730.5 308.5 726.5 312.5 713.5 314.5 684.5 309.5 667.5 310.5 658.5 317.5 634.5 325.5 617.5 333.5 613.5 343.5 610.5 346.5 604.5 348.5 600.5 352.5 587.5 371.5 585.5 388.5 581.5 398.5 581.5 407.5 576.5 421.5 577.5 423.5 575.5 444.5 564.5 461.5 561.5 471.5 560.5 492.5 552.5 505.5 552.5 512.5 556.5 523.5 567.5 535.5 571.5 548.5 577.5 556.5 586.5 576.5 587.5 601.5 590.5 614.5 592.5 616.5 593.5 631.5 603.5 635.5 615.5 647.5 624.5 652.5 631.5 661.5 641.5 667.5 658.5 670.5 667.5 666.5 680.5 664.5 690.5 659.5 709.5 656.5 713.5 654.5 725.5 652.5 752.5 651.5 767.5 644.5 791.5 626.5 804.5 625.5 823.5 616.5 831.5 610.5 842.5 609.5 849.5 604.5 855.5 602.5 860.5 596.5 866.5 582.5 868.5 557.5 865.5 548.5 865.5 543.5 875.5 519.5 875.5 513.5 871.5 507.5 867.5 484.5 872.5 478.5 874.5 472.5 873.5 461.5 876.5 452.5 876.5 446.5 858.5 421.5 845.5 395.5 844.5 387.5 835.5 372.5 814.5 361.5 809.5 351.5 797.5 338.5 790.5 335.5 782.5 328.5 768.5 324.5 760.5 317.5 754.5 314.5 745.5 313.5Z"/>
<path fill="#3500ad" d="M736.5 311.5 732.5 311.5 726.5 316.5 718.5 315.5 713.5 317.5 707.5 317.5 701.5 314.5 695.5 314.5 687.5 311.5 672.5 311.5 667.5 313.5 664.5 317.5 653.5 320.5 642.5 327.5 635.5 327.5 625.5 331.5 618.5 336.5 616.5 344.5 612.5 348.5 604.5 350.5 601.5 353.5 599.5 360.5 591.5 367.5 588.5 374.5 587.5 386.5 582.5 401.5 582.5 411.5 578.5 418.5 576.5 443.5 572.5 452.5 565.5 461.5 563.5 468.5 563.5 490.5 558.5 502.5 554.5 507.5 554.5 514.5 557.5 523.5 569.5 536.5 574.5 551.5 587.5 571.5 589.5 580.5 588.5 600.5 592.5 614.5 598.5 620.5 597.5 628.5 603.5 631.5 611.5 639.5 616.5 641.5 628.5 652.5 633.5 659.5 640.5 663.5 654.5 667.5 661.5 665.5 656.5 660.5 658.5 656.5 666.5 663.5 676.5 663.5 686.5 658.5 697.5 655.5 708.5 655.5 726.5 650.5 750.5 650.5 757.5 648.5 769.5 642.5 791.5 626.5 805.5 624.5 821.5 617.5 831.5 609.5 841.5 608.5 853.5 602.5 857.5 598.5 858.5 590.5 865.5 579.5 866.5 559.5 862.5 551.5 861.5 545.5 863.5 538.5 866.5 535.5 873.5 519.5 873.5 514.5 869.5 506.5 869.5 499.5 864.5 485.5 872.5 471.5 871.5 465.5 874.5 454.5 874.5 446.5 858.5 425.5 854.5 416.5 847.5 408.5 841.5 397.5 836.5 379.5 832.5 373.5 826.5 372.5 814.5 365.5 809.5 360.5 807.5 353.5 786.5 338.5 778.5 330.5 766.5 327.5 758.5 318.5 754.5 316.5 744.5 315.5Z"/>
<path fill="#3d00a0" d="M754.5 318.5 737.5 318.5 734.5 322.5 728.5 324.5 721.5 318.5 717.5 318.5 711.5 321.5 705.5 321.5 700.5 318.5 694.5 319.5 687.5 315.5 674.5 316.5 667.5 320.5 654.5 322.5 644.5 330.5 633.5 330.5 623.5 335.5 617.5 348.5 613.5 351.5 605.5 352.5 603.5 354.5 600.5 364.5 590.5 375.5 588.5 393.5 584.5 401.5 585.5 408.5 580.5 420.5 578.5 441.5 574.5 452.5 568.5 458.5 565.5 464.5 564.5 472.5 567.5 490.5 563.5 499.5 563.5 503.5 557.5 510.5 557.5 520.5 561.5 527.5 571.5 535.5 573.5 544.5 581.5 560.5 589.5 571.5 591.5 580.5 591.5 604.5 593.5 609.5 602.5 618.5 609.5 632.5 612.5 635.5 619.5 637.5 624.5 642.5 630.5 652.5 636.5 657.5 640.5 657.5 645.5 654.5 659.5 652.5 666.5 658.5 673.5 660.5 696.5 652.5 711.5 653.5 725.5 648.5 754.5 648.5 771.5 640.5 786.5 628.5 792.5 625.5 802.5 625.5 823.5 615.5 829.5 609.5 833.5 607.5 840.5 607.5 850.5 602.5 855.5 597.5 855.5 589.5 862.5 575.5 862.5 563.5 858.5 552.5 858.5 542.5 860.5 535.5 870.5 518.5 870.5 513.5 868.5 511.5 868.5 502.5 865.5 494.5 861.5 490.5 861.5 482.5 869.5 468.5 869.5 461.5 873.5 450.5 872.5 446.5 867.5 442.5 864.5 436.5 857.5 429.5 853.5 420.5 843.5 410.5 839.5 402.5 837.5 392.5 832.5 380.5 812.5 369.5 803.5 358.5 797.5 358.5 787.5 343.5 774.5 335.5 761.5 332.5 759.5 323.5Z"/>
<path fill="#4400a0" d="M752.5 321.5 742.5 322.5 733.5 329.5 722.5 328.5 717.5 324.5 704.5 326.5 698.5 323.5 689.5 323.5 680.5 319.5 673.5 320.5 667.5 323.5 657.5 323.5 643.5 334.5 632.5 333.5 628.5 335.5 624.5 339.5 620.5 348.5 615.5 353.5 608.5 354.5 604.5 358.5 600.5 374.5 592.5 383.5 591.5 396.5 588.5 400.5 586.5 414.5 582.5 422.5 579.5 442.5 574.5 455.5 567.5 464.5 569.5 493.5 567.5 496.5 567.5 506.5 560.5 512.5 559.5 521.5 561.5 525.5 567.5 528.5 572.5 533.5 582.5 558.5 591.5 571.5 595.5 597.5 594.5 598.5 597.5 608.5 605.5 616.5 611.5 629.5 615.5 633.5 624.5 636.5 627.5 639.5 632.5 651.5 636.5 654.5 643.5 651.5 660.5 650.5 670.5 657.5 675.5 657.5 683.5 655.5 694.5 649.5 715.5 650.5 725.5 646.5 740.5 648.5 753.5 647.5 770.5 640.5 789.5 626.5 800.5 625.5 821.5 616.5 830.5 607.5 841.5 605.5 852.5 598.5 853.5 588.5 856.5 581.5 855.5 544.5 858.5 533.5 865.5 520.5 864.5 502.5 856.5 492.5 860.5 472.5 866.5 464.5 866.5 456.5 859.5 450.5 862.5 442.5 861.5 439.5 853.5 432.5 851.5 424.5 847.5 418.5 839.5 414.5 836.5 417.5 834.5 416.5 837.5 413.5 837.5 408.5 831.5 386.5 816.5 375.5 808.5 373.5 803.5 364.5 794.5 363.5 790.5 359.5 786.5 347.5 782.5 345.5 777.5 345.5 769.5 338.5 763.5 338.5 760.5 340.5 757.5 339.5 754.5 336.5 755.5 324.5Z"/>
<path fill="#520090" d="M656.5 326.5 642.5 339.5 629.5 339.5 625.5 348.5 618.5 355.5 610.5 356.5 605.5 360.5 602.5 378.5 594.5 386.5 595.5 396.5 591.5 401.5 589.5 411.5 584.5 422.5 582.5 439.5 575.5 456.5 569.5 464.5 571.5 474.5 570.5 483.5 572.5 487.5 572.5 492.5 570.5 496.5 571.5 509.5 562.5 516.5 562.5 522.5 573.5 530.5 576.5 539.5 581.5 547.5 583.5 556.5 593.5 570.5 595.5 586.5 600.5 606.5 607.5 614.5 614.5 627.5 617.5 630.5 629.5 636.5 632.5 641.5 632.5 646.5 634.5 650.5 638.5 651.5 643.5 648.5 661.5 648.5 670.5 654.5 679.5 654.5 693.5 646.5 714.5 648.5 724.5 644.5 736.5 646.5 757.5 645.5 772.5 638.5 790.5 625.5 802.5 624.5 820.5 616.5 830.5 605.5 839.5 604.5 850.5 597.5 853.5 582.5 853.5 574.5 851.5 569.5 851.5 564.5 853.5 560.5 852.5 546.5 856.5 531.5 862.5 519.5 861.5 507.5 853.5 495.5 853.5 488.5 855.5 483.5 854.5 464.5 858.5 460.5 855.5 452.5 852.5 449.5 848.5 448.5 843.5 441.5 843.5 431.5 845.5 428.5 845.5 424.5 834.5 423.5 827.5 416.5 824.5 405.5 818.5 401.5 818.5 397.5 822.5 393.5 825.5 393.5 827.5 391.5 826.5 387.5 814.5 379.5 800.5 379.5 798.5 375.5 799.5 370.5 789.5 364.5 780.5 353.5 774.5 350.5 767.5 343.5 759.5 345.5 745.5 340.5 743.5 334.5 748.5 329.5 747.5 327.5 743.5 327.5 738.5 333.5 734.5 334.5 714.5 330.5 705.5 330.5 699.5 327.5 686.5 326.5 681.5 323.5Z"/>
<path fill="#650a93" d="M669.5 327.5 655.5 332.5 645.5 342.5 635.5 344.5 631.5 350.5 624.5 356.5 620.5 358.5 609.5 359.5 607.5 361.5 605.5 368.5 605.5 379.5 599.5 387.5 599.5 397.5 593.5 404.5 591.5 413.5 586.5 422.5 585.5 438.5 578.5 450.5 576.5 458.5 572.5 463.5 573.5 484.5 575.5 488.5 573.5 496.5 574.5 512.5 566.5 519.5 566.5 521.5 575.5 528.5 578.5 539.5 584.5 547.5 585.5 555.5 595.5 568.5 597.5 584.5 604.5 607.5 611.5 615.5 616.5 624.5 620.5 628.5 628.5 631.5 635.5 638.5 637.5 647.5 641.5 645.5 663.5 646.5 671.5 651.5 680.5 651.5 692.5 643.5 699.5 643.5 708.5 646.5 717.5 645.5 724.5 642.5 730.5 642.5 738.5 645.5 754.5 645.5 769.5 639.5 789.5 625.5 801.5 624.5 818.5 617.5 829.5 603.5 839.5 602.5 849.5 595.5 849.5 544.5 854.5 533.5 855.5 525.5 859.5 518.5 858.5 510.5 849.5 493.5 851.5 486.5 850.5 456.5 838.5 444.5 836.5 429.5 810.5 403.5 816.5 391.5 816.5 386.5 813.5 384.5 803.5 386.5 796.5 384.5 793.5 380.5 793.5 371.5 773.5 353.5 768.5 350.5 760.5 350.5 752.5 346.5 744.5 345.5 732.5 337.5 725.5 337.5 721.5 339.5 717.5 336.5 711.5 336.5 698.5 330.5 686.5 330.5 678.5 326.5Z"/>
<path fill="#752f9d" d="M670.5 331.5 660.5 337.5 652.5 339.5 648.5 344.5 636.5 348.5 633.5 353.5 625.5 360.5 620.5 362.5 611.5 361.5 608.5 365.5 608.5 387.5 603.5 395.5 601.5 402.5 596.5 407.5 589.5 421.5 588.5 437.5 580.5 448.5 578.5 457.5 575.5 462.5 577.5 484.5 576.5 500.5 578.5 511.5 576.5 521.5 579.5 537.5 585.5 544.5 589.5 557.5 598.5 567.5 598.5 575.5 601.5 583.5 601.5 589.5 605.5 596.5 605.5 602.5 607.5 607.5 613.5 613.5 621.5 625.5 632.5 630.5 644.5 641.5 650.5 643.5 665.5 643.5 677.5 648.5 685.5 642.5 692.5 640.5 705.5 643.5 715.5 643.5 723.5 640.5 730.5 640.5 739.5 644.5 758.5 643.5 778.5 633.5 788.5 625.5 802.5 623.5 817.5 617.5 821.5 614.5 825.5 605.5 829.5 601.5 840.5 599.5 847.5 594.5 848.5 581.5 844.5 571.5 846.5 556.5 840.5 548.5 840.5 545.5 845.5 542.5 851.5 534.5 852.5 527.5 850.5 522.5 855.5 514.5 846.5 493.5 848.5 482.5 848.5 468.5 846.5 460.5 843.5 454.5 834.5 449.5 830.5 445.5 830.5 433.5 826.5 425.5 819.5 420.5 815.5 413.5 808.5 407.5 806.5 401.5 809.5 391.5 802.5 392.5 796.5 390.5 790.5 384.5 789.5 371.5 781.5 366.5 770.5 355.5 760.5 355.5 753.5 350.5 744.5 349.5 733.5 344.5 729.5 350.5 725.5 350.5 712.5 345.5 699.5 335.5 680.5 335.5 676.5 331.5Z"/>
<path fill="#8344a8" d="M658.5 341.5 650.5 347.5 638.5 351.5 626.5 363.5 611.5 366.5 609.5 373.5 611.5 389.5 605.5 397.5 603.5 406.5 592.5 420.5 591.5 435.5 581.5 449.5 578.5 460.5 578.5 467.5 580.5 470.5 579.5 482.5 581.5 506.5 580.5 533.5 582.5 538.5 588.5 544.5 590.5 554.5 599.5 562.5 601.5 566.5 601.5 574.5 604.5 579.5 604.5 588.5 608.5 595.5 609.5 605.5 619.5 615.5 623.5 623.5 633.5 627.5 646.5 636.5 648.5 636.5 654.5 630.5 657.5 632.5 659.5 639.5 670.5 639.5 677.5 641.5 683.5 638.5 700.5 638.5 707.5 641.5 712.5 641.5 729.5 636.5 737.5 642.5 754.5 643.5 777.5 633.5 789.5 624.5 799.5 623.5 814.5 615.5 819.5 614.5 821.5 611.5 822.5 603.5 825.5 599.5 840.5 596.5 845.5 592.5 844.5 579.5 838.5 571.5 838.5 568.5 842.5 562.5 842.5 556.5 835.5 550.5 832.5 541.5 834.5 538.5 844.5 538.5 849.5 531.5 846.5 523.5 849.5 510.5 848.5 504.5 844.5 496.5 845.5 469.5 842.5 465.5 834.5 465.5 829.5 461.5 831.5 455.5 827.5 454.5 823.5 450.5 825.5 436.5 822.5 427.5 813.5 421.5 811.5 414.5 802.5 405.5 801.5 402.5 798.5 402.5 796.5 404.5 793.5 404.5 791.5 402.5 790.5 392.5 785.5 385.5 787.5 375.5 783.5 370.5 768.5 360.5 758.5 360.5 751.5 355.5 741.5 352.5 736.5 352.5 733.5 355.5 726.5 356.5 690.5 338.5 680.5 341.5Z"/>
<path fill="#925cb4" d="M587.5 530.5 589.5 529.5 590.5 532.5 588.5 533.5ZM660.5 346.5 654.5 351.5 648.5 351.5 639.5 355.5 628.5 366.5 614.5 371.5 614.5 388.5 608.5 397.5 608.5 407.5 597.5 420.5 595.5 424.5 595.5 434.5 591.5 442.5 583.5 449.5 580.5 457.5 584.5 480.5 583.5 495.5 588.5 503.5 585.5 511.5 586.5 528.5 584.5 530.5 584.5 533.5 589.5 536.5 593.5 552.5 601.5 559.5 603.5 563.5 605.5 573.5 609.5 579.5 608.5 588.5 611.5 594.5 611.5 602.5 614.5 606.5 624.5 613.5 625.5 619.5 628.5 622.5 635.5 624.5 643.5 629.5 654.5 626.5 658.5 628.5 664.5 635.5 679.5 635.5 690.5 633.5 697.5 630.5 707.5 632.5 722.5 632.5 729.5 630.5 739.5 640.5 756.5 640.5 767.5 635.5 787.5 621.5 796.5 621.5 806.5 617.5 817.5 607.5 820.5 599.5 825.5 594.5 834.5 594.5 841.5 590.5 841.5 585.5 838.5 582.5 833.5 582.5 831.5 579.5 831.5 568.5 836.5 558.5 831.5 554.5 829.5 548.5 830.5 535.5 833.5 533.5 842.5 535.5 845.5 532.5 845.5 527.5 841.5 518.5 843.5 502.5 838.5 484.5 841.5 473.5 832.5 470.5 824.5 463.5 818.5 449.5 818.5 445.5 821.5 440.5 821.5 434.5 819.5 430.5 809.5 423.5 805.5 413.5 795.5 411.5 788.5 406.5 785.5 400.5 785.5 396.5 779.5 385.5 779.5 373.5 773.5 367.5 769.5 365.5 758.5 366.5 739.5 356.5 730.5 359.5 725.5 359.5 713.5 353.5 707.5 352.5 690.5 342.5 685.5 343.5 683.5 348.5 680.5 350.5 669.5 346.5Z"/>
<path fill="#a97ec4" d="M737.5 601.5 742.5 597.5 747.5 597.5 754.5 604.5 754.5 609.5 749.5 612.5ZM801.5 592.5 803.5 590.5 805.5 591.5 803.5 594.5ZM625.5 566.5 629.5 566.5 631.5 568.5 630.5 576.5 627.5 579.5 620.5 578.5 617.5 575.5 619.5 570.5ZM702.5 556.5 706.5 556.5 708.5 558.5 708.5 562.5 705.5 565.5 702.5 565.5 699.5 562.5 699.5 559.5ZM740.5 535.5 744.5 531.5 749.5 530.5 755.5 538.5 759.5 539.5 762.5 542.5 760.5 544.5 748.5 544.5 741.5 538.5ZM736.5 519.5 742.5 515.5 747.5 519.5 747.5 522.5 745.5 524.5 740.5 523.5ZM684.5 504.5 688.5 503.5 690.5 507.5 687.5 509.5 684.5 507.5ZM590.5 480.5 593.5 477.5 598.5 476.5 603.5 479.5 603.5 483.5 599.5 487.5 594.5 487.5 590.5 483.5ZM772.5 458.5 780.5 458.5 788.5 464.5 788.5 475.5 790.5 478.5 797.5 482.5 791.5 489.5 782.5 488.5 775.5 475.5 767.5 468.5 766.5 465.5ZM801.5 458.5 804.5 455.5 808.5 457.5 808.5 459.5 805.5 461.5ZM706.5 449.5 709.5 446.5 713.5 446.5 721.5 451.5 723.5 454.5 720.5 455.5 716.5 453.5 707.5 453.5ZM600.5 455.5 600.5 452.5 607.5 445.5 612.5 445.5 620.5 450.5 620.5 453.5 614.5 459.5 608.5 459.5ZM732.5 449.5 737.5 444.5 742.5 444.5 744.5 446.5 741.5 453.5 735.5 453.5 732.5 451.5ZM746.5 442.5 752.5 438.5 772.5 442.5 775.5 444.5 776.5 447.5 773.5 450.5 760.5 450.5 755.5 447.5 748.5 446.5ZM647.5 403.5 653.5 405.5 653.5 411.5 650.5 414.5 647.5 414.5 644.5 411.5 644.5 407.5ZM698.5 404.5 702.5 402.5 706.5 406.5 706.5 408.5 702.5 410.5ZM656.5 369.5 658.5 365.5 662.5 366.5 660.5 370.5ZM664.5 351.5 660.5 356.5 650.5 359.5 646.5 365.5 637.5 365.5 630.5 371.5 623.5 373.5 617.5 382.5 615.5 405.5 603.5 421.5 593.5 446.5 585.5 452.5 584.5 463.5 586.5 469.5 586.5 477.5 589.5 483.5 588.5 494.5 592.5 500.5 589.5 518.5 597.5 530.5 594.5 539.5 595.5 548.5 602.5 555.5 607.5 570.5 613.5 580.5 616.5 599.5 624.5 605.5 640.5 612.5 648.5 622.5 657.5 624.5 669.5 630.5 676.5 628.5 677.5 621.5 686.5 614.5 690.5 614.5 694.5 618.5 695.5 624.5 700.5 623.5 714.5 627.5 730.5 627.5 745.5 636.5 759.5 636.5 765.5 633.5 771.5 627.5 768.5 624.5 768.5 620.5 772.5 616.5 776.5 618.5 777.5 622.5 789.5 616.5 799.5 617.5 803.5 615.5 815.5 603.5 826.5 578.5 827.5 570.5 825.5 559.5 826.5 539.5 826.5 547.5 822.5 547.5 814.5 538.5 813.5 532.5 818.5 522.5 824.5 523.5 830.5 530.5 828.5 532.5 835.5 526.5 836.5 514.5 839.5 504.5 838.5 493.5 830.5 474.5 822.5 466.5 815.5 452.5 814.5 441.5 816.5 438.5 816.5 433.5 778.5 402.5 774.5 402.5 769.5 398.5 770.5 390.5 775.5 389.5 772.5 382.5 772.5 372.5 770.5 370.5 751.5 370.5 739.5 362.5 722.5 362.5 713.5 357.5 704.5 356.5 696.5 351.5 691.5 351.5 684.5 356.5 679.5 356.5 669.5 351.5Z"/>
<path fill="#b48fcc" d="M731.5 587.5 733.5 589.5 735.5 588.5ZM792.5 529.5 789.5 527.5 783.5 528.5 779.5 533.5 780.5 537.5 782.5 539.5 789.5 538.5 793.5 534.5ZM610.5 492.5 606.5 492.5 603.5 495.5 604.5 513.5 616.5 498.5 616.5 496.5ZM639.5 466.5 643.5 468.5 642.5 466.5ZM752.5 394.5 750.5 397.5 751.5 400.5 755.5 402.5 757.5 400.5 757.5 395.5ZM628.5 383.5 624.5 384.5 623.5 388.5 629.5 388.5 630.5 385.5Z"/>
<polygon fill="#808080" stroke="#000" stroke-width="0.9" stroke-linejoin="round" points="431.4,276.0 437.0,289.0 439.0,301.0 443.0,315.0 441.0,325.0 433.0,330.0 426.0,333.0 431.0,335.0 439.0,333.0 447.0,337.0 449.0,345.0 445.0,365.0 453.0,371.0 455.0,379.0 449.0,383.0 453.0,387.0 459.0,385.0 461.0,383.0 463.0,389.0 469.0,397.0 473.0,405.0 481.0,407.0 487.0,407.0 491.0,415.0 499.0,425.0 513.0,427.0 525.0,421.0 527.0,431.0 521.0,441.0 509.0,447.0 495.0,447.0 481.0,443.0 469.0,439.0 461.0,431.0 441.0,423.0 425.0,421.0 411.0,415.0 401.0,407.0 385.0,397.0 367.0,392.0 359.3,389.5 361.2,384.1 363.1,378.7 365.1,373.4 367.2,368.1 369.3,362.9 371.6,357.6 373.9,352.4 376.3,347.3 378.8,342.2 381.3,337.1 384.0,332.1 386.7,327.1 389.5,322.1 392.4,317.2 395.4,312.4 398.4,307.6 401.5,302.8 404.7,298.1 408.0,293.4 411.3,288.8 414.7,284.3 418.2,279.8 421.7,275.3 425.4,270.9"/>
<polygon fill="#808080" stroke="#000" stroke-width="0.9" stroke-linejoin="round" points="806.0,166.0 804.0,185.0 806.0,197.0 812.0,203.0 828.0,205.0 838.0,209.0 850.0,211.0 868.0,207.0 882.0,201.0 886.7,193.2 883.6,191.3 880.5,189.5 877.4,187.8 874.3,186.1 871.1,184.4 867.9,182.7 864.8,181.0 861.6,179.4 858.3,177.9 855.1,176.3 851.9,174.8 848.6,173.3 845.3,171.9 842.0,170.5 838.7,169.1 835.4,167.8 832.1,166.4 828.7,165.2 825.4,163.9 822.0,162.7 818.6,161.5 815.2,160.4 811.8,159.3 808.4,158.2"/>
<polygon fill="#808080" stroke="#000" stroke-width="0.9" stroke-linejoin="round" points="1020.0,650.0 998.0,647.0 996.0,641.0 988.0,643.0 984.0,649.0 982.0,665.0 976.0,675.0 974.0,685.0 972.0,701.0 966.0,711.0 958.0,725.0 944.0,733.0 928.0,730.0 924.0,734.0 915.0,732.0 909.0,738.0 899.0,734.0 880.0,736.0 871.0,743.0 861.0,745.0 853.0,761.0 857.0,782.0 857.0,801.0 859.0,816.0 863.3,824.5 872.2,819.9 881.0,815.0 889.7,809.8 898.2,804.4 906.6,798.8 914.8,793.0 922.9,786.9 930.7,780.6 938.4,774.1 945.9,767.3 953.3,760.4 960.4,753.2 967.3,745.9 974.0,738.4 980.5,730.7 986.8,722.8 992.8,714.7 998.7,706.5 1004.2,698.1 1009.6,689.5 1014.7,680.9 1019.6,672.0 1024.2,663.1 1028.6,654.0"/>
<polygon fill="#808080" stroke="#000" stroke-width="0.9" stroke-linejoin="round" points="752.0,736.0 759.0,743.0 756.0,755.0 744.0,768.0 738.0,780.0 731.0,778.0 729.0,772.0 734.0,761.0 742.0,745.0 746.0,740.0"/>
<polygon fill="#808080" stroke="#000" stroke-width="0.9" stroke-linejoin="round" points="723.0,776.0 727.0,786.0 733.0,789.0 727.0,797.0 729.0,807.0 736.0,816.0 740.0,820.0 731.0,818.0 725.0,809.0 717.0,803.0 710.0,801.0 713.0,791.0 719.0,782.0"/>
<polygon fill="#808080" stroke="#000" stroke-width="0.9" stroke-linejoin="round" points="844.0,722.0 851.0,720.0 863.0,730.0 855.0,736.0 851.0,743.0 846.0,738.0"/>
<polygon fill="#808080" stroke="#000" stroke-width="0.9" stroke-linejoin="round" points="682.8,404.0 690.0,399.2 697.2,398.0 714.0,396.8 733.2,400.4 752.4,406.4 764.4,408.8 769.2,417.2 786.0,416.0 793.2,422.0 805.2,423.2 808.8,430.4 808.8,447.2 812.4,459.2 802.8,466.4 810.0,473.6 819.6,483.2 826.8,495.2 828.0,514.4 828.0,536.0 824.4,548.0 819.6,567.2 810.0,584.0 800.4,591.2 778.8,598.4 757.2,603.2 738.0,603.2 723.6,600.8 718.8,591.2 723.6,576.8 718.8,562.4 721.0,557.6 714.0,563.6 702.0,564.8 682.8,561.2 675.6,564.8 666.0,564.8 656.4,560.0 642.0,557.6 632.4,550.4 627.6,543.2 622.8,527.6 621.6,516.8 613.2,512.0 606.0,514.4 609.6,500.0 610.8,489.2 609.6,482.0 615.6,478.4 616.8,470.0 615.6,462.8 600.0,461.6 597.6,456.8 590.4,459.2 585.6,456.8 585.6,450.8 580.8,444.8 577.2,437.6 579.5,421.0 581.5,419.6 582.0,428.0 584.4,436.4 588.0,443.6 591.6,448.4 597.6,452.0 606.0,452.0 615.6,454.4 625.2,458.0 632.4,465.2 637.2,474.8 644.4,466.4 654.0,460.4 663.6,453.2 664.8,443.6 668.4,434.0 669.6,425.6 674.4,417.2 681.6,410.0"/>
<polygon fill="#808080" stroke="#000" stroke-width="0.9" stroke-linejoin="round" points="594.0,465.2 612.0,466.4 613.2,474.8 604.8,478.4 601.2,471.2"/>
<polygon fill="#fff" stroke="none" points="721.0,557.6 714.0,563.6 702.0,564.8 682.8,561.2 675.6,557.6 675.6,545.6 685.2,538.4 687.6,526.4 697.2,524.0 711.6,533.6 718.8,548.0"/>
<line x1="737" y1="402" x2="811" y2="203" stroke="#fff" stroke-width="1"/>
<polygon fill="#808080" stroke="#000" stroke-width="0.9" stroke-linejoin="round" points="515.0,390.0 521.0,388.0 523.0,393.0 520.0,398.0 516.0,397.0"/>
<polygon fill="#808080" stroke="#000" stroke-width="0.9" stroke-linejoin="round" points="579.0,344.0 585.0,343.0 587.0,346.0 581.0,347.0"/>
<polygon fill="#808080" stroke="#000" stroke-width="0.9" stroke-linejoin="round" points="912.0,420.0 916.0,421.0 916.0,425.0 913.0,426.0"/>
<polygon fill="#808080" stroke="#000" stroke-width="0.9" stroke-linejoin="round" points="585.0,389.0 588.0,389.0 588.0,392.0 585.0,392.0"/>
</g>
<g fill="none" stroke="#000" stroke-width="1" stroke-dasharray="1.2 3.3"><circle cx="701.6" cy="502.4" r="311.3"/><circle cx="701.6" cy="502.4" r="234.5"/><circle cx="701.6" cy="502.4" r="163.7"/><circle cx="701.6" cy="502.4" r="96.8"/><circle cx="701.6" cy="502.4" r="32.0"/><line x1="701.6" y1="502.4" x2="701.6" y2="150.0"/><line x1="701.6" y1="502.4" x2="877.8" y2="197.2"/><line x1="701.6" y1="502.4" x2="1006.8" y2="326.2"/><line x1="701.6" y1="502.4" x2="1054.0" y2="502.4"/><line x1="701.6" y1="502.4" x2="1006.8" y2="678.6"/><line x1="701.6" y1="502.4" x2="877.8" y2="807.6"/><line x1="701.6" y1="502.4" x2="701.6" y2="854.8"/><line x1="701.6" y1="502.4" x2="525.4" y2="807.6"/><line x1="701.6" y1="502.4" x2="396.4" y2="678.6"/><line x1="701.6" y1="502.4" x2="349.2" y2="502.4"/><line x1="701.6" y1="502.4" x2="396.4" y2="326.2"/><line x1="701.6" y1="502.4" x2="525.4" y2="197.2"/></g>
<circle cx="701.6" cy="502.4" r="352.4" fill="none" stroke="#000" stroke-width="1.2"/>
<g stroke="#000" stroke-width="1"><line x1="701.6" y1="150.0" x2="701.6" y2="143.0"/><line x1="877.8" y1="197.2" x2="881.3" y2="191.2"/><line x1="1006.8" y1="326.2" x2="1012.8" y2="322.7"/><line x1="1054.0" y1="502.4" x2="1061.0" y2="502.4"/><line x1="1006.8" y1="678.6" x2="1012.8" y2="682.1"/><line x1="877.8" y1="807.6" x2="881.3" y2="813.6"/><line x1="701.6" y1="854.8" x2="701.6" y2="861.8"/><line x1="525.4" y1="807.6" x2="521.9" y2="813.6"/><line x1="396.4" y1="678.6" x2="390.4" y2="682.1"/><line x1="349.2" y1="502.4" x2="342.2" y2="502.4"/><line x1="396.4" y1="326.2" x2="390.4" y2="322.7"/><line x1="525.4" y1="197.2" x2="521.9" y2="191.2"/><line x1="701.6" y1="511.4" x2="701.6" y2="493.4"/><line x1="697.1" y1="510.2" x2="706.1" y2="494.6"/><line x1="693.8" y1="506.9" x2="709.4" y2="497.9"/><line x1="692.6" y1="502.4" x2="710.6" y2="502.4"/><line x1="693.8" y1="497.9" x2="709.4" y2="506.9"/><line x1="697.1" y1="494.6" x2="706.1" y2="510.2"/><line x1="701.6" y1="493.4" x2="701.6" y2="511.4"/><line x1="706.1" y1="494.6" x2="697.1" y2="510.2"/><line x1="709.4" y1="497.9" x2="693.8" y2="506.9"/><line x1="710.6" y1="502.4" x2="692.6" y2="502.4"/><line x1="709.4" y1="506.9" x2="693.8" y2="497.9"/><line x1="706.1" y1="510.2" x2="697.1" y2="494.6"/><line x1="701.6" y1="502.4" x2="701.6" y2="534.4"/><line x1="687.6" y1="813.7" x2="701.6" y2="813.7"/><line x1="687.6" y1="736.9" x2="701.6" y2="736.9"/><line x1="687.6" y1="666.1" x2="701.6" y2="666.1"/><line x1="687.6" y1="599.2" x2="701.6" y2="599.2"/><line x1="687.6" y1="534.4" x2="701.6" y2="534.4"/></g>
<g font-family="Liberation Sans" font-size="16.5" fill="#000"><text transform="translate(701.6 129.9) rotate(0)" x="0" y="9" text-anchor="middle">0<tspan font-size="12.5" dx="1" dy="-8">o</tspan><tspan dx="1" dy="8"></tspan></text><text transform="translate(887.9 179.8) rotate(30)" x="0" y="9" text-anchor="middle">30<tspan font-size="12.5" dx="1" dy="-8">o</tspan><tspan dx="1" dy="8">E</tspan></text><text transform="translate(1024.2 316.1) rotate(60)" x="0" y="9" text-anchor="middle">60<tspan font-size="12.5" dx="1" dy="-8">o</tspan><tspan dx="1" dy="8">E</tspan></text><text transform="translate(1074.1 502.4) rotate(90)" x="0" y="9" text-anchor="middle">90<tspan font-size="12.5" dx="1" dy="-8">o</tspan><tspan dx="1" dy="8">E</tspan></text><text transform="translate(1024.2 688.6) rotate(-60)" x="0" y="9" text-anchor="middle">120<tspan font-size="12.5" dx="1" dy="-8">o</tspan><tspan dx="1" dy="8">E</tspan></text><text transform="translate(887.9 825.0) rotate(-30)" x="0" y="9" text-anchor="middle">150<tspan font-size="12.5" dx="1" dy="-8">o</tspan><tspan dx="1" dy="8">E</tspan></text><text transform="translate(701.6 874.9) rotate(0)" x="0" y="9" text-anchor="middle">180<tspan font-size="12.5" dx="1" dy="-8">o</tspan><tspan dx="1" dy="8">W</tspan></text><text transform="translate(515.4 825.0) rotate(30)" x="0" y="9" text-anchor="middle">150<tspan font-size="12.5" dx="1" dy="-8">o</tspan><tspan dx="1" dy="8">W</tspan></text><text transform="translate(379.0 688.6) rotate(60)" x="0" y="9" text-anchor="middle">120<tspan font-size="12.5" dx="1" dy="-8">o</tspan><tspan dx="1" dy="8">W</tspan></text><text transform="translate(329.1 502.4) rotate(-90)" x="0" y="9" text-anchor="middle">90<tspan font-size="12.5" dx="1" dy="-8">o</tspan><tspan dx="1" dy="8">W</tspan></text><text transform="translate(379.0 316.1) rotate(-60)" x="0" y="9" text-anchor="middle">60<tspan font-size="12.5" dx="1" dy="-8">o</tspan><tspan dx="1" dy="8">W</tspan></text><text transform="translate(515.4 179.8) rotate(-30)" x="0" y="9" text-anchor="middle">30<tspan font-size="12.5" dx="1" dy="-8">o</tspan><tspan dx="1" dy="8">W</tspan></text></g>
<g font-family="Liberation Sans" font-size="16.5" fill="#000"><text x="715.0" y="545.4">84<tspan font-size="12.5" dx="1" dy="-8">o</tspan><tspan dx="1" dy="8">S</tspan></text><text x="711.5" y="610.2">72<tspan font-size="12.5" dx="1" dy="-8">o</tspan><tspan dx="1" dy="8">S</tspan></text><text x="707.0" y="677.1">60<tspan font-size="12.5" dx="1" dy="-8">o</tspan><tspan dx="1" dy="8">S</tspan></text><text x="704.3" y="747.9">48<tspan font-size="12.5" dx="1" dy="-8">o</tspan><tspan dx="1" dy="8">S</tspan></text><text x="700.7" y="824.7">36<tspan font-size="12.5" dx="1" dy="-8">o</tspan><tspan dx="1" dy="8">S</tspan></text></g>
<g shape-rendering="crispEdges"><rect x="376.60" y="911.2" width="6.98" height="19.1" fill="#ae86c8"/><rect x="383.18" y="911.2" width="6.98" height="19.1" fill="#a274c0"/><rect x="389.76" y="911.2" width="6.98" height="19.1" fill="#9661b6"/><rect x="396.34" y="911.2" width="6.98" height="19.1" fill="#8b51ae"/><rect x="402.92" y="911.2" width="6.98" height="19.1" fill="#8345a8"/><rect x="409.50" y="911.2" width="6.98" height="19.1" fill="#7c3aa2"/><rect x="416.07" y="911.2" width="6.98" height="19.1" fill="#752e9d"/><rect x="422.65" y="911.2" width="6.98" height="19.1" fill="#6d1b98"/><rect x="429.23" y="911.2" width="6.98" height="19.1" fill="#610692"/><rect x="435.81" y="911.2" width="6.98" height="19.1" fill="#570090"/><rect x="442.39" y="911.2" width="6.98" height="19.1" fill="#4f0091"/><rect x="448.97" y="911.2" width="6.98" height="19.1" fill="#47009c"/><rect x="455.55" y="911.2" width="6.98" height="19.1" fill="#4200a0"/><rect x="462.13" y="911.2" width="6.98" height="19.1" fill="#3e00a0"/><rect x="468.71" y="911.2" width="6.98" height="19.1" fill="#3b00a3"/><rect x="475.29" y="911.2" width="6.98" height="19.1" fill="#3600ac"/><rect x="481.86" y="911.2" width="6.98" height="19.1" fill="#3100b5"/><rect x="488.44" y="911.2" width="6.98" height="19.1" fill="#2d00bc"/><rect x="495.02" y="911.2" width="6.98" height="19.1" fill="#2800c1"/><rect x="501.60" y="911.2" width="6.98" height="19.1" fill="#2300c6"/><rect x="508.18" y="911.2" width="6.98" height="19.1" fill="#1e00cd"/><rect x="514.76" y="911.2" width="6.98" height="19.1" fill="#1800d4"/><rect x="521.34" y="911.2" width="6.98" height="19.1" fill="#1100df"/><rect x="527.92" y="911.2" width="6.98" height="19.1" fill="#0a00ed"/><rect x="534.50" y="911.2" width="6.98" height="19.1" fill="#0400f7"/><rect x="541.08" y="911.2" width="6.98" height="19.1" fill="#0003fc"/><rect x="547.65" y="911.2" width="6.98" height="19.1" fill="#0020e0"/><rect x="554.23" y="911.2" width="6.98" height="19.1" fill="#0027d6"/><rect x="560.81" y="911.2" width="6.98" height="19.1" fill="#002ecb"/><rect x="567.39" y="911.2" width="6.98" height="19.1" fill="#0033c5"/><rect x="573.97" y="911.2" width="6.98" height="19.1" fill="#0039bf"/><rect x="580.55" y="911.2" width="6.98" height="19.1" fill="#0046ab"/><rect x="587.13" y="911.2" width="6.98" height="19.1" fill="#004e9c"/><rect x="593.71" y="911.2" width="6.98" height="19.1" fill="#00558d"/><rect x="600.29" y="911.2" width="6.98" height="19.1" fill="#005f7f"/><rect x="606.87" y="911.2" width="6.98" height="19.1" fill="#006873"/><rect x="613.44" y="911.2" width="6.98" height="19.1" fill="#037066"/><rect x="620.02" y="911.2" width="6.98" height="19.1" fill="#087a54"/><rect x="626.60" y="911.2" width="6.98" height="19.1" fill="#088147"/><rect x="633.18" y="911.2" width="6.98" height="19.1" fill="#088b3f"/><rect x="639.76" y="911.2" width="6.98" height="19.1" fill="#089632"/><rect x="646.34" y="911.2" width="6.98" height="19.1" fill="#08a523"/><rect x="652.92" y="911.2" width="6.98" height="19.1" fill="#08b016"/><rect x="659.50" y="911.2" width="6.98" height="19.1" fill="#15b810"/><rect x="666.08" y="911.2" width="6.98" height="19.1" fill="#2cc010"/><rect x="672.65" y="911.2" width="6.98" height="19.1" fill="#44c710"/><rect x="679.23" y="911.2" width="6.98" height="19.1" fill="#53cb10"/><rect x="685.81" y="911.2" width="6.98" height="19.1" fill="#61ce0b"/><rect x="692.39" y="911.2" width="6.98" height="19.1" fill="#70d408"/><rect x="698.97" y="911.2" width="6.98" height="19.1" fill="#7ed908"/><rect x="705.55" y="911.2" width="6.98" height="19.1" fill="#8cdd08"/><rect x="712.13" y="911.2" width="6.98" height="19.1" fill="#9be108"/><rect x="718.71" y="911.2" width="6.98" height="19.1" fill="#a9e408"/><rect x="725.29" y="911.2" width="6.98" height="19.1" fill="#b7e808"/><rect x="731.87" y="911.2" width="6.98" height="19.1" fill="#c6ef01"/><rect x="738.45" y="911.2" width="6.98" height="19.1" fill="#d3f300"/><rect x="745.02" y="911.2" width="6.98" height="19.1" fill="#e2f600"/><rect x="751.60" y="911.2" width="6.98" height="19.1" fill="#f0fa00"/><rect x="758.18" y="911.2" width="6.98" height="19.1" fill="#fbfd00"/><rect x="764.76" y="911.2" width="6.98" height="19.1" fill="#fffd00"/><rect x="771.34" y="911.2" width="6.98" height="19.1" fill="#fff800"/><rect x="777.92" y="911.2" width="6.98" height="19.1" fill="#fff300"/><rect x="784.50" y="911.2" width="6.98" height="19.1" fill="#ffed00"/><rect x="791.08" y="911.2" width="6.98" height="19.1" fill="#ffe600"/><rect x="797.66" y="911.2" width="6.98" height="19.1" fill="#ffde00"/><rect x="804.24" y="911.2" width="6.98" height="19.1" fill="#ffd700"/><rect x="810.81" y="911.2" width="6.98" height="19.1" fill="#ffd000"/><rect x="817.39" y="911.2" width="6.98" height="19.1" fill="#ffcb00"/><rect x="823.97" y="911.2" width="6.98" height="19.1" fill="#ffc500"/><rect x="830.55" y="911.2" width="6.98" height="19.1" fill="#ffc000"/><rect x="837.13" y="911.2" width="6.98" height="19.1" fill="#ffbb00"/><rect x="843.71" y="911.2" width="6.98" height="19.1" fill="#ffb600"/><rect x="850.29" y="911.2" width="6.98" height="19.1" fill="#ffb000"/><rect x="856.87" y="911.2" width="6.98" height="19.1" fill="#ffab00"/><rect x="863.45" y="911.2" width="6.98" height="19.1" fill="#ffa500"/><rect x="870.03" y="911.2" width="6.98" height="19.1" fill="#ff9e00"/><rect x="876.60" y="911.2" width="6.98" height="19.1" fill="#ff9600"/><rect x="883.18" y="911.2" width="6.98" height="19.1" fill="#ff8e00"/><rect x="889.76" y="911.2" width="6.98" height="19.1" fill="#ff8500"/><rect x="896.34" y="911.2" width="6.98" height="19.1" fill="#ff7c00"/><rect x="902.92" y="911.2" width="6.98" height="19.1" fill="#ff7300"/><rect x="909.50" y="911.2" width="6.98" height="19.1" fill="#ff6a00"/><rect x="916.08" y="911.2" width="6.98" height="19.1" fill="#ff5e00"/><rect x="922.66" y="911.2" width="6.98" height="19.1" fill="#ff5200"/><rect x="929.24" y="911.2" width="6.98" height="19.1" fill="#ff4700"/><rect x="935.82" y="911.2" width="6.98" height="19.1" fill="#ff3f00"/><rect x="942.39" y="911.2" width="6.98" height="19.1" fill="#ff3500"/><rect x="948.97" y="911.2" width="6.98" height="19.1" fill="#ff2a00"/><rect x="955.55" y="911.2" width="6.98" height="19.1" fill="#ff2000"/><rect x="962.13" y="911.2" width="6.98" height="19.1" fill="#ff1600"/><rect x="968.71" y="911.2" width="6.98" height="19.1" fill="#ff0b00"/><rect x="975.29" y="911.2" width="6.98" height="19.1" fill="#fb0000"/><rect x="981.87" y="911.2" width="6.98" height="19.1" fill="#f00000"/><rect x="988.45" y="911.2" width="6.98" height="19.1" fill="#e60000"/><rect x="995.03" y="911.2" width="6.98" height="19.1" fill="#de0000"/><rect x="1001.61" y="911.2" width="6.98" height="19.1" fill="#d60000"/><rect x="1008.18" y="911.2" width="6.98" height="19.1" fill="#ce0000"/><rect x="1014.76" y="911.2" width="6.98" height="19.1" fill="#c30000"/><rect x="1021.34" y="911.2" width="6.98" height="19.1" fill="#b60000"/><rect x="1027.92" y="911.2" width="6.98" height="19.1" fill="#ad0000"/></g>
<rect x="376.6" y="911.2" width="657.9" height="19.1" fill="none" stroke="#262626" stroke-width="1.1"/>
<g stroke="#262626" stroke-width="1"><line x1="429.5" y1="930.3" x2="429.5" y2="924.3"/><line x1="550.5" y1="930.3" x2="550.5" y2="924.3"/><line x1="671.5" y1="930.3" x2="671.5" y2="924.3"/><line x1="792.5" y1="930.3" x2="792.5" y2="924.3"/><line x1="913.5" y1="930.3" x2="913.5" y2="924.3"/><line x1="1034.5" y1="930.3" x2="1034.5" y2="924.3"/></g>
<g font-family="Liberation Sans" font-size="17" fill="#262626"><text x="429.5" y="956.1" text-anchor="middle">0</text><text x="550.5" y="956.1" text-anchor="middle">5</text><text x="671.5" y="956.1" text-anchor="middle">10</text><text x="792.5" y="956.1" text-anchor="middle">15</text><text x="913.5" y="956.1" text-anchor="middle">20</text><text x="1034.5" y="956.1" text-anchor="middle">25</text><text x="705.5" y="978.9" text-anchor="middle"><tspan font-size="8" dy="-7">o</tspan><tspan dx="1" dy="7">C</tspan></text></g>
</svg>
</body></html>
